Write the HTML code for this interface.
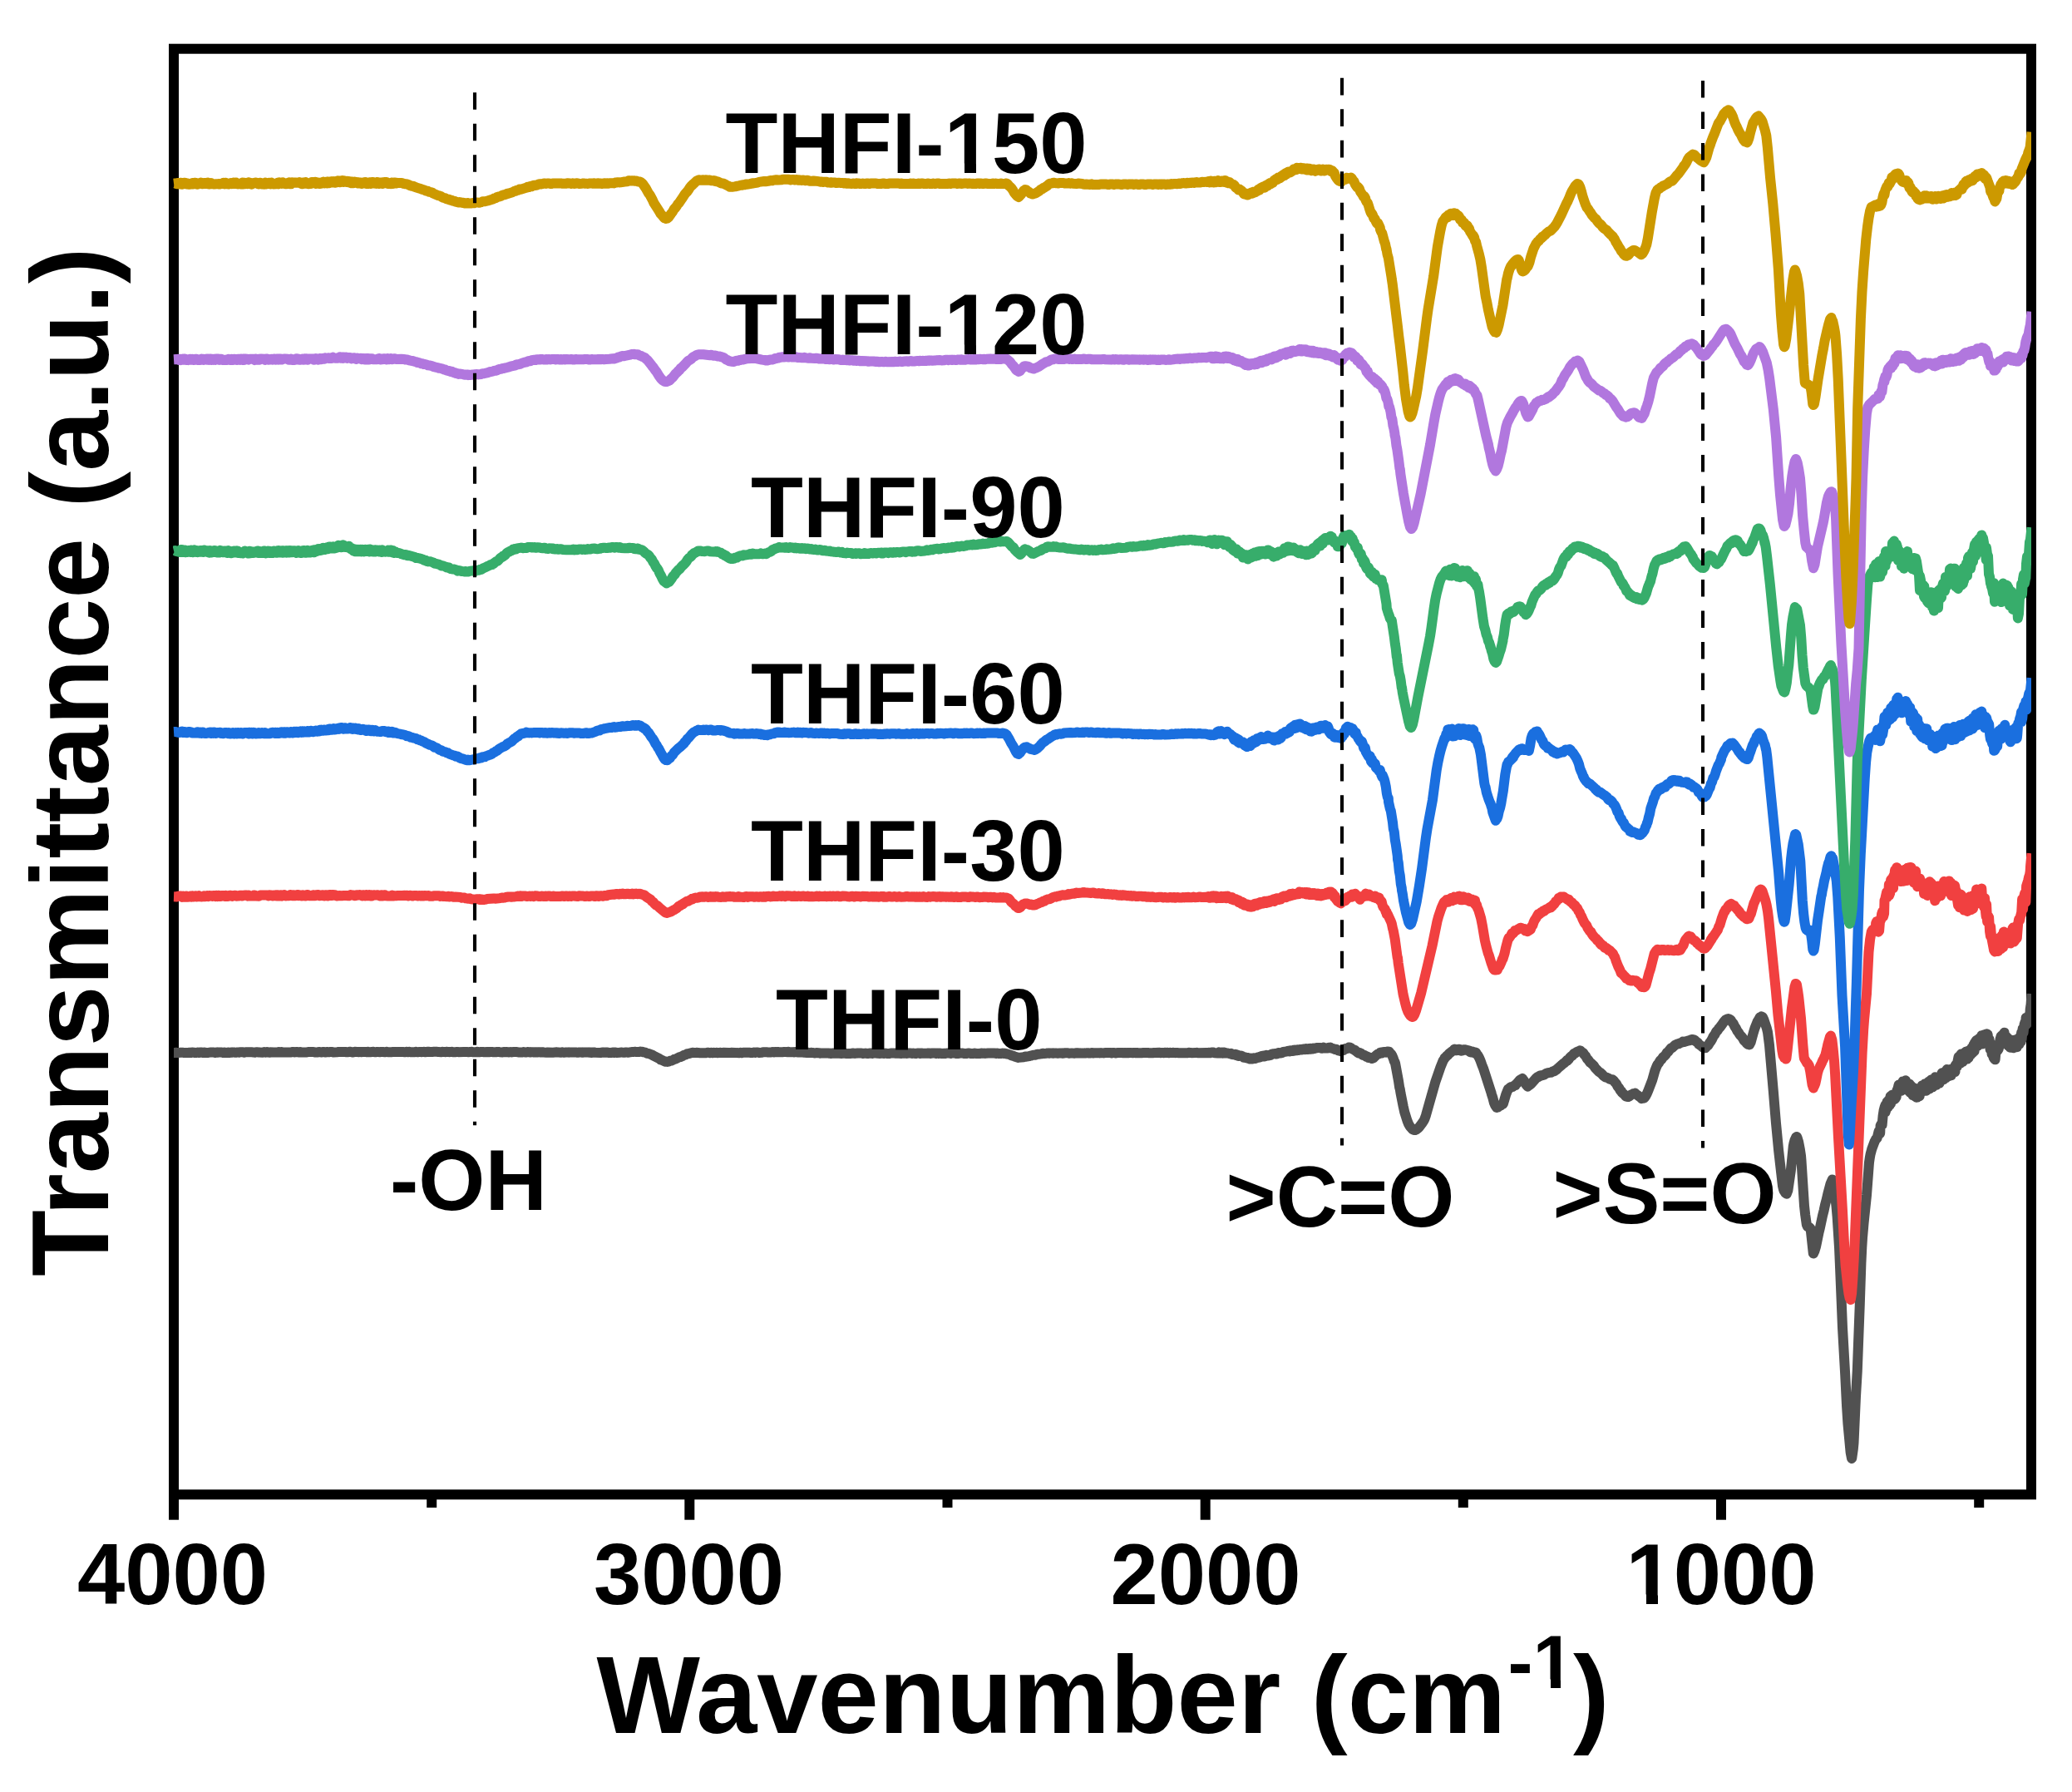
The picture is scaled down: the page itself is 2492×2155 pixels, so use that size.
<!DOCTYPE html>
<html lang="en"><head><meta charset="utf-8"><title>FTIR spectra</title>
<style>
html,body{margin:0;padding:0;background:#fff;}
svg{display:block;}
text{font-family:"Liberation Sans",Arial,Helvetica,sans-serif;font-weight:700;fill:#000;}
.c{fill:none;stroke-width:12.0;stroke-linejoin:round;stroke-linecap:butt;}
.d{stroke:#000;stroke-width:4.1;stroke-dasharray:20.6 16.9;fill:none;}
.t{stroke:#000;stroke-width:12.0;}
</style></head><body>
<svg width="2492" height="2155" viewBox="0 0 2492 2155">
<rect x="0" y="0" width="2492" height="2155" fill="#fff"/>
<defs>
<clipPath id="cp"><rect x="208" y="0" width="2235" height="2155"/></clipPath>
<clipPath id="h150"><path clip-rule="evenodd" d="M0 0H2492V2155H0ZM1140.0 196.5H1160.0V211.0H1140.0ZM1174.0 196.5H1192.0V211.0H1174.0Z"/></clipPath>
<clipPath id="h120"><path clip-rule="evenodd" d="M0 0H2492V2155H0ZM1140.0 414.5H1160.0V429.0H1140.0ZM1174.0 414.5H1192.0V429.0H1174.0Z"/></clipPath>
<clipPath id="h1000"><path clip-rule="evenodd" d="M0 0H2492V2155H0ZM1958.0 1917.5H1980.0V1932.0H1958.0ZM1994.0 1917.5H2013.0V1932.0H1994.0Z"/></clipPath>
<clipPath id="hsup"><path clip-rule="evenodd" d="M0 0H2492V2155H0ZM1845.0 2019.5H1865.0V2033.0H1845.0ZM1877.0 2019.5H1896.0V2033.0H1877.0Z"/></clipPath>
</defs>
<rect x="209.0" y="58.7" width="2234.0" height="1738.6" fill="none" stroke="#000" stroke-width="12.0"/>
<line class="t" x1="209.0" y1="1797.3" x2="209.0" y2="1827.7"/>
<line class="t" x1="829.3" y1="1797.3" x2="829.3" y2="1827.7"/>
<line class="t" x1="1449.7" y1="1797.3" x2="1449.7" y2="1827.7"/>
<line class="t" x1="2070.0" y1="1797.3" x2="2070.0" y2="1827.7"/>
<line class="t" x1="519.2" y1="1797.3" x2="519.2" y2="1813.0"/>
<line class="t" x1="1139.5" y1="1797.3" x2="1139.5" y2="1813.0"/>
<line class="t" x1="1759.8" y1="1797.3" x2="1759.8" y2="1813.0"/>
<line class="t" x1="2380.2" y1="1797.3" x2="2380.2" y2="1813.0"/>
<g clip-path="url(#cp)">
<path class="c" stroke="#515151" d="M209.0 1266.0L210.6 1266.0L212.2 1265.8L213.8 1266.1L217.0 1265.7L218.6 1265.8L220.2 1265.7L221.8 1266.1L226.6 1266.0L228.2 1265.7L229.8 1266.0L231.4 1265.6L233.0 1265.7L234.6 1266.0L236.2 1266.0L237.8 1265.6L239.4 1266.0L241.0 1265.6L242.6 1265.5L244.2 1266.0L245.8 1265.5L247.4 1265.9L250.6 1265.9L253.8 1265.4L257.0 1265.5L258.6 1265.9L260.2 1265.4L261.8 1265.8L263.4 1265.4L266.6 1265.5L268.2 1265.9L269.8 1265.4L271.4 1265.9L273.0 1265.9L274.6 1265.4L276.2 1265.9L277.8 1265.5L279.4 1265.7L281.0 1265.4L282.6 1265.8L284.2 1265.8L285.8 1265.4L287.4 1265.7L289.0 1265.3L292.2 1265.2L293.8 1265.7L295.4 1265.3L303.4 1265.3L305.0 1265.6L306.6 1265.7L308.2 1265.3L309.8 1265.2L311.4 1265.6L316.2 1265.7L317.8 1265.1L319.4 1265.7L321.0 1265.1L322.6 1265.6L324.2 1265.7L325.8 1265.2L327.4 1265.6L333.8 1265.6L335.4 1265.1L337.0 1265.6L338.6 1265.1L340.2 1265.5L349.8 1265.5L351.4 1265.1L353.0 1265.0L354.6 1265.4L356.2 1265.1L357.8 1265.1L359.4 1265.5L361.0 1265.0L362.6 1265.5L369.0 1265.4L370.6 1265.1L373.8 1265.0L375.4 1265.1L377.0 1265.0L378.6 1265.4L381.8 1265.4L383.4 1264.9L385.0 1265.3L386.6 1265.4L388.2 1265.0L389.8 1264.9L391.4 1265.4L393.0 1264.9L394.6 1265.3L396.2 1265.3L397.8 1264.9L399.4 1264.9L401.0 1265.4L405.8 1265.3L407.4 1264.9L413.8 1264.9L415.4 1265.0L417.0 1265.3L418.6 1265.2L420.2 1264.8L421.8 1264.8L423.4 1265.4L425.0 1265.4L426.6 1264.8L429.8 1264.9L431.4 1265.3L433.0 1264.9L434.6 1265.3L436.2 1264.9L439.4 1264.9L441.0 1265.3L442.6 1264.8L444.2 1265.2L445.8 1265.3L447.4 1264.9L449.0 1264.8L450.6 1265.2L452.2 1265.3L453.8 1264.9L457.0 1265.3L458.6 1264.9L460.2 1264.9L461.8 1265.2L463.4 1265.2L465.0 1264.8L466.6 1265.2L468.2 1265.3L471.4 1265.2L473.0 1264.9L476.2 1264.9L477.8 1265.1L482.6 1265.1L484.2 1264.9L485.8 1265.2L487.4 1265.2L489.0 1264.8L490.6 1265.2L492.2 1264.8L493.8 1265.2L498.6 1265.2L500.2 1264.8L501.8 1265.2L503.4 1265.2L505.0 1264.9L506.6 1265.2L508.2 1265.1L509.8 1264.8L511.4 1265.2L514.6 1264.8L516.2 1264.8L517.8 1265.1L519.4 1265.1L521.0 1264.8L525.8 1264.8L527.4 1265.1L530.6 1265.2L532.2 1264.8L533.0 1265.1L533.8 1264.9L535.4 1265.2L537.0 1264.8L538.6 1264.9L540.2 1265.2L541.8 1265.1L543.4 1264.8L545.0 1265.2L548.2 1265.2L549.8 1264.9L551.4 1265.2L557.8 1265.1L559.4 1264.9L561.0 1264.9L562.6 1265.2L564.2 1265.2L565.8 1264.9L567.4 1264.8L569.0 1265.2L572.2 1265.2L573.8 1264.8L575.4 1265.3L577.0 1265.3L578.6 1264.9L580.2 1264.9L581.8 1265.3L586.6 1264.9L588.2 1265.2L589.8 1265.0L591.4 1264.9L593.0 1265.3L596.2 1265.3L597.8 1265.0L599.4 1264.9L601.0 1265.3L604.2 1265.4L605.8 1265.0L607.4 1265.3L609.0 1265.0L610.6 1265.3L612.2 1265.4L613.8 1265.1L615.4 1265.4L617.0 1265.1L621.8 1265.1L623.4 1265.4L628.2 1265.5L629.8 1265.1L631.4 1265.4L633.0 1265.5L634.6 1265.1L636.2 1265.2L637.8 1265.5L639.4 1265.2L641.0 1265.2L642.6 1265.6L644.2 1265.2L645.8 1265.6L647.4 1265.2L649.0 1265.2L650.6 1265.6L652.2 1265.2L653.8 1265.5L657.0 1265.7L658.6 1265.5L665.0 1265.7L669.8 1265.3L671.4 1265.6L674.6 1265.7L676.2 1265.3L677.8 1265.7L679.4 1265.7L681.0 1265.4L682.6 1265.4L684.2 1265.7L685.8 1265.4L692.2 1265.4L693.8 1265.7L695.4 1265.8L697.0 1265.4L698.6 1265.4L700.2 1265.8L701.8 1265.5L706.6 1265.4L708.2 1265.7L709.8 1265.5L711.4 1265.9L713.0 1265.5L714.6 1265.5L716.2 1265.8L722.6 1265.9L724.2 1265.5L725.8 1265.5L727.4 1265.8L729.0 1265.5L730.6 1265.5L732.2 1265.9L735.4 1265.9L737.0 1265.5L738.6 1265.9L740.2 1265.5L741.8 1265.9L745.0 1265.8L746.6 1265.6L748.2 1265.6L750.0 1265.8L751.4 1265.8L753.0 1265.4L754.6 1265.7L756.2 1265.7L761.0 1264.9L762.6 1264.9L764.2 1264.7L765.8 1265.1L769.0 1264.9L770.0 1264.5L770.6 1264.8L772.2 1264.7L773.8 1265.3L775.4 1265.4L777.0 1266.2L778.6 1266.8L780.2 1267.0L785.0 1268.9L785.0 1269.1L793.0 1273.2L794.6 1274.5L796.2 1274.9L799.4 1276.5L801.0 1276.8L801.7 1276.6L802.6 1276.9L804.2 1276.6L805.8 1275.8L807.4 1275.6L809.0 1275.0L810.6 1274.0L812.2 1273.7L817.0 1271.2L818.0 1270.9L818.6 1271.0L820.2 1270.3L821.8 1269.3L823.4 1268.6L825.0 1268.3L826.6 1267.2L828.2 1267.1L833.0 1265.8L834.6 1265.9L836.2 1266.1L837.8 1265.8L839.4 1265.9L841.0 1266.2L849.0 1266.2L850.6 1265.8L852.2 1265.8L853.8 1266.2L855.4 1265.8L857.0 1266.2L858.6 1265.8L860.2 1266.1L861.8 1265.8L863.4 1266.2L865.0 1265.9L866.6 1265.8L868.2 1266.1L869.8 1265.8L876.2 1265.9L877.8 1266.1L879.4 1265.8L884.2 1265.9L885.8 1266.1L889.0 1266.2L890.6 1265.8L892.2 1266.2L893.8 1265.8L901.8 1265.7L903.4 1266.1L905.0 1266.0L906.6 1265.6L908.2 1265.9L909.8 1265.5L911.4 1265.5L913.0 1265.9L916.2 1265.8L917.8 1265.3L921.0 1265.3L922.6 1265.2L924.2 1265.6L927.4 1265.5L929.0 1265.1L930.6 1265.4L932.2 1265.0L933.8 1265.3L935.4 1265.0L937.0 1265.3L941.8 1265.2L943.4 1264.9L945.0 1265.1L947.0 1265.2L948.2 1264.8L949.8 1265.2L953.0 1265.2L954.6 1265.4L956.2 1265.0L957.8 1265.1L959.4 1265.5L961.0 1265.6L962.6 1265.3L964.2 1265.3L967.4 1265.8L970.6 1266.0L972.2 1265.7L973.8 1266.1L975.4 1265.8L977.0 1265.9L978.6 1266.3L980.2 1266.4L981.8 1266.1L985.0 1266.3L986.6 1266.7L988.2 1266.4L997.0 1266.5L997.8 1266.8L999.4 1266.9L1001.0 1266.5L1002.6 1266.5L1004.2 1266.8L1007.4 1266.5L1009.0 1266.8L1012.2 1266.9L1013.8 1266.5L1015.4 1266.6L1017.0 1266.9L1023.4 1266.9L1025.0 1266.6L1026.6 1266.6L1028.2 1266.9L1031.4 1266.5L1036.2 1266.5L1037.8 1266.9L1039.4 1266.8L1041.0 1266.6L1042.6 1266.9L1044.2 1266.9L1045.8 1266.5L1047.4 1266.6L1049.0 1266.9L1050.6 1266.5L1053.8 1266.6L1055.4 1266.8L1058.6 1266.9L1060.2 1266.6L1061.8 1266.8L1063.4 1266.9L1065.0 1266.6L1066.6 1266.9L1069.8 1266.9L1071.4 1266.5L1076.2 1266.5L1077.8 1266.8L1079.4 1266.5L1081.0 1266.8L1084.2 1266.9L1085.8 1266.6L1087.4 1266.8L1089.0 1266.6L1090.6 1266.9L1092.2 1266.6L1095.4 1266.6L1097.0 1266.9L1098.6 1266.6L1100.2 1266.9L1101.8 1266.9L1103.4 1266.5L1105.0 1266.5L1106.6 1266.9L1108.2 1266.5L1109.8 1266.8L1114.6 1266.8L1116.2 1266.5L1117.8 1266.5L1119.4 1266.9L1121.0 1266.6L1122.6 1266.5L1124.2 1266.5L1125.8 1266.9L1127.4 1266.5L1129.0 1266.9L1130.6 1266.5L1132.2 1266.9L1135.4 1266.8L1137.0 1266.9L1138.6 1266.5L1141.8 1266.6L1143.4 1266.9L1145.0 1266.5L1148.2 1266.5L1149.8 1266.9L1153.0 1266.9L1154.6 1266.6L1157.8 1266.5L1159.4 1266.9L1162.6 1266.9L1164.2 1266.5L1165.8 1266.5L1167.4 1266.9L1170.6 1266.9L1172.2 1266.5L1173.8 1266.9L1178.6 1266.9L1180.2 1266.5L1181.8 1266.8L1183.4 1266.6L1185.0 1266.9L1188.2 1266.5L1196.2 1266.6L1197.8 1266.9L1199.4 1266.5L1201.0 1266.9L1204.2 1266.9L1205.8 1266.5L1207.4 1266.9L1209.0 1266.7L1210.6 1267.5L1212.2 1267.6L1215.4 1268.7L1216.0 1269.1L1217.0 1269.5L1218.6 1269.7L1220.2 1270.4L1225.0 1271.9L1231.4 1271.3L1233.0 1270.6L1234.6 1270.7L1237.8 1270.1L1239.4 1269.5L1240.0 1269.6L1241.0 1269.2L1242.6 1268.8L1244.2 1268.8L1245.8 1268.5L1247.4 1267.8L1249.0 1267.8L1252.2 1267.4L1253.8 1266.7L1255.4 1267.0L1258.6 1266.8L1260.2 1266.4L1261.8 1266.8L1263.4 1266.4L1265.0 1266.4L1266.6 1266.8L1268.2 1266.4L1269.8 1266.4L1271.4 1266.7L1273.0 1266.7L1274.6 1266.4L1276.2 1266.4L1277.8 1266.8L1281.0 1266.3L1284.2 1266.3L1285.8 1266.7L1289.0 1266.4L1292.2 1266.7L1293.8 1266.3L1295.4 1266.5L1297.0 1266.2L1298.6 1266.6L1305.0 1266.6L1306.6 1266.2L1308.2 1266.2L1309.8 1266.5L1311.4 1266.5L1313.0 1266.1L1314.6 1266.5L1316.2 1266.2L1321.0 1266.2L1322.6 1266.4L1324.2 1266.1L1327.4 1266.4L1329.0 1266.1L1335.4 1266.0L1337.0 1266.4L1338.6 1266.0L1340.2 1266.0L1341.8 1266.4L1343.4 1266.3L1345.0 1265.9L1349.8 1266.0L1351.4 1266.3L1353.0 1266.0L1354.6 1266.3L1356.2 1266.0L1357.8 1266.2L1359.4 1265.9L1362.6 1266.3L1364.2 1265.9L1365.8 1266.3L1367.4 1266.0L1369.0 1266.3L1370.6 1266.2L1372.2 1266.3L1373.8 1266.2L1375.4 1265.9L1380.2 1265.9L1381.8 1266.3L1386.6 1266.3L1388.2 1265.9L1389.8 1266.0L1394.6 1265.8L1396.2 1266.2L1397.8 1265.9L1399.4 1266.2L1401.0 1265.8L1402.6 1265.9L1404.2 1265.8L1405.8 1266.2L1407.4 1265.8L1409.0 1266.1L1410.6 1265.8L1412.2 1265.9L1413.8 1266.2L1415.4 1265.9L1417.0 1266.2L1428.2 1266.2L1429.8 1265.8L1431.4 1265.9L1433.0 1266.2L1437.8 1266.1L1439.4 1265.8L1441.0 1266.2L1450.6 1266.0L1452.2 1266.2L1453.8 1265.8L1455.4 1266.3L1457.0 1265.6L1459.5 1265.6L1460.7 1266.3L1464.5 1266.5L1465.7 1265.5L1467.0 1266.5L1468.2 1266.5L1469.5 1265.6L1470.7 1266.5L1472.0 1265.5L1473.0 1265.6L1473.2 1266.5L1477.0 1266.6L1479.5 1267.4L1480.7 1266.8L1482.0 1268.0L1484.5 1268.4L1485.7 1267.8L1487.0 1269.1L1488.2 1268.6L1489.5 1270.0L1490.0 1269.9L1490.7 1269.4L1492.0 1269.4L1494.5 1270.4L1495.7 1271.7L1497.0 1271.2L1498.2 1272.2L1499.5 1271.8L1500.7 1272.0L1502.0 1273.1L1503.2 1273.5L1504.5 1272.7L1505.0 1273.3L1505.7 1273.5L1507.0 1273.3L1508.2 1272.4L1509.5 1273.0L1510.7 1272.6L1512.0 1271.7L1513.2 1271.2L1514.5 1271.8L1515.7 1271.3L1517.0 1270.2L1519.5 1269.6L1520.0 1270.5L1522.0 1270.1L1523.2 1268.9L1524.5 1269.4L1525.7 1269.4L1528.2 1268.8L1529.5 1267.7L1532.0 1267.2L1532.5 1267.2L1533.2 1267.0L1534.5 1267.4L1535.7 1267.5L1537.0 1266.1L1538.2 1265.9L1539.5 1266.6L1542.0 1266.1L1543.2 1265.1L1544.5 1264.7L1545.7 1264.7L1547.0 1264.5L1549.5 1263.7L1550.7 1264.4L1552.0 1263.3L1553.2 1264.1L1554.5 1264.1L1555.7 1262.8L1557.0 1262.6L1558.2 1263.4L1559.5 1263.2L1560.7 1262.3L1562.0 1263.0L1562.5 1263.0L1563.2 1261.9L1564.5 1262.1L1565.7 1262.5L1567.0 1261.6L1568.2 1261.4L1569.5 1262.1L1570.7 1261.1L1572.0 1262.0L1573.2 1262.0L1574.5 1261.0L1575.7 1260.8L1577.0 1261.7L1578.2 1261.5L1579.5 1260.6L1580.7 1261.1L1582.0 1260.5L1584.5 1260.0L1588.2 1259.9L1589.5 1260.8L1590.7 1260.6L1592.0 1259.6L1593.2 1260.6L1594.5 1260.5L1595.7 1260.3L1597.0 1260.5L1598.2 1259.7L1599.5 1259.7L1600.0 1259.5L1600.7 1260.5L1602.0 1260.5L1603.2 1261.0L1605.7 1262.1L1607.0 1261.7L1608.2 1262.4L1609.5 1263.5L1610.7 1263.3L1612.0 1263.4L1612.5 1264.2L1613.2 1263.2L1614.5 1262.9L1615.7 1263.1L1617.0 1261.9L1618.2 1261.0L1619.5 1261.3L1622.0 1259.6L1622.5 1260.5L1623.2 1259.5L1624.5 1259.9L1625.7 1261.2L1628.2 1262.4L1629.5 1262.6L1630.7 1264.0L1633.2 1265.9L1634.5 1266.6L1635.0 1266.7L1635.7 1266.2L1637.0 1266.9L1638.2 1268.2L1639.5 1269.1L1640.7 1268.8L1642.0 1269.5L1643.2 1270.9L1644.5 1270.6L1645.7 1271.9L1647.0 1271.6L1648.2 1272.1L1650.0 1272.9L1652.0 1272.3L1653.2 1270.8L1655.7 1268.7L1657.0 1267.4L1658.2 1267.4L1659.5 1266.7L1660.0 1265.7L1660.7 1265.6L1662.0 1266.4L1663.2 1265.4L1664.5 1264.9L1665.7 1265.0L1667.0 1265.6L1668.2 1264.6L1669.5 1265.4L1670.0 1264.6L1670.7 1264.7L1672.0 1266.6L1673.2 1267.4L1674.5 1269.7L1675.7 1272.6L1677.0 1276.6L1677.5 1276.9L1678.2 1279.3L1682.0 1299.8L1683.2 1307.9L1683.8 1309.8L1684.5 1314.3L1687.7 1330.5L1689.3 1337.6L1692.5 1347.7L1694.1 1351.7L1696.0 1355.0L1698.9 1358.1L1700.5 1358.9L1702.1 1358.9L1703.7 1358.2L1705.3 1357.0L1706.9 1355.4L1710.1 1351.2L1712.5 1347.5L1713.3 1345.9L1714.9 1341.4L1726.1 1301.8L1732.5 1283.2L1735.7 1275.4L1737.3 1273.1L1737.5 1272.2L1738.9 1271.1L1740.1 1269.7L1741.4 1268.8L1742.6 1267.3L1746.4 1264.3L1747.6 1263.9L1748.9 1261.8L1750.0 1263.2L1750.1 1261.7L1751.4 1263.3L1752.6 1263.1L1753.9 1261.9L1755.1 1261.7L1756.4 1263.4L1757.6 1263.7L1758.9 1263.4L1760.1 1262.3L1761.4 1262.2L1765.1 1263.1L1766.4 1263.2L1767.6 1264.9L1768.9 1265.4L1770.1 1264.4L1771.4 1264.6L1772.6 1266.2L1773.9 1265.4L1775.0 1267.0L1775.1 1265.8L1776.4 1267.8L1777.6 1269.4L1779.2 1272.4L1780.8 1276.2L1782.4 1280.8L1784.0 1284.7L1793.6 1314.3L1793.8 1315.3L1795.2 1319.6L1796.8 1325.8L1798.4 1329.5L1800.0 1331.9L1800.0 1331.2L1801.6 1331.5L1803.2 1330.2L1804.8 1329.5L1806.4 1328.2L1807.5 1327.7L1808.0 1327.0L1811.2 1316.2L1813.8 1309.6L1814.4 1309.8L1816.0 1308.0L1817.6 1306.9L1819.2 1307.0L1820.8 1305.7L1822.4 1305.3L1822.5 1304.6L1824.0 1303.3L1827.2 1299.5L1828.8 1298.2L1831.0 1297.0L1832.0 1298.3L1833.6 1300.8L1835.2 1304.0L1836.8 1306.0L1837.5 1306.5L1838.4 1305.6L1840.0 1304.6L1841.6 1303.3L1848.0 1296.1L1849.6 1294.9L1850.0 1295.4L1851.2 1293.9L1852.8 1293.2L1854.4 1293.5L1857.6 1292.3L1859.2 1291.1L1862.4 1290.1L1864.0 1289.7L1865.6 1289.7L1867.2 1288.5L1868.8 1288.5L1870.0 1287.9L1870.4 1287.0L1872.0 1286.5L1873.6 1284.7L1878.4 1280.6L1880.0 1279.1L1881.6 1278.2L1883.2 1276.7L1884.8 1274.7L1885.0 1275.5L1886.4 1274.2L1888.0 1271.9L1889.6 1270.4L1891.2 1269.4L1892.8 1267.1L1894.4 1266.6L1896.0 1265.3L1897.6 1264.6L1899.2 1264.1L1900.0 1263.4L1900.8 1263.6L1902.4 1265.2L1904.0 1265.9L1905.6 1268.5L1907.2 1270.2L1908.8 1273.2L1910.4 1274.8L1912.5 1277.9L1913.6 1278.4L1916.8 1281.6L1918.4 1284.1L1923.2 1289.1L1924.8 1290.0L1926.4 1291.3L1928.0 1293.3L1931.2 1295.6L1932.5 1295.7L1932.8 1296.0L1934.4 1296.6L1936.0 1297.6L1937.6 1298.2L1939.2 1298.3L1940.8 1299.4L1942.4 1301.7L1944.0 1303.4L1945.6 1306.7L1947.2 1308.4L1948.8 1311.4L1950.0 1312.0L1950.4 1313.4L1952.0 1315.0L1953.6 1316.1L1955.2 1318.4L1956.8 1319.0L1957.5 1318.4L1958.4 1318.9L1960.0 1318.2L1961.6 1316.5L1963.2 1316.2L1964.8 1314.9L1966.0 1315.2L1966.4 1314.6L1968.0 1316.0L1969.6 1317.0L1971.2 1318.4L1972.8 1319.4L1974.4 1321.1L1976.0 1320.6L1976.0 1320.7L1977.6 1320.5L1979.2 1318.1L1980.8 1315.1L1982.4 1311.4L1987.2 1298.8L1990.4 1287.5L1992.5 1282.2L1993.6 1280.0L1995.2 1278.1L1996.8 1275.3L1998.4 1273.9L2000.0 1271.5L2001.6 1270.2L2003.2 1268.6L2004.8 1265.9L2006.4 1264.7L2008.0 1262.5L2009.6 1260.6L2011.2 1260.1L2014.4 1256.9L2017.6 1255.3L2019.2 1255.3L2020.8 1254.1L2022.4 1253.9L2024.0 1252.6L2025.6 1252.9L2030.4 1251.5L2032.0 1251.3L2033.6 1250.3L2035.2 1250.0L2036.0 1250.8L2036.8 1250.2L2038.4 1250.8L2040.0 1252.7L2041.6 1253.4L2043.2 1255.8L2046.4 1258.0L2048.0 1259.7L2050.0 1259.8L2051.2 1260.2L2052.8 1258.2L2054.4 1257.2L2056.0 1254.3L2057.6 1252.3L2059.2 1249.5L2060.8 1246.0L2062.4 1244.1L2064.0 1240.8L2065.0 1239.6L2065.6 1239.5L2067.2 1236.8L2068.8 1235.1L2072.0 1230.7L2073.6 1228.3L2075.2 1226.6L2076.8 1225.7L2078.4 1225.1L2078.8 1225.8L2080.0 1225.6L2081.6 1226.6L2083.2 1229.3L2084.8 1231.1L2086.4 1234.5L2088.0 1236.8L2089.6 1240.1L2091.2 1242.1L2092.8 1244.8L2094.4 1246.2L2096.0 1248.4L2097.6 1251.4L2099.2 1252.6L2100.8 1254.9L2102.4 1256.0L2103.8 1255.8L2104.0 1256.4L2105.6 1253.6L2108.8 1242.0L2110.4 1236.8L2113.6 1228.6L2115.2 1226.2L2116.8 1223.1L2118.4 1222.9L2118.5 1222.3L2120.0 1223.2L2121.6 1226.8L2124.8 1236.4L2126.0 1241.2L2128.0 1256.7L2132.8 1311.9L2136.0 1350.8L2139.2 1384.1L2144.0 1426.1L2145.0 1430.3L2145.6 1432.0L2147.2 1434.4L2148.8 1435.8L2150.4 1431.4L2153.8 1407.8L2156.8 1378.2L2157.5 1374.7L2158.4 1371.5L2160.0 1367.8L2161.0 1367.0L2161.6 1368.3L2163.2 1373.6L2164.8 1381.8L2166.0 1389.8L2166.4 1394.4L2170.0 1450.1L2171.2 1461.0L2172.8 1472.5L2173.8 1474.8L2174.4 1475.3L2176.0 1475.9L2177.5 1477.2L2177.6 1477.6L2180.8 1507.1L2181.0 1507.4L2182.4 1504.4L2184.0 1499.2L2187.5 1482.2L2188.8 1477.1L2192.0 1462.1L2193.6 1455.8L2193.8 1454.8L2195.2 1448.2L2196.8 1442.3L2198.4 1435.3L2201.6 1423.4L2203.8 1418.4L2204.8 1420.7L2206.4 1431.2L2208.5 1450.3L2209.6 1462.6L2212.0 1499.8L2212.8 1518.2L2216.0 1596.5L2219.2 1652.9L2221.0 1689.9L2222.4 1711.7L2225.6 1746.3L2227.0 1753.6L2227.2 1754.0L2228.8 1742.6L2229.5 1735.2L2232.0 1679.3L2233.8 1648.1L2236.8 1568.1L2238.4 1519.4L2239.3 1499.9L2240.0 1488.7L2241.6 1470.2L2245.0 1437.3L2248.0 1397.9L2248.8 1392.4L2249.6 1388.0L2251.2 1381.9L2254.4 1373.3L2256.0 1370.1L2257.6 1368.7L2259.6 1360.4L2260.6 1363.6L2261.2 1362.8L2261.6 1353.6L2262.6 1351.6L2263.6 1353.1L2264.6 1341.9L2265.6 1335.3L2266.6 1331.5L2267.6 1328.6L2267.6 1337.2L2268.6 1333.8L2269.6 1324.9L2270.6 1331.6L2271.6 1322.7L2272.6 1329.0L2273.6 1318.3L2274.0 1327.3L2274.6 1317.9L2275.6 1316.6L2276.6 1322.0L2277.6 1322.2L2278.6 1322.0L2279.6 1321.0L2280.3 1318.1L2280.6 1319.3L2281.6 1311.1L2282.6 1308.9L2283.6 1304.5L2284.6 1305.8L2285.6 1305.2L2285.7 1311.7L2286.6 1311.8L2287.6 1303.1L2288.6 1300.5L2289.6 1300.5L2290.6 1302.2L2291.6 1299.4L2292.0 1299.3L2292.6 1307.5L2293.6 1310.1L2294.6 1308.6L2295.6 1312.1L2296.6 1303.6L2297.6 1314.0L2298.4 1314.1L2298.6 1306.0L2299.6 1315.6L2300.6 1317.2L2301.6 1310.3L2302.6 1308.5L2303.6 1318.9L2304.6 1311.7L2304.8 1319.7L2305.6 1319.6L2306.6 1312.0L2307.6 1317.7L2308.6 1318.2L2309.6 1309.7L2310.1 1307.9L2310.6 1307.9L2311.6 1305.6L2312.6 1305.8L2313.6 1312.0L2314.6 1303.6L2315.6 1311.1L2316.6 1311.7L2317.5 1311.0L2318.6 1309.2L2319.6 1300.7L2320.6 1309.5L2321.6 1299.9L2322.6 1298.4L2323.6 1307.3L2324.6 1307.3L2325.6 1297.8L2326.6 1297.5L2327.6 1295.2L2328.6 1304.9L2329.6 1301.7L2330.6 1302.1L2331.6 1295.8L2332.6 1302.6L2333.6 1299.5L2334.6 1293.5L2335.6 1290.3L2336.6 1290.6L2337.6 1298.3L2338.6 1297.0L2339.6 1288.8L2340.6 1296.2L2340.9 1295.7L2341.6 1286.1L2342.6 1286.3L2343.6 1294.2L2344.6 1292.8L2345.6 1286.0L2346.6 1293.2L2347.6 1289.8L2348.6 1289.9L2350.6 1288.0L2351.5 1289.0L2351.6 1281.5L2352.6 1279.9L2353.6 1282.9L2354.6 1275.7L2355.6 1270.7L2356.8 1277.9L2357.6 1279.0L2358.6 1267.5L2359.6 1267.9L2360.6 1277.0L2361.6 1275.2L2362.6 1266.8L2364.6 1264.4L2365.6 1273.6L2366.6 1266.1L2367.4 1264.3L2367.6 1271.7L2368.6 1262.9L2369.6 1269.1L2370.6 1267.8L2371.6 1259.8L2372.6 1266.0L2373.6 1256.4L2374.6 1263.9L2374.8 1254.0L2375.6 1254.1L2376.6 1251.5L2377.6 1250.7L2378.6 1257.8L2379.6 1256.3L2380.6 1248.5L2381.6 1255.6L2382.6 1247.4L2383.3 1245.2L2383.6 1255.6L2384.6 1245.3L2385.6 1245.4L2386.6 1244.1L2387.6 1251.5L2388.6 1251.3L2388.7 1243.8L2389.6 1243.3L2390.6 1243.8L2391.6 1254.6L2392.6 1250.2L2393.6 1262.0L2394.0 1254.4L2394.6 1256.6L2395.6 1267.6L2396.6 1267.8L2397.6 1271.8L2398.6 1273.5L2399.3 1264.6L2399.6 1274.3L2400.6 1262.7L2401.6 1260.1L2402.6 1263.4L2403.6 1261.6L2404.6 1258.0L2404.6 1256.2L2405.6 1249.6L2406.6 1246.1L2407.6 1245.3L2408.6 1252.0L2409.6 1243.2L2409.9 1251.6L2410.6 1241.8L2411.6 1252.0L2412.6 1254.9L2413.6 1247.3L2414.6 1256.4L2415.2 1248.7L2415.6 1257.9L2416.6 1256.7L2417.6 1259.7L2418.6 1251.1L2419.6 1250.8L2420.5 1258.9L2420.6 1253.5L2421.6 1260.2L2422.6 1257.7L2423.6 1252.1L2424.6 1250.2L2425.6 1250.3L2425.8 1259.2L2426.6 1255.7L2427.6 1248.8L2428.6 1255.7L2429.6 1246.3L2430.6 1252.6L2431.1 1241.8L2431.6 1249.8L2432.6 1237.1L2433.6 1241.6L2434.6 1231.9L2435.6 1229.0L2436.4 1232.6L2436.6 1223.8L2437.6 1231.5L2438.6 1228.0L2439.6 1226.6L2441.6 1217.1L2441.7 1214.1L2442.6 1207.5L2443.5 1195.1"/>
<path class="c" stroke="#F14040" d="M209.0 1078.3L212.2 1078.4L213.8 1077.7L215.4 1077.6L216.6 1077.7L217.9 1077.5L219.1 1078.7L220.4 1077.7L221.6 1078.8L222.9 1078.6L224.1 1077.7L225.4 1078.7L227.9 1078.5L229.1 1077.6L230.4 1078.5L231.6 1077.2L232.9 1078.5L234.1 1078.2L235.4 1077.3L236.6 1078.3L237.9 1077.5L239.1 1077.1L240.4 1078.3L242.9 1078.4L244.1 1078.2L245.4 1077.4L246.6 1078.2L247.9 1078.1L249.1 1077.0L250.4 1078.3L251.6 1077.0L254.1 1077.2L255.4 1077.9L256.6 1076.9L257.9 1077.2L259.1 1078.0L260.4 1077.0L261.6 1078.0L262.9 1077.0L264.1 1077.9L265.4 1077.9L266.6 1077.0L267.9 1076.9L269.1 1077.0L270.4 1077.9L271.6 1076.7L272.9 1077.9L274.1 1078.0L275.4 1077.7L276.6 1076.7L277.9 1077.0L279.1 1077.8L280.4 1077.0L281.6 1076.9L282.9 1076.7L284.1 1077.7L286.6 1077.6L287.9 1076.9L289.1 1076.7L290.4 1076.8L291.6 1077.5L292.9 1076.8L295.4 1076.5L296.6 1076.5L297.9 1077.5L299.1 1076.7L300.4 1077.5L304.1 1077.6L305.4 1076.5L306.6 1076.7L307.9 1077.6L311.6 1077.7L312.9 1076.6L319.1 1076.4L320.4 1076.5L321.6 1076.5L322.9 1077.3L324.1 1076.2L325.4 1076.6L326.6 1076.6L327.9 1077.4L329.1 1077.3L330.4 1076.5L331.6 1076.3L332.9 1077.5L334.1 1076.4L335.4 1077.3L336.6 1077.4L337.9 1076.4L339.1 1077.5L340.4 1076.5L341.6 1076.1L342.9 1076.5L344.1 1077.4L345.4 1077.2L347.9 1077.3L349.1 1076.1L350.4 1076.2L351.6 1077.1L352.9 1076.3L354.1 1077.2L355.4 1077.2L356.6 1076.2L357.9 1076.1L359.1 1077.1L360.4 1076.4L361.6 1076.4L362.9 1077.4L364.1 1076.4L365.4 1077.2L367.9 1077.4L369.1 1076.1L370.4 1076.1L371.6 1077.2L372.9 1077.2L374.1 1077.1L375.4 1077.3L376.6 1076.2L377.9 1076.4L379.1 1077.1L380.4 1076.3L382.9 1076.0L384.1 1077.3L385.4 1077.1L386.6 1076.4L387.9 1076.3L389.1 1077.3L390.4 1077.4L391.6 1076.3L392.9 1076.2L394.1 1077.4L395.4 1077.0L396.6 1076.1L397.9 1076.1L399.1 1077.1L400.0 1076.0L402.9 1076.2L404.1 1077.0L405.4 1077.4L406.6 1077.3L407.9 1077.0L411.6 1077.2L412.9 1077.1L416.6 1077.0L419.1 1077.3L420.4 1077.2L421.6 1076.1L422.9 1076.4L425.4 1076.4L426.6 1077.2L427.9 1077.1L429.1 1076.2L431.6 1076.4L432.9 1076.1L434.1 1076.3L435.4 1077.3L436.6 1076.3L437.9 1076.3L439.1 1077.4L440.4 1076.2L441.6 1077.1L442.9 1077.3L444.1 1076.1L445.4 1077.4L446.6 1076.4L447.9 1077.3L449.1 1076.5L450.4 1076.3L451.6 1076.5L454.1 1076.3L455.4 1076.4L456.6 1077.4L457.9 1077.4L459.1 1076.5L460.4 1077.4L461.6 1076.5L462.9 1076.3L464.1 1077.3L466.6 1077.6L467.9 1077.4L470.4 1077.5L471.6 1076.4L472.9 1077.6L475.4 1077.2L477.0 1077.3L478.6 1076.9L481.8 1077.1L483.4 1076.9L486.6 1076.8L488.2 1076.9L489.8 1076.7L491.4 1077.4L493.0 1076.8L494.6 1076.9L496.2 1077.6L497.8 1076.9L501.0 1077.0L502.6 1077.5L504.2 1077.1L505.8 1077.5L507.4 1077.1L509.0 1077.6L510.6 1077.0L513.8 1077.2L515.4 1077.1L517.0 1077.8L520.2 1077.8L521.8 1077.3L528.2 1077.3L529.8 1078.0L531.4 1077.4L533.0 1077.9L533.0 1077.4L534.6 1078.1L537.8 1078.2L539.4 1077.7L541.0 1078.4L542.6 1078.1L544.2 1078.2L545.8 1078.8L547.4 1078.6L553.8 1079.1L555.4 1079.8L557.0 1079.4L558.6 1079.5L560.2 1080.3L563.4 1080.7L565.0 1080.3L566.6 1081.3L571.4 1081.7L573.0 1081.3L576.2 1081.3L577.0 1081.9L577.8 1081.3L579.4 1082.0L581.0 1081.8L582.6 1081.9L584.2 1081.6L585.8 1081.0L593.8 1080.4L595.4 1080.7L601.8 1080.1L603.4 1079.4L605.0 1079.7L606.6 1079.6L608.2 1079.0L611.4 1078.5L613.0 1078.4L614.6 1078.8L616.2 1078.5L617.8 1078.5L621.0 1078.1L622.6 1077.5L624.2 1078.0L625.8 1077.3L627.0 1078.1L627.4 1077.5L632.2 1077.4L633.8 1078.1L635.4 1077.9L637.0 1077.5L638.6 1078.0L640.2 1077.4L641.8 1078.1L643.4 1077.3L646.6 1077.5L648.2 1078.1L649.8 1078.1L651.4 1077.4L653.0 1078.0L654.6 1077.9L656.2 1077.5L657.8 1078.0L659.4 1077.4L661.0 1077.4L662.6 1077.9L664.2 1077.9L665.8 1077.4L667.4 1078.1L669.0 1077.9L670.6 1078.1L672.2 1077.9L673.8 1078.1L675.4 1077.4L677.0 1077.4L678.6 1077.9L680.2 1077.4L681.8 1077.4L683.4 1077.9L685.0 1077.4L686.6 1078.0L688.2 1077.5L691.4 1077.4L693.0 1077.9L694.6 1078.1L696.2 1077.3L699.4 1077.5L701.0 1077.4L702.6 1078.0L704.2 1077.9L705.8 1077.4L707.4 1078.0L709.0 1078.0L710.6 1077.5L713.8 1077.5L715.4 1078.1L717.0 1077.3L720.0 1077.5L720.2 1077.9L721.8 1077.5L723.4 1077.3L725.0 1077.7L726.6 1077.0L728.2 1077.3L729.8 1077.2L731.4 1076.3L737.8 1075.5L739.4 1075.7L741.0 1075.1L742.6 1075.0L744.2 1075.4L745.8 1074.7L747.0 1075.2L749.0 1074.6L750.6 1075.3L752.2 1075.2L753.8 1074.7L755.4 1074.8L757.0 1075.3L758.6 1075.2L760.2 1074.6L761.8 1075.4L763.4 1074.8L765.0 1074.6L766.6 1075.2L768.2 1074.8L769.8 1075.2L770.0 1074.8L773.0 1076.0L774.6 1076.2L777.8 1078.9L782.6 1081.9L784.2 1083.9L785.8 1085.0L787.4 1087.1L789.0 1088.5L790.6 1089.1L793.8 1092.1L800.2 1097.3L801.8 1097.9L806.6 1096.5L809.8 1094.6L811.4 1093.9L814.6 1091.7L816.2 1089.8L818.0 1089.3L819.4 1088.0L821.0 1087.5L822.6 1086.0L825.8 1084.0L827.4 1083.8L829.0 1082.8L830.6 1082.2L832.2 1080.9L833.0 1081.3L833.8 1080.6L837.0 1079.6L838.6 1079.8L840.2 1079.4L841.8 1078.5L843.4 1078.7L845.0 1078.2L845.0 1078.8L846.6 1078.7L848.2 1078.2L849.8 1078.3L851.4 1078.9L853.0 1078.8L854.6 1078.1L856.2 1078.8L857.8 1078.2L859.4 1078.8L861.0 1078.1L862.6 1078.3L864.2 1078.8L867.4 1078.9L869.0 1078.3L870.6 1078.8L872.2 1078.8L873.8 1078.2L875.4 1078.3L878.6 1078.1L880.2 1078.3L881.8 1078.2L883.4 1078.8L886.6 1078.8L888.2 1078.1L889.8 1078.8L891.4 1078.7L893.0 1078.9L894.6 1078.9L896.2 1078.2L897.8 1078.1L899.4 1078.9L901.0 1078.3L905.8 1078.2L907.4 1078.8L909.0 1078.3L910.6 1078.3L912.2 1078.8L913.0 1078.7L913.8 1078.2L915.4 1078.2L917.0 1078.8L918.6 1078.0L920.2 1078.7L921.8 1078.0L925.0 1077.8L926.6 1078.4L928.2 1078.2L929.8 1077.6L931.4 1078.1L934.6 1078.1L936.2 1077.9L937.8 1077.3L939.4 1077.9L940.0 1077.9L941.0 1077.3L942.6 1077.4L944.2 1078.1L945.8 1077.3L950.6 1077.4L952.2 1077.9L953.8 1078.0L955.4 1077.3L957.0 1078.0L958.6 1078.1L960.2 1077.4L961.8 1077.9L963.4 1078.1L965.0 1077.6L966.6 1077.4L968.2 1078.1L969.8 1078.1L971.4 1077.5L973.0 1078.2L976.2 1078.0L977.8 1078.2L981.0 1078.1L982.6 1077.6L984.2 1078.2L985.8 1077.5L987.4 1078.1L990.6 1078.0L992.2 1077.6L993.8 1078.2L995.4 1077.7L997.0 1078.1L998.6 1077.6L1000.2 1078.2L1001.8 1077.6L1003.4 1077.7L1005.0 1078.1L1006.6 1077.6L1008.2 1077.6L1009.8 1078.3L1011.4 1078.2L1013.0 1077.6L1017.8 1077.8L1019.4 1078.2L1021.0 1078.4L1022.6 1078.3L1024.2 1077.8L1025.8 1077.8L1027.4 1078.5L1029.0 1077.8L1032.2 1077.9L1033.8 1078.3L1035.4 1078.4L1037.0 1077.8L1043.4 1077.9L1045.0 1078.4L1046.6 1078.5L1048.2 1077.9L1049.8 1078.6L1051.4 1078.1L1053.0 1078.5L1054.6 1078.1L1056.2 1078.7L1057.8 1078.5L1059.4 1078.1L1061.0 1078.0L1062.6 1078.6L1063.0 1077.9L1064.2 1078.6L1065.8 1078.7L1067.4 1078.5L1069.0 1078.1L1070.6 1078.0L1072.2 1078.6L1073.8 1078.5L1075.4 1078.1L1077.0 1078.2L1078.6 1078.7L1080.2 1078.6L1081.8 1078.1L1083.4 1078.7L1088.2 1078.6L1089.8 1078.1L1091.4 1078.1L1093.0 1078.6L1094.6 1078.6L1096.2 1078.3L1097.8 1078.6L1099.4 1078.2L1101.0 1078.7L1102.6 1078.2L1104.2 1078.7L1105.8 1078.3L1107.4 1078.8L1109.0 1078.8L1110.6 1078.1L1112.2 1078.8L1115.4 1078.9L1117.0 1078.1L1118.6 1078.7L1120.2 1078.3L1121.8 1078.1L1125.0 1078.2L1126.6 1078.8L1128.2 1078.3L1129.8 1078.1L1131.4 1078.8L1133.0 1078.2L1136.2 1078.4L1137.8 1078.8L1139.4 1078.4L1141.0 1078.8L1142.6 1078.8L1144.2 1078.2L1145.8 1078.8L1147.4 1078.9L1149.0 1078.4L1150.6 1078.3L1152.2 1079.0L1155.4 1078.9L1157.0 1078.4L1161.8 1078.4L1163.4 1079.0L1165.0 1079.1L1166.6 1078.3L1168.2 1078.5L1169.8 1078.4L1171.4 1078.6L1173.0 1079.0L1174.6 1078.5L1176.2 1078.6L1177.8 1079.2L1179.4 1079.0L1181.0 1079.1L1182.6 1078.5L1187.4 1078.7L1189.0 1079.3L1190.6 1078.8L1192.2 1078.8L1193.8 1079.4L1195.4 1078.8L1197.0 1079.4L1201.8 1079.5L1203.4 1079.0L1205.0 1079.6L1206.6 1079.0L1208.2 1079.6L1210.0 1079.5L1213.0 1080.6L1214.6 1082.2L1216.2 1084.7L1217.8 1086.0L1219.4 1087.1L1221.0 1089.4L1222.6 1090.3L1224.2 1091.8L1225.0 1092.1L1225.8 1091.8L1227.4 1090.8L1229.0 1088.9L1230.6 1087.4L1232.2 1087.1L1233.0 1086.4L1235.4 1086.6L1237.0 1087.0L1238.6 1087.9L1240.2 1087.6L1241.8 1088.5L1243.0 1088.1L1243.4 1088.6L1245.0 1088.4L1246.6 1087.4L1249.8 1086.1L1251.4 1085.2L1253.0 1085.0L1254.6 1083.7L1256.2 1083.7L1257.0 1082.8L1257.8 1082.4L1261.0 1081.2L1262.6 1081.2L1264.2 1080.4L1265.8 1079.2L1270.0 1078.0L1270.6 1078.5L1272.2 1077.5L1273.8 1077.7L1275.4 1076.8L1278.6 1076.2L1280.2 1076.6L1283.4 1076.1L1285.0 1075.1L1285.0 1075.8L1288.2 1075.2L1289.8 1074.4L1291.4 1074.7L1293.0 1074.5L1294.6 1073.6L1296.2 1074.0L1301.0 1073.5L1302.6 1073.1L1303.0 1073.5L1304.2 1073.0L1305.8 1073.6L1307.4 1073.6L1312.2 1073.9L1313.8 1073.5L1315.4 1073.6L1317.0 1074.3L1320.2 1074.5L1321.8 1074.0L1323.4 1074.6L1325.0 1074.3L1325.0 1074.9L1326.6 1074.3L1328.2 1075.0L1329.8 1075.3L1331.4 1075.3L1333.0 1075.0L1334.6 1075.6L1336.2 1075.3L1337.8 1075.9L1339.4 1075.5L1341.0 1075.8L1342.6 1075.8L1344.2 1076.6L1345.8 1076.7L1347.4 1076.2L1349.0 1077.0L1350.0 1076.3L1353.8 1076.8L1355.4 1077.2L1357.0 1076.9L1358.6 1077.5L1360.2 1077.1L1361.8 1077.8L1363.4 1077.3L1365.0 1077.4L1366.6 1077.9L1368.2 1078.0L1369.8 1077.7L1373.0 1077.8L1374.6 1078.3L1376.2 1078.0L1377.8 1078.0L1379.4 1078.7L1381.0 1078.2L1382.6 1078.8L1384.2 1078.9L1385.8 1078.3L1387.4 1079.0L1390.6 1079.2L1392.2 1079.1L1393.8 1078.8L1397.0 1078.7L1398.6 1079.5L1400.2 1079.3L1401.8 1078.9L1403.4 1079.6L1405.0 1079.6L1406.6 1078.9L1408.2 1079.0L1409.8 1079.5L1411.4 1079.0L1413.0 1079.0L1413.0 1079.7L1414.6 1079.5L1416.2 1078.9L1417.8 1079.5L1421.0 1079.6L1422.6 1078.9L1424.2 1079.5L1425.8 1078.9L1427.4 1079.3L1429.0 1078.7L1430.6 1079.3L1433.8 1079.2L1435.4 1078.6L1437.0 1079.2L1440.2 1079.1L1441.8 1078.5L1443.4 1078.5L1445.0 1079.0L1450.0 1078.8L1451.4 1079.1L1453.0 1078.2L1454.2 1079.7L1455.5 1079.8L1456.7 1079.5L1457.7 1077.5L1458.7 1079.6L1459.7 1077.3L1460.7 1077.8L1461.7 1079.6L1462.7 1077.5L1463.7 1080.2L1464.7 1079.7L1465.7 1079.9L1466.7 1079.7L1467.7 1079.9L1468.7 1077.8L1469.7 1080.1L1470.7 1080.1L1471.7 1077.9L1472.7 1078.0L1473.7 1077.7L1474.7 1077.7L1475.0 1080.2L1475.7 1080.2L1476.7 1077.6L1477.7 1079.7L1478.7 1079.9L1479.7 1080.5L1480.7 1081.4L1481.7 1079.1L1482.7 1081.4L1483.7 1082.3L1484.7 1082.5L1485.7 1080.9L1486.7 1081.7L1487.7 1081.9L1488.7 1082.9L1489.7 1085.3L1490.0 1082.8L1490.7 1083.7L1491.7 1084.1L1492.7 1086.7L1493.7 1084.4L1494.7 1087.3L1495.7 1085.6L1496.7 1088.8L1497.7 1087.1L1499.7 1087.5L1500.7 1088.5L1501.7 1090.3L1502.5 1088.0L1502.7 1090.5L1503.7 1090.3L1504.7 1090.7L1505.7 1090.5L1506.7 1090.4L1507.7 1088.0L1508.7 1087.1L1510.7 1086.5L1511.7 1088.7L1512.7 1086.4L1513.7 1086.0L1514.7 1087.6L1515.7 1085.1L1516.7 1085.1L1517.0 1086.9L1517.7 1084.9L1518.7 1086.6L1519.7 1084.6L1520.7 1083.7L1521.7 1083.8L1522.7 1086.1L1523.7 1085.3L1524.7 1085.4L1525.7 1083.2L1526.7 1085.0L1527.7 1084.7L1528.7 1082.5L1529.7 1082.4L1530.7 1082.2L1531.7 1081.3L1532.5 1083.9L1534.7 1082.5L1535.7 1080.2L1536.7 1080.4L1537.7 1082.1L1539.7 1081.1L1540.7 1081.4L1541.7 1078.5L1543.7 1077.7L1544.7 1077.5L1545.7 1077.6L1547.0 1079.2L1547.7 1077.1L1549.7 1076.4L1550.7 1077.8L1551.7 1075.0L1552.7 1077.1L1553.7 1076.9L1554.7 1074.6L1555.7 1075.8L1556.7 1076.1L1557.7 1075.2L1558.7 1075.6L1559.7 1075.1L1560.7 1075.3L1561.7 1074.8L1562.5 1075.1L1562.7 1072.6L1563.7 1073.2L1565.7 1073.2L1566.7 1073.0L1567.7 1074.6L1568.7 1073.1L1569.7 1073.1L1570.7 1075.4L1571.7 1073.1L1572.7 1073.4L1573.7 1073.3L1574.7 1076.0L1575.7 1076.1L1576.7 1074.3L1577.7 1074.5L1578.7 1074.0L1579.7 1076.0L1580.7 1074.0L1581.7 1074.4L1582.7 1076.5L1583.7 1077.0L1584.7 1074.4L1585.7 1076.6L1586.7 1077.2L1587.7 1075.3L1588.7 1077.4L1589.7 1074.9L1590.0 1075.1L1590.7 1076.9L1591.7 1075.0L1592.7 1074.8L1593.7 1076.1L1594.7 1075.9L1595.7 1073.4L1596.7 1075.5L1597.7 1074.7L1598.7 1072.5L1599.7 1073.0L1600.0 1074.8L1600.7 1072.5L1601.7 1073.4L1602.7 1073.9L1603.7 1075.3L1604.7 1078.8L1605.7 1077.6L1606.7 1081.2L1607.7 1082.0L1608.7 1083.9L1609.7 1082.6L1610.7 1083.7L1611.7 1085.8L1612.5 1084.1L1612.7 1086.4L1613.7 1083.5L1615.7 1083.0L1616.7 1082.0L1617.7 1083.4L1618.7 1082.2L1619.7 1081.4L1620.7 1078.8L1621.0 1079.3L1621.7 1078.5L1622.7 1078.4L1623.7 1077.1L1624.7 1078.8L1625.7 1078.7L1626.7 1075.5L1627.7 1075.6L1628.7 1075.4L1629.7 1076.8L1630.0 1074.8L1631.7 1076.8L1632.7 1077.4L1634.7 1080.3L1635.0 1080.4L1635.7 1081.8L1636.7 1078.9L1637.7 1078.1L1638.7 1077.7L1639.7 1078.4L1640.7 1077.9L1641.7 1076.9L1642.5 1074.6L1642.7 1077.5L1643.7 1077.0L1644.7 1077.4L1645.7 1077.3L1646.7 1075.6L1647.7 1077.7L1649.7 1077.7L1650.7 1077.9L1651.7 1079.0L1652.7 1079.2L1653.7 1077.5L1654.7 1079.9L1655.7 1079.8L1657.5 1081.1L1657.7 1079.2L1658.7 1079.6L1659.7 1083.1L1660.7 1082.9L1661.7 1084.3L1662.7 1088.7L1663.7 1090.9L1664.7 1092.2L1665.7 1093.1L1666.7 1096.8L1667.5 1096.4L1667.7 1099.4L1668.7 1098.9L1672.7 1107.7L1673.7 1110.3L1675.0 1116.5L1675.7 1118.9L1677.7 1129.3L1680.7 1151.7L1681.0 1151.4L1681.7 1158.1L1687.5 1195.3L1690.1 1206.5L1691.7 1212.4L1693.3 1216.7L1694.9 1219.4L1696.5 1221.6L1698.1 1222.9L1698.8 1223.0L1699.7 1222.5L1701.3 1220.0L1702.9 1215.7L1709.3 1193.7L1722.5 1137.5L1728.5 1108.0L1730.1 1102.2L1733.3 1092.6L1734.9 1088.7L1736.5 1085.3L1737.5 1085.5L1737.7 1083.9L1739.0 1085.2L1740.0 1081.9L1741.0 1084.3L1742.0 1084.6L1743.0 1083.5L1744.0 1082.9L1745.0 1080.2L1746.0 1079.7L1747.0 1083.2L1748.0 1079.4L1749.0 1078.6L1750.0 1081.9L1751.0 1081.4L1753.0 1081.3L1753.8 1081.1L1754.0 1077.9L1755.0 1077.5L1756.0 1078.9L1757.0 1082.3L1759.0 1082.3L1760.0 1078.3L1761.0 1078.7L1762.0 1079.4L1763.0 1079.4L1764.0 1082.5L1765.0 1082.6L1766.0 1079.6L1767.0 1083.8L1768.0 1084.1L1769.0 1083.9L1770.0 1081.4L1771.0 1084.5L1772.0 1082.4L1772.5 1082.2L1773.0 1086.5L1774.0 1082.7L1775.0 1088.6L1776.0 1088.0L1777.0 1091.9L1778.2 1094.2L1781.1 1104.0L1782.7 1112.1L1785.9 1131.0L1787.5 1138.0L1789.6 1145.8L1790.9 1149.2L1793.4 1157.6L1794.6 1160.8L1795.9 1164.7L1797.1 1166.4L1798.4 1166.6L1799.6 1166.1L1800.9 1166.3L1802.1 1163.4L1803.4 1162.0L1805.9 1156.5L1807.1 1152.8L1807.5 1153.1L1809.6 1146.4L1810.9 1140.3L1813.4 1130.8L1814.6 1127.8L1815.0 1128.1L1817.1 1125.1L1818.4 1122.6L1819.6 1122.6L1820.9 1121.2L1822.1 1118.9L1823.4 1119.0L1825.9 1117.4L1827.1 1116.9L1828.4 1115.7L1829.6 1115.7L1830.0 1116.3L1830.9 1116.5L1832.1 1117.3L1833.4 1117.1L1834.6 1119.3L1835.9 1119.1L1837.1 1120.3L1837.5 1119.3L1838.4 1119.4L1840.9 1117.6L1842.1 1114.1L1843.4 1112.7L1844.6 1108.9L1845.9 1106.3L1847.1 1104.6L1850.0 1099.3L1850.9 1099.9L1852.1 1098.8L1853.4 1097.0L1854.6 1097.2L1855.9 1095.5L1857.1 1095.7L1858.4 1094.2L1862.1 1092.4L1863.4 1091.4L1864.6 1090.9L1865.0 1091.6L1865.9 1089.9L1867.1 1089.6L1868.4 1087.4L1869.6 1087.0L1870.9 1084.3L1872.1 1083.6L1873.4 1082.4L1874.6 1080.1L1875.9 1080.3L1877.1 1078.5L1878.4 1079.4L1878.8 1078.4L1879.6 1079.3L1880.9 1078.4L1882.1 1079.8L1883.4 1080.4L1885.9 1082.3L1887.1 1081.9L1888.4 1083.9L1889.6 1085.1L1890.9 1085.5L1892.1 1087.7L1893.4 1088.1L1894.6 1089.1L1895.0 1090.3L1895.9 1091.6L1897.1 1092.3L1898.4 1095.4L1899.6 1096.7L1900.9 1100.2L1902.1 1101.9L1903.4 1105.3L1905.9 1110.3L1907.5 1111.9L1908.4 1113.2L1909.6 1116.2L1912.1 1119.8L1913.4 1120.6L1914.6 1123.1L1915.9 1125.0L1918.4 1127.9L1919.6 1128.5L1920.9 1130.9L1922.1 1131.3L1923.4 1132.9L1924.6 1135.0L1925.0 1134.4L1925.9 1136.2L1928.4 1137.3L1929.6 1139.5L1930.9 1140.1L1932.1 1140.0L1933.4 1141.1L1934.6 1142.8L1935.9 1142.7L1938.4 1145.3L1940.0 1146.8L1940.9 1149.2L1942.1 1150.7L1943.4 1154.8L1945.9 1161.5L1948.4 1166.6L1949.6 1170.0L1950.0 1170.5L1950.9 1170.7L1953.4 1173.6L1954.6 1174.6L1955.9 1176.8L1957.1 1176.8L1959.6 1179.1L1960.0 1178.4L1960.9 1179.4L1962.1 1179.6L1963.4 1178.8L1964.6 1179.2L1965.9 1179.4L1967.5 1179.3L1968.4 1179.8L1969.6 1181.8L1970.9 1181.7L1972.1 1184.1L1973.4 1184.6L1974.6 1186.9L1975.9 1186.4L1977.1 1187.2L1977.5 1187.2L1978.4 1186.6L1979.6 1184.6L1983.4 1170.0L1985.0 1165.4L1989.6 1147.1L1990.9 1144.9L1992.1 1143.0L1992.5 1143.2L1993.4 1141.8L1994.6 1142.2L1995.9 1142.8L1997.1 1143.1L1998.4 1142.0L2000.9 1142.0L2002.1 1142.9L2004.6 1142.8L2005.9 1142.1L2007.1 1142.9L2008.4 1142.9L2009.6 1142.2L2010.9 1143.0L2013.4 1143.2L2014.6 1143.1L2015.9 1141.9L2017.1 1141.8L2018.4 1143.0L2019.6 1142.0L2020.0 1142.9L2020.9 1142.6L2023.4 1138.2L2024.6 1136.8L2025.9 1132.9L2027.1 1130.3L2031.0 1125.6L2032.1 1126.5L2033.4 1126.3L2034.6 1128.2L2037.1 1130.8L2038.4 1131.1L2040.0 1132.5L2040.9 1134.3L2042.1 1134.4L2043.4 1136.4L2044.6 1136.7L2045.9 1138.5L2047.1 1138.8L2048.4 1140.4L2049.6 1139.6L2050.0 1140.7L2050.9 1140.3L2052.1 1138.4L2053.4 1137.7L2057.1 1131.7L2058.0 1129.4L2058.4 1129.9L2059.6 1127.2L2060.9 1125.8L2064.6 1120.2L2065.0 1119.4L2065.9 1118.5L2067.1 1114.7L2068.4 1112.4L2070.9 1104.1L2073.4 1097.3L2074.6 1096.1L2075.0 1094.4L2075.9 1093.3L2077.1 1092.4L2078.4 1090.0L2079.6 1088.5L2080.9 1087.5L2082.1 1086.9L2083.4 1088.0L2084.6 1088.7L2085.9 1089.1L2087.1 1091.3L2088.4 1092.3L2089.6 1093.9L2092.1 1096.6L2092.5 1097.8L2094.6 1100.1L2095.9 1101.1L2097.1 1102.7L2098.4 1102.6L2099.6 1104.3L2100.9 1105.2L2102.1 1104.5L2103.4 1104.8L2104.6 1101.5L2105.9 1098.8L2109.6 1085.5L2110.0 1085.3L2115.9 1070.9L2117.1 1070.4L2117.5 1069.5L2118.4 1070.1L2119.6 1071.6L2123.4 1083.2L2124.6 1088.2L2125.9 1095.3L2127.1 1104.6L2135.9 1191.9L2138.4 1220.0L2143.4 1263.7L2144.6 1269.9L2145.0 1269.5L2145.9 1272.0L2147.1 1272.2L2148.0 1273.5L2148.4 1272.9L2149.6 1263.5L2155.0 1212.0L2158.4 1186.8L2159.6 1183.1L2160.0 1183.1L2160.9 1183.7L2162.1 1190.9L2163.4 1200.2L2166.0 1224.7L2168.4 1257.2L2169.6 1270.5L2170.0 1272.9L2172.1 1276.3L2173.4 1278.9L2174.6 1279.3L2175.9 1281.7L2176.0 1282.8L2177.1 1287.9L2179.6 1304.5L2180.9 1308.5L2181.0 1307.7L2182.1 1306.1L2183.4 1302.8L2184.6 1297.2L2185.9 1290.5L2187.5 1285.3L2190.9 1278.4L2192.1 1275.5L2193.4 1273.2L2194.6 1270.2L2195.0 1270.4L2197.1 1261.7L2198.4 1255.6L2200.9 1246.8L2202.0 1245.6L2202.1 1246.5L2203.4 1250.4L2204.6 1260.8L2206.0 1275.4L2207.1 1291.8L2210.9 1366.3L2215.9 1454.4L2218.4 1502.9L2219.6 1521.5L2222.1 1545.0L2223.4 1555.3L2224.6 1560.9L2225.8 1563.1L2227.1 1555.2L2228.4 1537.0L2229.8 1512.7L2230.9 1488.6L2239.6 1266.6L2241.2 1237.8L2242.1 1225.8L2245.0 1194.9L2247.5 1144.9L2249.1 1129.7L2250.7 1120.7L2251.0 1120.0L2252.3 1117.9L2253.9 1117.0L2255.1 1118.2L2255.9 1118.3L2256.1 1110.3L2257.1 1108.2L2258.1 1108.0L2259.1 1120.7L2260.1 1119.5L2261.2 1105.5L2262.1 1106.5L2263.1 1099.1L2264.1 1096.0L2265.1 1102.1L2266.1 1098.6L2266.5 1082.9L2267.1 1081.8L2269.1 1072.7L2270.1 1078.9L2271.1 1076.6L2271.9 1063.4L2272.1 1076.9L2273.1 1074.3L2274.1 1058.1L2275.1 1056.8L2276.1 1056.7L2277.1 1068.2L2277.2 1053.9L2278.1 1053.7L2279.1 1046.3L2280.1 1048.7L2281.1 1043.2L2282.1 1055.9L2282.5 1046.5L2283.1 1045.2L2284.1 1059.6L2285.1 1057.4L2286.1 1060.1L2287.1 1058.5L2287.8 1058.4L2288.1 1047.8L2289.1 1059.8L2290.1 1046.7L2291.1 1045.5L2292.1 1059.1L2293.1 1059.1L2294.1 1043.8L2295.1 1054.3L2296.1 1043.3L2297.1 1045.7L2298.1 1044.4L2298.4 1043.1L2299.1 1056.8L2300.1 1059.4L2301.1 1047.9L2302.1 1061.7L2303.1 1049.5L2303.7 1048.1L2304.1 1047.5L2305.1 1063.7L2306.1 1066.2L2307.1 1057.1L2308.1 1057.5L2309.0 1059.6L2309.1 1056.7L2310.1 1061.4L2311.1 1061.3L2312.1 1061.9L2313.1 1062.2L2314.1 1075.0L2315.1 1063.7L2316.1 1072.6L2317.1 1062.3L2318.1 1076.9L2319.1 1076.6L2320.1 1062.2L2320.7 1060.2L2321.1 1062.8L2322.1 1061.6L2323.1 1062.3L2324.1 1077.2L2325.1 1066.6L2326.1 1067.4L2327.1 1083.2L2328.1 1068.6L2329.1 1080.0L2330.1 1069.2L2331.1 1065.6L2332.1 1076.1L2333.1 1074.4L2333.4 1076.7L2334.1 1077.3L2335.1 1065.2L2336.1 1072.4L2337.1 1071.9L2338.1 1060.1L2339.1 1069.8L2340.1 1071.5L2340.9 1061.3L2341.1 1071.8L2342.1 1071.8L2343.1 1072.4L2344.1 1059.5L2345.1 1073.5L2346.1 1075.2L2346.2 1061.3L2347.1 1077.0L2348.1 1075.8L2349.1 1064.0L2351.1 1065.1L2352.1 1070.8L2353.1 1071.7L2354.1 1082.5L2355.1 1089.0L2356.1 1087.7L2356.8 1091.2L2357.1 1078.5L2358.1 1075.6L2359.1 1076.3L2360.1 1081.4L2361.1 1080.7L2362.1 1094.6L2362.1 1082.2L2363.1 1091.2L2364.1 1092.3L2365.1 1082.5L2366.1 1095.9L2367.1 1079.6L2367.4 1094.8L2368.1 1080.2L2369.1 1078.2L2370.1 1093.3L2371.1 1093.9L2372.1 1077.5L2372.7 1077.1L2373.1 1092.6L2374.1 1077.6L2375.1 1076.2L2376.1 1086.2L2377.1 1069.4L2378.0 1086.5L2378.1 1071.1L2379.1 1082.3L2380.1 1073.0L2381.1 1081.4L2382.1 1085.6L2383.1 1083.8L2383.3 1068.4L2384.1 1083.1L2385.1 1087.6L2386.1 1090.8L2387.1 1080.3L2388.1 1097.1L2388.7 1102.4L2389.1 1087.6L2390.1 1108.5L2391.1 1101.5L2392.1 1103.1L2393.1 1120.4L2394.0 1126.0L2394.1 1114.1L2395.1 1126.9L2398.1 1142.6L2399.1 1144.4L2399.3 1130.8L2400.1 1128.5L2401.1 1130.4L2402.1 1142.0L2403.1 1143.9L2404.1 1141.7L2404.6 1131.5L2405.1 1129.3L2406.1 1141.3L2407.1 1125.8L2408.1 1124.3L2409.1 1139.3L2409.9 1120.6L2410.1 1120.5L2411.1 1135.9L2412.1 1134.5L2413.1 1134.2L2414.1 1131.7L2415.1 1131.3L2415.2 1134.2L2416.1 1134.3L2417.1 1133.1L2418.1 1134.4L2419.1 1132.2L2420.1 1128.4L2420.5 1116.3L2421.1 1115.6L2422.1 1132.6L2423.1 1131.5L2424.1 1115.8L2425.1 1129.1L2425.8 1128.1L2427.1 1111.3L2428.1 1105.4L2429.1 1107.0L2430.1 1101.5L2431.1 1097.9L2431.1 1099.7L2432.1 1081.3L2433.1 1093.2L2434.1 1078.6L2435.1 1074.5L2436.1 1085.2L2436.4 1085.0L2437.1 1065.5L2439.1 1059.2L2440.1 1054.8L2441.1 1052.0L2441.7 1048.0L2442.1 1041.1L2443.5 1026.2"/>
<path class="c" stroke="#1A6FDF" d="M209.0 880.0L210.6 879.9L213.8 880.7L216.3 880.9L217.5 879.8L218.8 879.5L220.0 881.1L221.3 880.0L222.5 880.0L223.8 881.3L225.0 881.2L226.3 879.9L227.5 879.9L230.0 880.3L231.3 881.5L232.5 881.5L233.8 881.3L236.3 881.6L237.5 880.2L238.8 881.6L240.0 881.7L241.3 880.5L242.5 881.9L243.8 880.4L245.0 881.8L247.5 882.1L250.0 881.7L251.3 880.8L252.5 880.5L253.8 882.0L255.0 880.7L256.3 882.0L257.5 880.6L258.8 881.8L260.0 882.0L261.3 880.9L263.8 880.9L265.0 880.7L266.3 882.1L268.8 882.2L270.0 881.0L272.5 881.0L273.8 882.0L275.0 880.9L276.3 882.4L278.8 882.2L280.0 881.1L281.3 882.5L282.5 882.3L283.8 881.0L285.0 882.4L286.3 880.9L287.5 882.2L288.8 881.2L290.0 881.1L291.3 882.5L292.5 882.4L293.8 881.0L296.3 881.1L297.5 880.9L298.8 882.4L300.0 880.8L300.0 882.6L301.3 881.3L302.5 880.8L303.8 882.6L305.0 880.8L306.3 881.1L307.5 882.4L310.0 882.3L311.3 880.9L312.5 882.3L313.8 882.3L315.0 881.1L316.3 882.0L317.5 882.3L318.8 880.9L320.0 882.2L321.3 882.0L325.0 882.3L326.3 881.0L327.5 880.7L328.8 880.9L330.0 881.8L331.3 880.7L332.5 882.0L333.8 880.7L335.0 882.0L336.3 881.8L337.5 880.7L338.8 880.2L340.0 880.6L341.3 881.8L342.5 880.2L343.8 881.7L345.0 880.2L346.3 880.4L347.5 881.6L348.8 881.5L350.0 880.0L351.3 881.4L352.5 881.4L353.8 879.8L355.0 881.0L356.3 879.8L357.5 879.7L358.8 881.2L360.0 879.9L361.3 879.4L362.5 880.9L363.8 879.3L365.0 880.7L366.3 879.3L367.5 879.5L368.8 880.5L370.0 879.0L371.3 880.5L372.5 880.3L373.8 878.8L375.0 878.9L376.3 880.2L377.5 879.8L378.8 879.7L380.0 878.4L381.3 879.6L382.5 879.3L383.8 879.5L385.0 877.8L386.3 877.6L387.5 877.8L388.8 878.8L390.0 877.5L391.3 878.5L393.8 878.2L395.0 878.3L395.0 876.9L396.3 876.6L397.5 876.5L398.8 877.8L400.0 877.4L401.3 876.1L402.5 877.4L403.8 877.3L405.0 876.9L406.3 875.7L407.5 876.9L408.8 875.4L410.0 875.1L411.3 875.1L412.5 876.7L413.8 876.7L415.0 875.3L416.3 876.5L417.0 876.3L417.5 876.5L420.0 876.2L421.3 875.1L422.5 876.4L423.8 876.9L425.0 875.4L426.3 876.8L427.5 875.6L428.8 877.0L430.0 877.4L431.3 876.1L432.5 877.6L433.8 878.0L435.0 878.0L436.3 876.7L437.5 877.1L440.0 877.5L440.0 878.9L441.3 879.0L442.5 877.5L443.8 877.5L445.0 877.9L446.3 879.3L447.5 877.8L448.8 879.1L450.0 879.4L451.3 878.1L452.5 879.3L453.8 879.7L455.0 879.5L457.5 880.1L458.8 879.9L460.0 878.9L462.5 879.0L463.8 880.2L465.0 880.2L466.3 879.6L467.0 880.9L467.5 879.6L468.8 880.8L470.0 881.0L471.3 879.7L472.5 881.5L473.8 881.6L475.0 880.7L477.9 882.1L481.1 882.6L482.7 883.2L484.3 883.3L487.5 884.1L489.1 885.3L490.7 885.1L492.3 885.5L493.9 886.7L495.5 886.7L497.1 887.6L498.7 887.7L500.0 888.1L500.3 888.0L501.9 889.2L503.5 889.2L505.1 890.6L506.7 890.6L508.3 891.8L509.9 891.9L511.5 893.2L513.1 894.1L514.7 894.7L516.3 895.7L517.9 895.9L519.5 896.6L521.1 897.5L522.7 898.8L524.3 898.9L525.9 899.8L527.5 901.0L529.1 901.9L530.7 902.1L532.3 903.4L533.9 903.9L535.5 904.1L537.1 905.3L538.7 905.3L540.3 906.6L545.1 908.3L546.7 908.6L548.3 909.7L549.9 909.6L550.0 909.8L551.5 910.2L553.1 911.5L554.7 912.2L556.3 912.3L561.1 914.2L562.0 913.7L562.7 913.6L564.3 914.3L565.9 914.1L567.5 913.4L569.1 913.6L570.7 912.8L573.9 912.2L575.5 912.2L577.1 911.3L578.7 911.5L580.3 910.4L581.9 910.0L583.0 910.3L583.5 909.7L586.7 908.6L588.3 907.8L589.9 907.5L591.5 906.8L593.1 905.2L594.7 904.8L596.3 903.4L597.9 903.0L599.5 901.3L601.1 900.2L604.3 898.3L605.9 897.8L609.1 895.8L610.0 894.6L610.7 894.4L612.3 893.3L613.9 892.6L615.5 891.5L618.7 888.2L620.3 887.5L621.9 885.7L623.5 885.2L625.1 883.6L626.7 882.5L633.0 881.2L633.1 880.6L634.7 881.2L636.3 881.4L637.9 881.2L639.5 881.4L642.7 880.9L647.5 881.0L649.1 881.4L650.7 881.0L652.3 880.9L653.9 881.6L655.5 880.9L657.1 881.5L658.7 881.7L660.3 881.1L661.9 881.6L663.5 881.0L665.1 881.2L666.7 881.6L668.3 881.2L669.9 881.2L670.0 881.7L673.1 881.9L674.7 881.3L676.3 881.4L677.9 881.8L679.5 881.8L681.1 881.4L682.7 881.9L684.3 881.3L689.1 881.3L690.7 881.8L692.3 881.4L695.5 881.5L697.1 881.4L698.7 882.1L701.9 881.9L703.5 881.5L705.1 881.3L706.7 882.1L707.0 881.4L708.3 882.0L709.9 881.6L711.5 881.5L716.3 879.9L717.9 878.9L719.5 878.3L721.1 878.5L722.7 877.2L725.9 876.6L727.5 876.1L733.9 874.9L735.5 875.1L737.1 874.4L738.7 874.1L740.0 874.7L740.3 874.5L741.9 874.4L743.5 874.1L746.7 874.0L748.3 873.2L749.9 873.5L753.1 873.2L754.7 872.7L756.3 873.1L759.5 872.8L761.1 872.1L762.7 872.7L764.3 872.0L765.9 872.7L767.0 872.6L767.5 872.0L769.1 872.3L770.7 873.0L772.3 874.4L773.9 874.9L775.0 876.4L775.5 876.0L777.1 877.5L778.7 879.9L780.3 881.4L783.5 886.5L785.1 888.4L786.7 891.0L788.3 894.2L789.9 896.4L791.5 899.6L792.0 899.7L794.7 905.0L796.3 907.7L797.9 910.8L799.5 913.1L801.1 914.1L802.7 914.2L804.3 912.5L805.9 911.6L807.5 909.1L809.1 907.7L810.7 905.0L815.5 900.3L818.7 897.8L823.0 893.6L823.5 892.4L825.1 891.1L826.7 888.6L828.3 887.2L832.0 882.7L834.7 880.3L836.3 879.7L837.9 878.7L839.5 878.1L840.0 877.6L841.1 878.0L844.3 878.1L845.9 877.5L847.5 878.0L849.1 877.5L850.7 877.7L852.3 878.2L853.9 877.6L855.5 877.6L857.1 878.4L860.3 878.4L861.9 878.3L863.5 877.9L866.7 878.1L867.0 878.6L868.3 878.2L869.9 878.4L874.7 879.9L876.3 881.1L877.9 881.6L881.1 881.9L882.7 882.5L883.0 882.0L884.3 882.5L885.9 882.0L887.5 882.0L889.1 882.5L892.3 882.6L893.9 882.5L895.5 881.9L897.1 882.6L901.9 882.6L903.5 882.1L905.1 881.9L906.7 882.6L909.9 882.6L910.0 882.1L913.1 882.9L914.7 882.6L916.3 883.6L917.9 883.3L919.5 884.0L921.1 883.7L922.0 883.8L922.7 884.2L924.3 883.5L925.9 883.3L929.1 882.2L930.7 882.2L932.3 881.1L935.5 880.5L937.0 880.4L937.1 881.0L940.3 880.9L941.9 881.0L943.5 880.5L945.1 881.0L946.7 880.9L948.3 881.2L951.5 881.0L954.7 880.6L956.3 881.2L957.9 881.3L959.5 880.6L961.1 881.3L962.7 880.7L964.3 881.5L965.9 880.8L967.5 880.9L969.1 880.9L970.7 881.1L972.3 881.7L973.9 881.6L975.5 881.1L977.1 881.8L980.3 882.0L981.9 881.5L983.5 881.9L985.1 882.1L986.7 881.4L988.3 881.5L989.9 882.1L991.5 881.6L993.1 882.2L994.7 881.8L996.3 881.9L997.9 882.4L999.5 882.0L1007.5 882.0L1009.1 882.7L1013.9 882.9L1015.5 882.2L1017.1 882.8L1018.7 882.3L1021.9 882.3L1023.5 883.0L1026.7 883.0L1028.3 882.3L1029.9 882.9L1030.0 882.3L1031.5 883.0L1033.1 882.5L1034.7 883.1L1036.3 882.9L1037.9 882.4L1039.5 882.3L1041.1 882.9L1042.7 882.3L1044.3 883.0L1045.9 882.4L1049.1 882.5L1050.7 882.3L1053.9 882.4L1055.5 883.0L1058.7 882.8L1060.3 883.0L1061.9 882.9L1063.5 882.4L1065.1 882.8L1066.7 882.3L1068.3 882.4L1069.9 882.8L1071.5 882.3L1076.3 882.3L1077.9 882.7L1081.1 882.1L1082.7 882.7L1089.1 882.7L1090.7 882.1L1092.3 882.7L1095.5 882.7L1097.1 882.0L1098.7 882.1L1100.3 882.7L1101.9 882.1L1103.5 882.0L1105.1 882.7L1106.7 882.0L1108.3 882.5L1109.9 882.0L1111.5 882.6L1113.1 881.9L1116.3 882.0L1117.9 882.5L1119.5 881.9L1121.1 881.9L1122.7 882.5L1125.9 882.5L1127.5 881.8L1129.1 882.3L1130.7 881.8L1133.9 881.9L1135.5 882.4L1137.1 881.7L1138.7 881.9L1143.5 881.6L1145.1 881.7L1146.7 882.3L1148.3 881.6L1151.5 881.7L1153.1 882.3L1156.3 882.1L1157.9 882.2L1159.5 881.6L1161.1 882.0L1162.7 881.6L1164.3 882.1L1165.9 882.1L1167.5 881.6L1169.1 881.6L1170.7 882.2L1173.9 882.1L1175.5 881.6L1177.1 882.0L1178.7 881.4L1180.3 882.1L1181.9 882.1L1183.5 881.6L1185.1 882.0L1186.7 881.4L1189.9 881.4L1191.5 881.5L1193.1 881.4L1194.7 881.5L1196.3 881.4L1197.9 881.5L1199.5 881.5L1201.1 882.0L1202.7 881.9L1204.3 882.0L1205.9 881.5L1209.1 882.3L1210.7 883.6L1212.3 886.6L1213.9 889.1L1216.0 893.3L1218.7 897.7L1221.9 904.2L1223.5 906.3L1225.0 906.9L1225.1 906.3L1226.7 905.5L1229.9 900.9L1231.5 899.4L1233.0 898.5L1233.1 898.7L1234.7 898.2L1236.3 899.5L1237.9 899.7L1239.5 900.9L1243.0 901.5L1244.3 901.9L1245.9 901.1L1247.5 900.0L1250.7 897.1L1252.3 895.0L1253.9 893.3L1257.0 891.2L1257.1 890.7L1258.7 889.5L1260.3 888.9L1265.1 885.5L1266.7 884.8L1268.3 883.6L1269.9 883.7L1270.0 883.1L1271.5 883.3L1273.1 882.6L1274.7 882.2L1276.3 882.7L1277.9 882.4L1279.5 881.6L1287.5 880.9L1289.1 881.3L1293.9 881.0L1295.5 880.4L1297.1 881.0L1300.3 881.1L1301.9 880.4L1303.5 881.1L1305.1 880.4L1308.3 880.5L1309.9 881.1L1311.5 880.5L1313.1 880.5L1314.7 881.1L1317.9 881.2L1319.5 880.7L1321.1 880.7L1322.7 881.3L1325.9 881.3L1327.5 881.0L1329.1 881.5L1330.7 881.7L1332.3 881.5L1333.9 881.1L1335.5 881.8L1337.1 881.7L1338.7 881.4L1346.7 881.6L1348.3 881.8L1349.9 882.4L1351.5 881.9L1353.1 881.9L1354.7 882.5L1356.3 881.9L1359.5 882.2L1361.1 882.2L1362.7 882.9L1364.3 882.4L1365.9 883.0L1367.5 882.4L1369.1 883.2L1370.7 882.5L1372.3 882.5L1373.9 883.1L1375.5 882.8L1377.1 883.3L1378.7 882.9L1380.3 883.3L1381.9 882.8L1386.7 882.9L1388.3 883.6L1389.9 883.0L1391.5 883.6L1397.0 883.6L1397.9 883.0L1399.5 883.0L1401.1 883.5L1407.5 883.3L1409.1 882.6L1410.7 883.0L1412.3 882.9L1413.9 882.3L1415.5 882.8L1417.1 882.2L1418.7 882.6L1420.3 882.5L1421.9 882.0L1423.5 882.4L1425.1 881.8L1426.7 882.3L1428.3 882.2L1429.9 881.7L1430.0 882.3L1431.5 882.3L1433.1 881.8L1434.7 882.4L1436.3 881.9L1437.9 882.4L1439.5 882.5L1441.1 882.1L1442.7 882.0L1445.9 882.6L1450.0 882.5L1453.5 883.5L1454.8 883.7L1455.8 883.3L1456.8 884.2L1458.8 883.4L1459.8 884.1L1460.8 883.1L1461.8 883.6L1462.8 882.6L1463.8 880.3L1465.8 879.2L1466.8 882.5L1467.8 879.6L1468.8 879.1L1469.8 882.3L1471.8 882.6L1472.5 883.0L1472.8 882.7L1473.8 882.3L1474.8 882.3L1475.8 879.7L1477.8 882.0L1479.8 882.9L1481.8 884.9L1482.8 885.3L1483.8 888.5L1484.8 889.8L1485.8 890.2L1486.0 887.3L1486.8 888.0L1487.8 888.3L1488.8 892.3L1489.8 889.5L1490.8 893.6L1491.8 891.2L1492.8 892.3L1494.8 892.3L1495.8 893.4L1496.8 896.5L1497.8 893.9L1498.8 897.5L1499.8 898.1L1500.8 894.3L1501.8 894.1L1502.8 894.3L1503.8 897.0L1504.8 892.1L1505.8 894.6L1506.8 894.4L1507.8 890.4L1508.8 889.9L1509.8 892.5L1510.8 892.3L1511.8 891.3L1512.0 888.0L1512.8 890.8L1513.8 887.7L1515.8 886.8L1516.8 886.1L1517.8 886.7L1518.8 889.0L1519.8 888.8L1520.8 887.9L1521.8 888.5L1522.8 887.6L1523.8 887.7L1525.0 884.6L1525.8 887.9L1526.8 888.0L1527.8 887.7L1528.8 886.4L1529.8 886.6L1530.8 886.6L1531.8 890.2L1532.5 890.6L1532.8 887.2L1533.8 886.6L1534.8 887.0L1535.8 886.2L1536.8 889.6L1537.8 889.1L1538.8 884.7L1539.8 888.1L1540.8 887.1L1541.8 882.3L1542.8 882.5L1543.8 882.0L1544.8 881.2L1545.8 880.1L1546.8 882.4L1547.8 881.1L1548.8 881.5L1549.8 880.5L1550.0 879.7L1550.8 880.4L1551.8 876.1L1552.8 875.0L1553.8 875.4L1554.8 874.0L1555.8 873.0L1556.8 876.0L1557.8 871.7L1558.8 875.5L1559.8 871.5L1561.8 870.8L1562.5 873.8L1562.8 874.2L1563.8 870.5L1564.8 873.9L1565.8 874.9L1566.8 874.6L1567.8 874.9L1568.8 876.1L1569.8 873.1L1570.8 877.2L1571.8 874.5L1572.8 875.2L1573.8 875.2L1574.8 878.3L1575.8 879.4L1576.8 879.1L1577.5 879.7L1577.8 879.3L1578.8 875.5L1579.8 876.2L1580.8 875.3L1581.8 877.9L1582.8 875.3L1583.8 874.5L1584.8 877.3L1585.8 877.2L1586.8 876.4L1587.8 876.1L1588.8 872.7L1589.8 872.7L1590.8 875.8L1591.8 875.7L1592.8 875.3L1593.8 872.1L1594.8 875.5L1595.0 874.7L1595.8 875.3L1596.8 873.4L1597.8 875.5L1598.8 880.5L1600.8 883.2L1601.8 881.3L1602.5 882.6L1602.8 882.0L1603.8 882.6L1604.8 886.4L1605.8 886.7L1606.8 883.9L1607.8 884.1L1608.8 886.9L1609.8 884.4L1610.8 884.2L1611.8 887.6L1612.5 887.7L1612.8 888.0L1613.8 886.3L1614.8 885.6L1615.8 880.8L1616.8 882.6L1617.8 880.7L1618.8 875.5L1619.8 877.4L1620.8 873.7L1621.0 876.8L1621.8 876.0L1622.8 876.4L1623.8 877.9L1624.8 875.1L1625.8 878.5L1626.8 876.3L1627.8 878.1L1628.8 881.7L1629.8 883.1L1630.8 881.0L1631.0 884.1L1631.8 884.6L1632.8 886.0L1633.8 888.3L1634.8 889.0L1635.8 891.4L1636.8 892.7L1637.8 891.5L1638.8 894.1L1640.0 899.2L1640.8 900.4L1641.8 898.9L1642.8 904.3L1645.8 909.4L1646.8 910.6L1647.8 909.3L1648.8 915.1L1649.8 916.8L1650.0 913.6L1650.8 917.9L1651.8 916.5L1652.8 917.6L1653.8 918.3L1654.8 923.1L1655.8 924.0L1656.8 924.6L1657.8 925.9L1658.8 927.7L1659.8 926.0L1660.8 930.6L1662.5 934.5L1662.8 932.1L1664.8 937.2L1665.8 941.1L1666.8 946.0L1667.8 953.8L1668.8 958.6L1669.8 959.7L1670.0 964.2L1671.8 972.4L1672.8 975.3L1675.0 988.9L1675.8 996.7L1676.8 1000.3L1677.8 1009.9L1678.8 1015.4L1680.8 1029.5L1681.0 1033.5L1681.8 1037.4L1682.8 1047.7L1683.8 1052.8L1684.8 1063.1L1685.8 1068.0L1686.0 1070.7L1686.8 1074.6L1688.0 1083.0L1691.0 1097.5L1694.1 1109.0L1695.7 1111.9L1696.0 1112.0L1697.3 1110.6L1698.9 1105.9L1703.7 1084.4L1706.9 1065.6L1710.1 1044.3L1714.9 1007.5L1716.5 997.0L1722.9 962.4L1727.7 926.2L1729.3 917.2L1730.9 909.7L1732.5 903.0L1734.1 897.5L1737.3 888.0L1738.3 888.1L1739.3 882.8L1740.3 885.9L1741.3 877.3L1742.3 877.3L1742.5 877.1L1743.3 878.2L1744.3 883.8L1745.3 878.1L1746.3 876.5L1747.3 885.5L1748.3 883.9L1749.3 885.3L1750.3 882.7L1751.3 883.5L1752.3 878.4L1753.3 878.4L1754.3 876.0L1755.3 878.4L1756.3 884.0L1757.3 876.5L1757.5 876.5L1758.3 877.1L1759.3 876.2L1760.3 876.3L1761.3 883.0L1762.3 883.6L1763.3 878.2L1764.3 884.2L1765.3 884.0L1766.3 877.0L1767.3 885.1L1768.3 878.5L1769.3 879.2L1770.3 885.5L1771.3 877.3L1772.3 878.0L1772.5 885.9L1773.3 887.9L1774.3 889.2L1775.3 884.5L1776.3 887.8L1777.3 893.9L1778.3 896.9L1779.3 899.2L1780.9 907.2L1785.3 942.0L1786.0 945.3L1786.6 946.7L1787.8 952.9L1790.3 960.8L1791.6 964.1L1792.8 966.8L1793.8 970.4L1794.1 970.3L1795.3 977.0L1798.8 986.8L1799.1 985.3L1800.3 984.9L1801.6 981.4L1802.8 975.5L1804.1 971.6L1805.3 966.2L1806.0 961.8L1807.8 951.4L1810.3 931.3L1812.5 919.2L1812.8 920.0L1814.1 916.3L1815.3 915.6L1817.8 913.1L1819.1 910.3L1820.0 910.9L1820.3 909.1L1821.6 907.8L1822.8 905.8L1826.6 901.8L1827.8 901.1L1829.1 900.6L1830.0 901.9L1830.3 900.2L1831.6 900.5L1832.8 902.0L1834.1 902.1L1835.3 901.4L1836.6 901.5L1837.8 902.0L1838.8 903.0L1840.3 895.9L1841.6 887.8L1842.8 884.1L1844.1 882.0L1845.3 882.4L1846.6 880.1L1847.8 880.8L1848.8 879.4L1849.1 880.6L1850.3 881.9L1851.6 883.8L1854.1 889.5L1855.3 890.8L1856.6 894.4L1857.5 895.9L1857.8 896.0L1859.1 897.3L1860.3 897.2L1861.6 899.7L1862.8 899.4L1864.1 900.6L1866.6 902.1L1867.8 904.4L1869.1 903.6L1870.3 905.6L1871.6 904.7L1872.8 906.5L1874.1 905.3L1875.0 905.6L1876.6 905.2L1879.1 903.7L1880.3 904.3L1881.6 903.2L1882.8 901.5L1884.1 901.9L1885.3 901.6L1886.6 901.7L1887.8 901.0L1889.1 902.0L1890.3 904.6L1891.6 905.0L1896.0 911.8L1897.8 915.7L1899.1 919.3L1900.3 924.3L1901.6 927.5L1902.8 929.9L1904.1 934.1L1905.0 934.6L1905.3 936.2L1907.8 939.6L1909.1 940.7L1910.3 942.4L1911.6 942.3L1912.8 943.1L1917.8 947.7L1919.1 949.6L1920.0 949.6L1920.3 950.8L1922.8 952.7L1924.1 952.4L1929.1 956.1L1930.3 956.7L1932.8 958.7L1934.1 961.0L1935.3 962.2L1936.6 962.1L1937.8 962.9L1939.1 964.4L1940.0 966.5L1941.6 967.7L1942.8 969.8L1944.1 972.7L1945.3 976.2L1946.6 977.6L1947.8 981.5L1949.1 984.3L1950.0 984.6L1950.3 986.1L1951.6 988.4L1952.8 989.2L1954.1 992.3L1955.3 994.5L1956.6 994.9L1957.8 996.3L1960.0 998.0L1960.3 999.7L1961.6 1000.2L1962.8 1000.9L1964.1 1000.3L1965.3 1001.0L1966.6 1001.3L1967.8 1002.0L1969.1 1002.2L1970.3 1003.8L1971.6 1002.9L1972.8 1004.3L1973.8 1003.0L1974.1 1002.9L1975.3 1001.9L1977.8 998.5L1979.1 994.4L1980.3 992.3L1981.0 989.5L1981.6 988.8L1982.8 983.2L1984.1 978.8L1985.3 972.2L1987.8 964.8L1989.1 960.1L1990.3 958.1L1991.6 953.9L1992.8 952.9L1993.8 950.6L1994.1 951.5L1995.3 948.9L1996.6 948.4L1997.8 949.1L1999.1 947.0L2000.3 946.6L2002.5 945.3L2002.8 946.7L2004.1 944.3L2005.3 942.9L2006.6 943.0L2009.1 941.0L2010.3 938.6L2011.6 939.7L2012.5 939.1L2012.8 938.0L2014.1 938.4L2015.3 938.3L2016.6 939.7L2017.8 938.6L2019.1 940.1L2020.3 939.1L2021.6 940.3L2022.8 940.7L2024.1 940.7L2025.3 941.1L2027.5 941.4L2027.8 940.2L2029.1 940.6L2030.3 942.7L2031.6 943.6L2032.8 942.7L2034.1 943.6L2035.3 944.8L2036.6 946.7L2037.8 946.3L2039.1 947.6L2040.3 948.2L2041.6 949.5L2042.8 952.7L2044.1 952.9L2045.3 954.5L2046.6 957.0L2047.8 958.7L2049.1 957.8L2050.0 958.3L2050.3 957.9L2051.6 957.2L2052.8 955.5L2055.3 949.2L2056.6 947.2L2057.8 942.5L2059.1 940.3L2060.3 935.8L2061.6 934.3L2062.8 931.2L2064.1 926.7L2066.6 920.3L2067.8 918.4L2069.1 915.2L2070.0 913.4L2070.3 910.8L2074.1 902.5L2075.3 900.9L2076.6 898.9L2077.5 896.8L2077.8 898.0L2079.1 896.8L2080.3 894.7L2081.6 893.8L2082.8 894.3L2083.8 893.4L2084.1 894.3L2085.3 895.1L2089.1 900.3L2091.6 904.6L2092.5 904.5L2092.8 905.9L2094.1 907.3L2095.3 909.1L2096.6 908.9L2097.8 911.4L2099.1 911.2L2100.3 912.9L2101.0 911.9L2101.6 913.1L2102.8 911.2L2104.1 907.0L2105.3 903.8L2107.8 896.4L2108.8 894.4L2109.1 894.7L2110.3 890.7L2111.6 889.4L2112.8 885.6L2114.1 884.5L2115.3 881.9L2116.0 881.6L2116.6 883.1L2117.8 883.0L2119.1 885.1L2120.3 889.5L2121.6 893.0L2122.8 895.8L2123.8 900.9L2124.1 901.0L2125.3 910.0L2139.1 1048.7L2141.6 1081.2L2142.8 1093.0L2144.1 1101.8L2145.3 1107.5L2146.0 1108.8L2146.6 1107.6L2147.8 1099.6L2151.6 1064.2L2154.1 1032.7L2155.3 1022.1L2156.6 1013.8L2159.1 1003.2L2159.5 1003.1L2160.3 1003.9L2162.8 1015.6L2165.3 1035.8L2167.8 1082.9L2169.1 1098.3L2170.3 1108.4L2171.6 1115.8L2172.5 1118.0L2172.8 1117.0L2174.1 1119.3L2175.3 1118.2L2176.6 1118.8L2177.5 1119.5L2179.1 1130.4L2180.3 1141.6L2181.0 1143.5L2181.6 1142.5L2182.8 1135.1L2186.0 1107.0L2187.8 1095.2L2190.3 1078.0L2191.0 1075.7L2191.6 1071.4L2192.8 1066.0L2194.1 1058.9L2196.6 1049.1L2197.5 1044.2L2199.1 1037.9L2200.3 1034.9L2201.6 1030.2L2202.5 1029.3L2202.8 1031.0L2204.1 1031.7L2206.6 1045.1L2208.8 1059.5L2210.3 1079.4L2212.8 1127.4L2215.5 1197.2L2219.1 1259.0L2222.8 1365.3L2223.8 1376.4L2224.1 1374.1L2225.3 1353.9L2226.6 1328.6L2229.1 1286.2L2230.3 1259.4L2232.9 1180.1L2236.0 1069.8L2237.8 1027.1L2242.8 935.6L2244.1 916.7L2245.3 905.0L2246.6 898.4L2248.2 891.2L2249.8 887.6L2251.4 887.0L2253.0 887.6L2254.2 885.1L2255.2 884.3L2255.9 889.9L2257.2 881.6L2258.2 877.4L2259.2 880.4L2260.2 880.3L2261.2 891.3L2262.2 885.5L2263.2 874.1L2264.2 883.3L2265.2 877.3L2266.5 861.8L2267.2 862.9L2268.2 871.9L2269.2 861.1L2270.2 856.8L2271.2 866.8L2271.9 865.1L2272.2 857.0L2273.2 865.0L2274.2 851.2L2275.2 862.3L2276.2 862.7L2277.2 847.7L2277.2 850.2L2278.2 849.0L2279.2 858.8L2280.2 855.2L2281.2 840.4L2282.2 840.9L2282.5 838.8L2283.2 843.2L2284.2 853.3L2285.2 844.1L2286.2 855.2L2287.2 857.3L2287.8 843.7L2288.2 845.7L2289.2 855.9L2290.2 854.0L2291.2 843.8L2292.2 843.1L2293.1 854.9L2293.2 855.1L2294.2 846.8L2295.2 849.2L2296.2 859.5L2297.2 850.9L2298.2 867.8L2298.4 857.6L2299.2 866.1L2300.2 856.7L2301.2 858.2L2302.2 873.8L2303.2 873.3L2303.7 872.1L2304.2 862.8L2305.2 878.9L2306.2 865.2L2307.2 880.4L2308.2 871.8L2309.0 882.6L2309.2 873.9L2310.2 883.7L2311.2 885.5L2312.2 886.6L2313.2 875.7L2314.2 884.7L2314.3 887.0L2315.2 888.4L2316.2 879.1L2317.2 876.3L2318.2 887.4L2319.2 890.3L2320.2 890.1L2320.7 891.0L2321.2 882.9L2322.2 891.8L2323.2 885.0L2324.2 897.7L2325.2 896.1L2326.2 886.6L2327.2 896.6L2328.1 900.1L2328.2 899.3L2329.2 899.2L2330.2 895.6L2331.2 884.5L2332.2 894.4L2333.2 893.8L2334.2 897.0L2335.2 883.0L2335.6 896.4L2336.2 881.4L2337.2 891.8L2338.2 889.6L2339.2 876.8L2340.2 878.2L2340.9 875.9L2341.2 875.7L2342.2 888.3L2343.2 875.8L2344.2 888.2L2345.2 878.9L2346.2 875.7L2347.2 890.1L2348.2 885.6L2349.2 888.2L2350.2 874.1L2351.2 889.2L2352.2 876.6L2353.2 875.0L2354.2 883.8L2355.2 886.2L2356.2 883.6L2356.8 872.1L2357.2 885.0L2358.2 885.1L2359.2 881.6L2360.2 872.7L2361.2 870.7L2362.2 881.1L2363.2 880.7L2364.2 879.4L2365.2 879.7L2366.2 869.5L2367.2 868.5L2367.4 867.5L2368.2 878.6L2369.2 866.4L2370.2 875.5L2371.2 876.7L2372.2 876.5L2372.7 863.4L2373.2 875.3L2374.2 872.2L2375.2 873.2L2376.2 859.2L2377.2 871.4L2378.0 872.1L2378.2 870.8L2379.2 859.6L2380.2 859.1L2381.2 856.7L2382.2 856.4L2383.2 859.0L2383.3 855.6L2384.2 870.1L2385.2 860.2L2386.2 871.7L2387.2 875.3L2388.2 862.1L2388.7 863.0L2389.2 863.4L2390.2 868.1L2391.2 869.1L2392.2 871.2L2393.2 883.9L2394.0 889.1L2394.2 887.2L2396.2 894.4L2397.2 886.8L2398.2 902.8L2399.2 888.4L2399.3 902.0L2400.2 900.1L2401.2 889.8L2402.2 897.4L2403.2 880.6L2404.2 878.7L2404.6 880.2L2405.2 878.2L2406.2 888.8L2407.2 876.4L2408.2 884.5L2409.2 885.9L2409.9 885.2L2410.2 874.8L2411.2 871.8L2412.2 883.4L2413.2 877.4L2414.2 887.0L2415.2 878.3L2416.2 878.7L2417.2 890.8L2418.2 892.3L2419.2 879.9L2420.2 882.0L2420.5 877.9L2421.2 878.9L2422.2 888.2L2423.2 888.3L2424.2 875.1L2425.2 888.3L2425.8 887.7L2426.2 884.1L2427.2 870.0L2428.2 869.4L2429.2 864.1L2430.2 861.5L2431.1 856.1L2431.2 868.1L2432.2 864.1L2433.2 852.8L2434.2 849.1L2435.2 849.2L2436.2 846.1L2436.4 843.7L2437.2 853.4L2438.2 841.9L2439.2 839.0L2440.2 834.3L2441.2 832.1L2441.7 833.4L2443.5 815.4"/>
<path class="c" stroke="#37AD6B" d="M209.0 662.5L210.6 662.1L212.2 663.0L213.4 663.1L214.7 663.6L215.7 663.6L216.7 664.1L217.7 661.1L218.7 661.1L219.7 664.1L220.7 664.1L221.7 663.5L222.7 661.5L223.7 664.2L224.7 663.6L225.7 664.0L226.7 661.9L227.7 661.9L228.7 663.9L229.7 661.4L230.7 663.9L231.7 664.1L232.7 661.8L233.7 661.3L234.7 661.8L235.7 664.0L236.7 661.9L237.7 664.3L238.7 663.9L239.7 663.7L240.7 662.0L241.7 663.8L242.7 662.0L243.7 662.1L244.7 663.9L245.7 661.5L246.7 661.6L247.7 663.6L248.7 662.2L250.0 662.2L250.7 664.4L251.7 664.6L252.7 662.0L253.7 663.9L254.7 664.5L255.7 664.0L256.7 662.3L257.7 664.1L258.7 662.1L259.7 662.3L260.7 664.4L261.7 664.0L262.7 664.0L263.7 664.6L264.7 661.8L265.7 662.2L266.7 662.4L267.7 664.2L268.7 664.3L269.7 662.6L270.7 664.3L271.7 662.5L272.7 664.2L273.7 665.1L274.7 662.1L275.7 663.0L276.7 662.7L277.7 665.2L278.7 665.2L280.7 664.5L281.7 662.4L282.7 663.0L283.7 662.4L284.7 664.6L285.7 662.5L286.7 665.0L287.7 664.8L288.7 664.9L289.7 665.2L290.7 665.1L291.7 665.5L292.7 664.9L293.7 663.1L294.7 662.5L295.7 663.0L297.7 663.2L298.7 665.6L299.7 662.9L300.0 662.7L300.7 665.3L301.7 665.1L302.7 663.3L303.7 665.0L305.7 664.7L306.7 663.3L307.7 664.6L308.7 663.0L309.7 662.4L310.7 664.9L311.7 664.9L312.7 663.0L313.7 664.6L314.7 664.9L315.7 662.9L316.7 665.0L317.7 662.5L318.7 662.7L319.7 665.4L320.7 662.9L321.7 664.4L322.7 662.6L323.7 662.7L324.7 665.0L325.7 665.0L326.7 664.6L327.7 665.0L328.7 664.4L329.7 662.5L330.7 662.8L331.7 662.7L332.7 664.8L333.7 662.9L334.7 662.0L335.7 664.6L336.7 662.7L337.7 662.4L338.7 662.9L339.7 662.3L340.0 664.7L340.7 662.3L341.7 662.7L342.7 662.4L343.7 662.3L344.7 664.7L345.7 662.2L346.7 662.4L347.7 664.5L348.7 662.0L349.7 662.3L350.7 664.3L351.7 662.6L352.7 664.1L353.7 662.3L354.7 664.3L355.7 662.4L356.7 665.0L357.7 664.2L358.7 662.0L359.7 662.6L360.7 664.2L361.7 665.0L363.7 664.8L364.7 661.9L365.7 664.2L366.7 662.2L367.7 664.8L368.7 664.1L369.7 661.8L370.7 664.2L371.7 662.2L372.7 664.6L373.0 664.2L373.7 662.3L374.7 662.1L375.7 661.6L376.7 661.5L377.7 664.3L378.7 661.2L379.7 661.1L380.7 663.2L381.7 660.4L382.7 660.1L383.7 662.2L384.7 660.0L385.7 662.0L386.7 659.5L387.7 661.5L388.7 658.8L389.7 661.1L390.0 658.9L390.7 661.1L391.7 658.9L393.7 658.2L394.7 660.2L395.7 657.5L396.7 659.5L397.7 657.4L398.7 659.6L399.7 659.5L400.7 657.3L401.7 659.0L402.7 659.4L403.7 659.0L404.7 658.9L405.7 658.2L406.7 656.0L407.0 655.8L407.7 656.2L408.7 658.1L410.7 658.2L411.7 658.0L412.7 655.3L413.7 655.9L414.7 657.9L415.7 657.4L417.0 658.1L417.7 658.2L418.7 658.1L419.7 656.8L420.7 658.9L421.7 660.2L422.7 660.7L423.7 659.5L424.7 662.4L425.7 660.2L426.7 663.2L427.0 663.0L427.7 661.0L428.7 660.7L429.7 663.2L430.7 660.7L431.7 663.2L432.7 662.9L433.7 660.7L434.7 663.4L435.7 660.8L436.7 662.9L437.7 663.4L438.7 662.9L439.7 660.7L440.7 663.1L441.7 662.7L442.7 660.8L443.7 660.8L444.7 663.4L445.0 660.4L445.7 663.2L446.7 661.0L447.7 662.8L448.7 663.5L450.7 663.5L451.7 661.2L452.7 662.8L453.7 661.4L454.7 663.0L455.7 663.5L456.7 661.5L457.7 663.7L458.7 663.9L459.7 661.3L460.7 663.7L461.7 663.2L462.7 663.6L463.7 663.7L464.7 663.3L466.7 663.7L467.0 661.6L467.7 663.7L468.7 661.8L469.7 661.4L470.7 661.6L471.7 664.2L472.7 661.9L473.7 665.0L474.7 664.5L475.7 663.6L476.9 664.9L478.2 665.1L479.8 665.1L481.4 665.5L483.0 666.3L486.2 667.2L487.8 667.0L489.4 668.1L490.0 668.2L491.0 667.8L499.0 670.1L500.6 671.1L502.2 671.0L503.8 671.3L508.6 672.7L510.2 673.8L511.8 673.7L513.4 675.0L515.0 675.2L515.0 675.4L516.6 675.2L518.2 675.5L521.4 676.7L523.0 677.8L524.6 677.8L526.2 678.4L527.8 678.7L529.4 679.4L531.0 680.5L532.6 680.3L535.8 681.5L537.4 682.6L539.0 682.3L540.0 682.5L540.6 683.5L542.2 684.1L543.8 684.4L545.4 684.4L548.6 685.2L550.2 686.6L551.8 686.0L555.0 686.9L556.6 686.9L558.2 687.5L559.8 687.0L561.4 687.5L563.0 687.4L564.6 686.9L567.8 686.4L569.4 686.5L570.0 686.2L571.0 687.1L572.6 685.9L575.8 685.8L577.4 684.7L579.0 684.9L580.6 683.6L583.8 682.3L587.0 680.6L588.6 680.0L590.2 679.1L591.8 679.1L593.0 677.8L593.4 678.0L595.0 676.5L596.6 675.3L598.2 674.8L599.8 673.3L601.4 671.5L603.0 670.2L604.6 669.7L605.0 668.7L606.2 668.6L607.8 667.2L609.4 665.1L611.0 664.1L612.6 663.4L614.2 662.4L615.8 661.9L617.0 660.6L617.4 661.2L619.0 660.0L620.6 660.5L622.2 659.4L627.0 658.6L628.0 658.7L628.6 659.2L630.2 659.0L631.8 659.1L633.4 659.0L635.0 658.1L638.2 657.9L639.8 658.6L640.0 658.0L641.4 658.6L643.0 658.1L644.6 658.8L646.2 658.2L649.4 658.5L651.0 659.1L652.6 659.3L654.2 658.7L655.8 659.0L657.4 659.8L659.0 659.9L660.6 659.2L662.2 659.6L663.8 659.6L665.0 660.3L665.4 659.5L667.0 660.5L668.6 660.5L670.2 660.0L671.8 660.7L673.4 660.2L675.0 660.2L676.6 660.9L681.4 661.3L684.6 661.2L686.2 661.3L687.8 661.2L689.4 660.5L690.0 660.7L691.0 661.5L692.6 660.7L694.2 661.2L695.8 660.7L697.4 660.4L699.0 660.5L700.6 661.0L702.2 660.4L703.8 660.9L705.4 660.8L707.0 660.0L708.6 660.6L710.2 660.6L711.8 659.7L715.0 659.6L716.6 660.1L718.2 660.2L721.4 659.9L723.0 659.0L724.6 659.0L726.2 658.7L727.8 658.7L729.4 659.1L731.0 659.0L732.6 658.4L734.2 658.8L735.8 657.9L737.4 657.9L739.0 658.7L740.0 658.6L740.6 657.9L742.2 657.9L743.8 658.7L745.4 658.0L747.0 658.9L751.8 659.3L753.4 659.2L755.0 659.3L756.6 658.7L758.2 659.0L761.4 658.9L763.0 660.0L764.6 660.2L766.2 659.5L767.0 660.5L767.8 659.9L769.4 660.9L771.0 660.9L772.6 661.8L774.2 663.0L775.8 664.8L777.4 666.0L779.0 666.8L780.6 668.2L782.2 670.8L783.8 672.4L785.4 675.7L787.0 677.7L788.6 681.1L790.0 683.5L790.2 683.1L791.8 685.7L793.4 689.5L795.0 692.3L796.6 695.8L798.2 698.7L799.8 699.8L801.7 701.4L803.0 700.4L804.6 700.0L807.8 695.9L809.4 693.0L812.0 690.4L812.6 689.0L815.8 685.4L817.4 684.4L819.0 682.2L820.6 680.4L822.2 679.2L823.8 677.5L825.4 675.5L827.0 672.9L828.6 671.0L830.2 670.0L831.8 668.4L832.0 667.5L833.4 666.5L835.0 665.0L836.6 664.5L838.2 663.4L839.8 663.1L840.0 662.4L843.0 662.5L844.6 663.1L847.8 663.2L849.4 662.6L851.0 662.4L852.6 662.7L854.2 663.2L859.0 663.6L860.6 663.0L862.2 663.7L863.0 663.1L863.8 664.0L867.0 664.7L868.6 666.4L870.2 666.7L871.8 668.3L872.0 667.7L873.4 668.4L875.0 670.0L876.6 671.0L878.2 671.7L879.8 672.1L880.0 671.4L881.4 672.0L883.0 671.6L884.6 670.4L886.2 670.6L887.8 669.4L891.0 668.2L893.0 668.4L894.2 667.3L895.8 667.7L900.6 666.9L902.2 666.0L903.8 666.7L905.4 665.6L907.0 666.3L910.2 666.2L913.4 666.3L915.0 665.4L916.6 666.2L918.2 666.2L919.8 665.6L921.7 666.1L923.0 665.0L924.6 664.2L926.2 663.9L927.8 662.8L929.4 660.8L930.0 660.7L931.0 660.8L932.6 659.4L934.2 659.3L935.8 658.8L937.0 658.0L937.4 658.6L942.2 658.6L943.8 658.7L945.4 658.0L947.0 658.8L948.6 658.9L950.2 658.1L951.8 658.4L953.4 658.4L955.0 659.2L956.6 658.6L958.2 659.5L959.8 658.9L961.4 659.5L963.0 659.8L964.6 659.0L966.2 659.7L967.8 659.2L969.4 660.2L971.0 659.6L972.6 659.7L974.2 660.4L975.8 660.1L977.4 660.9L979.0 661.1L980.6 660.5L982.2 661.3L983.8 661.6L985.4 661.0L987.0 661.2L988.6 662.0L990.2 662.2L991.8 661.7L993.4 662.5L996.6 662.9L998.2 662.5L999.8 663.3L1001.4 663.4L1003.0 663.8L1004.6 663.8L1006.2 664.1L1007.8 663.4L1009.4 663.8L1011.0 664.5L1012.6 663.9L1014.2 665.0L1017.4 665.4L1019.0 664.6L1022.2 665.1L1023.8 665.0L1025.4 666.1L1027.0 665.9L1028.6 665.3L1030.0 665.9L1030.2 665.4L1033.4 665.2L1035.0 666.2L1036.6 666.0L1038.2 666.1L1039.8 665.1L1041.4 665.9L1043.0 665.8L1044.6 665.9L1046.2 665.2L1047.8 665.1L1049.4 665.5L1051.0 665.0L1052.6 665.0L1054.2 665.5L1055.8 664.7L1059.0 664.8L1060.0 665.4L1060.6 664.6L1062.2 665.4L1063.8 664.4L1067.0 664.5L1068.6 665.1L1070.2 664.2L1071.8 664.3L1073.4 664.8L1075.0 664.0L1076.6 664.6L1078.2 664.0L1079.8 663.9L1081.4 664.5L1083.0 664.3L1084.6 663.6L1086.2 663.4L1087.8 663.4L1089.4 664.2L1091.0 663.4L1092.6 663.3L1094.2 663.0L1095.8 663.0L1097.0 663.7L1097.4 663.0L1099.0 663.4L1100.6 663.5L1102.2 662.5L1103.8 662.3L1105.4 662.3L1107.0 662.9L1111.8 662.5L1113.4 662.2L1115.0 661.3L1116.6 661.9L1118.2 661.6L1119.8 660.8L1121.4 661.3L1123.0 660.5L1127.8 659.7L1129.4 660.4L1131.0 660.2L1132.6 659.4L1135.8 658.9L1137.4 659.6L1139.0 659.4L1140.6 658.5L1142.2 658.8L1143.8 658.8L1145.4 657.8L1147.0 658.4L1148.6 658.0L1150.2 657.2L1151.8 656.9L1153.4 657.5L1155.0 657.2L1156.6 656.4L1158.2 657.0L1161.4 656.4L1163.0 655.7L1163.0 655.6L1166.2 655.4L1167.8 655.1L1169.4 655.5L1171.0 654.6L1172.6 655.2L1175.8 655.0L1177.4 654.2L1179.0 654.5L1180.6 654.3L1182.2 653.5L1183.8 654.1L1185.4 653.7L1187.0 653.8L1188.6 653.6L1190.0 652.6L1190.2 652.7L1191.8 652.5L1193.4 652.8L1195.0 651.9L1196.6 652.3L1198.2 651.4L1199.8 651.3L1201.4 650.9L1203.0 651.4L1204.6 650.7L1206.2 651.2L1209.4 651.1L1210.0 651.0L1211.0 651.2L1212.6 652.3L1217.4 657.8L1218.0 657.7L1219.0 658.5L1220.6 661.3L1223.8 664.4L1227.0 667.0L1228.6 665.4L1230.2 663.0L1231.8 661.1L1233.0 660.3L1233.4 661.1L1235.0 661.0L1238.2 662.9L1241.4 665.8L1243.0 665.3L1243.0 665.9L1249.4 662.7L1251.0 662.3L1252.6 661.0L1253.0 661.3L1254.2 660.1L1255.8 659.5L1257.4 659.3L1259.0 657.7L1260.6 657.2L1262.2 657.7L1263.0 657.6L1263.8 657.8L1265.4 657.8L1267.0 657.0L1268.6 657.8L1270.2 657.3L1271.8 658.1L1275.0 658.5L1276.6 658.6L1278.2 658.2L1279.8 658.4L1281.4 659.2L1284.6 659.8L1286.2 659.4L1287.8 660.0L1292.6 660.6L1294.2 660.6L1299.0 661.3L1300.6 660.6L1302.2 660.9L1303.8 661.6L1305.4 661.1L1307.0 661.2L1308.6 661.1L1310.2 662.0L1313.0 661.3L1315.0 661.9L1316.6 661.3L1318.2 662.0L1319.8 661.8L1321.4 661.0L1323.0 661.0L1324.6 660.6L1326.2 661.3L1329.4 661.1L1331.0 660.3L1332.6 660.7L1337.4 660.2L1339.0 659.2L1340.6 659.9L1342.2 659.6L1343.8 658.7L1345.0 658.5L1345.4 658.7L1347.0 658.4L1348.6 658.9L1353.4 658.7L1355.0 658.5L1356.6 657.6L1359.8 657.3L1361.4 657.8L1363.0 657.1L1364.6 657.6L1366.2 657.5L1367.8 657.2L1369.4 657.1L1371.0 656.4L1372.6 656.1L1374.2 656.7L1375.8 655.8L1377.4 656.4L1380.0 656.0L1380.6 655.1L1382.2 655.7L1385.4 655.3L1387.0 654.4L1388.6 654.3L1390.2 654.5L1391.8 653.7L1393.4 653.5L1396.6 652.8L1398.2 653.2L1399.8 653.2L1401.4 652.0L1403.0 652.5L1405.0 651.7L1406.2 651.5L1407.8 651.8L1411.0 651.5L1412.6 650.6L1414.2 650.4L1415.8 650.8L1417.4 650.6L1419.0 649.6L1420.6 650.1L1422.2 650.1L1423.8 649.1L1425.4 649.9L1427.0 649.6L1428.6 649.7L1430.2 649.0L1433.4 649.0L1435.0 649.8L1436.6 649.3L1438.2 650.3L1439.8 649.7L1441.4 650.5L1443.0 650.0L1444.6 650.2L1446.2 650.9L1447.8 650.7L1450.0 651.0L1451.0 651.3L1452.6 652.3L1453.8 650.4L1454.8 649.5L1455.8 652.5L1456.8 649.7L1457.8 654.0L1458.8 653.2L1459.8 652.7L1460.8 649.0L1461.8 649.5L1462.8 653.8L1463.8 654.3L1464.8 650.6L1465.8 649.6L1466.8 649.7L1467.8 650.8L1468.8 649.8L1469.8 649.8L1471.8 651.1L1472.5 654.4L1472.8 655.1L1473.8 655.1L1474.8 651.3L1475.8 651.3L1476.8 656.2L1477.8 656.8L1478.8 658.1L1479.8 654.7L1480.8 656.2L1481.8 656.9L1482.8 661.3L1484.8 662.8L1485.0 662.4L1485.8 663.3L1486.8 660.2L1487.8 661.4L1488.8 665.7L1489.8 665.7L1490.8 663.5L1491.8 665.2L1492.8 665.1L1493.8 665.5L1494.8 670.4L1495.8 667.1L1496.8 670.6L1497.8 667.5L1498.8 667.3L1499.8 671.4L1500.0 671.2L1500.8 672.4L1502.8 670.7L1503.8 666.8L1504.8 670.4L1505.8 670.1L1506.8 665.5L1507.8 665.4L1508.8 664.6L1509.8 668.8L1510.8 667.5L1511.8 667.2L1512.0 663.6L1512.8 668.0L1513.8 667.1L1514.8 663.1L1515.8 663.1L1516.8 666.6L1517.8 662.7L1518.8 663.3L1519.8 662.7L1520.8 665.7L1521.8 666.5L1522.8 664.9L1523.8 662.3L1524.8 662.3L1525.0 661.6L1525.8 661.6L1526.8 662.5L1527.8 666.7L1528.8 663.3L1529.8 664.9L1530.8 668.3L1531.8 669.7L1532.5 668.9L1532.8 664.9L1533.8 668.6L1534.8 666.0L1535.8 668.4L1536.8 664.9L1537.8 663.4L1538.8 666.6L1539.8 666.2L1540.8 663.0L1541.8 664.8L1542.8 665.0L1543.8 664.6L1544.8 659.3L1545.8 663.2L1546.8 661.9L1547.8 662.8L1548.8 657.5L1549.8 657.4L1550.8 662.2L1551.8 658.5L1552.8 659.1L1553.8 658.6L1554.8 662.3L1555.8 658.6L1556.8 659.5L1557.8 662.7L1558.8 660.6L1559.8 663.9L1560.8 663.5L1561.8 665.2L1562.8 661.8L1563.8 661.3L1564.8 665.3L1565.8 665.9L1566.8 662.6L1567.8 665.6L1568.8 666.3L1569.8 666.4L1570.8 667.2L1571.8 662.5L1572.5 666.5L1572.8 667.1L1574.8 666.1L1575.8 665.4L1576.8 665.8L1577.8 665.4L1578.8 659.8L1579.8 659.0L1580.8 662.3L1581.8 661.9L1582.8 656.9L1583.8 656.0L1584.8 654.4L1586.8 652.7L1587.8 656.4L1588.8 651.8L1589.8 651.4L1590.0 650.1L1590.8 653.7L1591.8 648.7L1592.8 648.2L1593.8 647.1L1594.8 647.2L1595.8 646.7L1596.8 649.5L1597.8 648.6L1599.8 648.2L1600.0 644.7L1600.8 647.7L1601.8 645.6L1602.8 649.8L1603.8 650.8L1604.8 652.6L1605.8 650.4L1606.8 651.7L1607.8 652.2L1608.8 657.2L1609.8 656.4L1610.0 657.3L1610.8 652.6L1611.8 655.6L1612.8 651.2L1613.8 653.6L1614.8 648.3L1615.8 645.8L1616.8 644.0L1617.8 646.2L1618.8 646.2L1619.8 646.0L1620.0 646.3L1620.8 645.4L1621.8 646.7L1622.8 642.7L1623.8 644.6L1624.8 645.1L1625.8 650.4L1626.8 647.7L1627.8 652.8L1628.8 652.1L1629.8 657.3L1630.8 657.5L1631.8 660.4L1632.8 658.3L1633.8 664.5L1634.8 666.7L1635.8 664.9L1636.8 666.2L1637.8 672.5L1638.8 671.2L1639.8 673.3L1640.0 677.6L1640.8 674.0L1641.8 675.8L1642.8 681.6L1643.8 683.8L1644.8 684.5L1645.8 682.2L1646.8 684.4L1647.8 689.6L1648.8 690.5L1649.8 688.4L1650.0 687.7L1650.8 692.2L1651.8 693.5L1652.8 690.9L1653.8 690.8L1654.8 696.0L1655.8 695.7L1656.8 697.0L1657.8 696.5L1658.8 697.5L1659.8 699.0L1660.8 699.1L1661.8 697.3L1662.5 702.5L1663.8 704.0L1667.5 726.3L1667.8 731.3L1669.8 737.8L1670.8 740.3L1671.8 743.7L1672.8 745.2L1673.8 745.8L1675.0 754.0L1676.8 765.6L1677.8 773.9L1678.8 780.3L1679.8 790.2L1680.0 788.1L1680.8 797.1L1682.8 810.0L1683.8 813.3L1684.8 819.1L1685.8 827.4L1686.0 826.5L1686.8 832.6L1688.1 839.3L1694.1 867.7L1695.7 873.4L1697.0 875.0L1697.3 874.9L1698.9 871.5L1700.5 864.5L1705.3 838.4L1718.1 775.0L1720.0 765.0L1721.3 756.4L1724.5 732.6L1726.1 721.9L1727.7 714.0L1730.9 701.7L1732.5 696.9L1734.1 693.5L1735.0 692.5L1735.7 692.1L1737.0 689.8L1738.0 688.5L1739.0 686.5L1740.0 686.9L1741.0 691.6L1742.0 691.5L1743.0 692.2L1744.0 684.8L1745.0 690.1L1745.0 691.3L1746.0 692.4L1747.0 684.3L1748.0 691.6L1749.0 683.0L1750.0 683.1L1751.0 685.8L1752.0 692.6L1753.0 693.5L1754.0 691.0L1755.0 691.8L1755.0 691.1L1756.0 694.2L1757.0 692.1L1758.0 686.6L1759.0 686.0L1760.0 693.3L1761.0 686.9L1762.0 686.8L1763.0 693.0L1764.0 687.0L1765.0 686.2L1766.0 694.4L1767.0 695.0L1767.5 689.6L1768.0 694.7L1769.0 696.9L1770.0 696.1L1772.0 699.5L1773.0 693.2L1774.0 701.9L1775.0 696.7L1776.0 704.7L1777.0 706.1L1777.5 703.2L1778.0 707.1L1779.0 711.6L1780.2 719.1L1783.4 743.3L1785.0 753.4L1786.3 757.3L1787.5 762.8L1788.8 765.8L1790.0 770.7L1791.3 773.3L1792.5 778.4L1792.5 777.0L1793.8 782.6L1795.0 786.1L1796.3 792.4L1797.5 795.2L1798.8 796.9L1798.8 795.5L1800.0 796.0L1802.5 788.8L1803.8 784.3L1805.0 781.1L1807.5 770.7L1807.5 769.3L1808.8 763.0L1810.0 753.2L1811.3 745.0L1812.5 739.1L1812.5 739.5L1813.8 738.0L1815.0 738.6L1816.3 737.9L1817.5 735.3L1818.8 736.2L1820.0 736.0L1820.0 734.4L1821.3 735.0L1822.5 733.5L1823.8 732.8L1825.0 730.0L1826.3 729.8L1827.5 729.2L1827.5 730.5L1828.8 729.6L1830.0 731.4L1831.3 732.8L1832.5 736.4L1833.8 736.4L1835.0 739.2L1836.3 738.1L1837.5 736.5L1838.8 734.0L1840.0 730.8L1841.3 728.3L1842.5 724.0L1846.3 715.1L1847.5 714.6L1848.8 711.7L1850.0 710.2L1851.3 710.2L1852.5 709.2L1853.8 707.8L1855.0 705.5L1856.3 704.1L1857.5 703.4L1858.8 703.9L1860.0 701.6L1861.3 702.3L1862.5 700.1L1863.8 700.9L1865.0 698.6L1866.3 697.8L1867.5 698.3L1868.8 697.0L1870.0 694.4L1870.0 695.4L1871.3 692.8L1872.5 691.5L1873.8 689.0L1875.0 684.7L1876.3 681.8L1877.5 680.4L1880.0 673.4L1881.3 670.8L1882.5 669.2L1882.5 669.4L1883.8 669.4L1885.0 666.1L1886.3 666.4L1887.5 663.2L1888.8 663.4L1890.0 662.1L1891.3 659.5L1892.5 660.1L1893.8 657.6L1895.0 657.5L1896.3 658.3L1897.5 656.7L1897.5 656.8L1898.8 656.7L1900.0 657.3L1901.3 658.5L1902.5 657.5L1903.8 658.2L1905.0 660.0L1906.3 660.2L1907.5 659.4L1908.8 659.9L1910.0 661.9L1911.3 661.1L1912.5 662.0L1913.8 663.9L1915.0 663.1L1916.3 665.1L1917.5 665.9L1917.5 664.2L1918.8 666.2L1920.0 666.6L1921.3 665.9L1922.5 666.7L1923.8 668.6L1926.3 669.9L1927.5 669.1L1928.8 670.3L1930.0 670.6L1931.3 673.1L1932.5 673.8L1933.8 675.2L1935.0 675.9L1936.3 677.3L1937.5 678.1L1937.5 678.4L1938.8 680.0L1940.0 680.0L1941.3 682.6L1943.8 688.7L1945.0 690.7L1945.0 689.5L1946.3 692.9L1950.0 700.3L1951.3 701.0L1952.5 703.2L1952.5 704.5L1953.8 705.4L1955.0 707.6L1956.3 711.0L1957.5 711.4L1958.8 713.2L1960.0 715.9L1960.0 714.2L1961.3 716.7L1962.5 715.9L1963.8 718.1L1966.3 719.3L1967.5 719.6L1968.0 718.0L1968.8 720.2L1970.0 718.9L1971.3 720.9L1972.5 719.7L1973.8 720.3L1975.0 721.7L1975.0 721.5L1976.3 720.8L1977.5 719.1L1980.0 713.3L1981.3 708.6L1982.5 704.8L1983.8 702.1L1983.8 701.6L1985.0 699.1L1986.3 693.5L1987.5 689.8L1988.8 683.6L1990.0 679.3L1991.3 677.2L1992.5 674.4L1993.8 673.4L1996.3 672.3L1997.5 673.4L1998.8 672.8L2000.0 671.3L2001.3 670.6L2002.5 670.4L2002.5 671.9L2003.8 669.8L2005.0 670.6L2006.3 670.6L2007.5 668.2L2008.8 669.3L2010.0 667.7L2011.3 667.3L2012.5 666.5L2013.8 666.3L2015.0 665.6L2016.3 666.1L2017.5 665.5L2017.5 664.2L2020.0 662.4L2021.3 662.5L2022.5 660.0L2023.8 659.8L2025.0 657.4L2026.3 658.2L2027.5 657.0L2027.5 658.1L2028.8 658.7L2032.5 665.1L2033.8 666.4L2035.0 668.7L2036.0 670.1L2036.3 672.1L2037.5 673.5L2040.0 676.9L2041.3 677.9L2043.8 680.9L2045.0 680.2L2046.3 682.8L2047.5 681.9L2048.8 683.1L2050.0 682.0L2051.3 678.7L2052.5 673.9L2055.0 669.0L2056.0 667.9L2056.3 667.9L2057.5 668.8L2058.8 669.1L2060.0 671.3L2061.3 674.4L2062.5 674.9L2063.8 677.9L2065.0 678.3L2066.3 676.6L2067.5 676.4L2068.8 673.4L2070.0 672.5L2072.5 667.0L2075.0 661.9L2076.3 659.8L2077.5 656.6L2078.8 655.6L2081.3 652.8L2082.5 653.4L2083.8 650.9L2085.0 650.0L2087.5 649.2L2087.5 649.5L2088.8 649.8L2090.0 650.6L2091.3 653.9L2092.5 654.4L2096.3 660.1L2097.5 663.0L2098.8 662.6L2100.0 663.3L2100.0 663.0L2101.3 662.6L2102.5 662.5L2103.8 660.6L2106.3 655.4L2107.5 651.8L2107.5 653.3L2108.8 649.0L2110.0 647.0L2113.8 635.9L2115.0 635.5L2116.3 635.7L2117.5 637.8L2118.8 642.0L2120.0 643.5L2121.3 647.4L2122.5 653.5L2122.5 651.8L2123.8 658.7L2125.0 668.2L2128.8 702.3L2136.3 778.9L2138.8 801.5L2141.3 818.6L2142.5 825.4L2142.5 824.5L2143.8 828.6L2145.0 831.6L2146.3 832.4L2147.5 828.0L2148.8 821.4L2150.0 810.1L2151.3 800.1L2153.8 765.9L2155.0 751.4L2156.3 742.5L2158.8 730.1L2159.5 731.0L2160.0 731.2L2161.3 732.7L2165.0 752.0L2166.3 767.3L2167.5 787.7L2168.8 803.3L2171.3 821.6L2172.5 824.5L2173.8 825.8L2175.0 826.6L2176.3 827.9L2177.5 830.8L2177.5 829.4L2180.0 848.6L2181.0 853.6L2181.3 853.6L2182.5 850.5L2186.3 828.8L2187.5 824.2L2187.5 825.5L2188.8 821.4L2191.3 817.0L2192.5 816.9L2193.8 813.8L2195.0 813.1L2198.8 805.4L2200.0 803.3L2201.3 800.7L2202.0 800.1L2202.5 802.2L2203.8 804.5L2205.0 809.1L2206.3 815.1L2207.0 819.4L2207.5 825.8L2218.0 1040.3L2220.0 1076.6L2221.3 1093.7L2223.8 1109.3L2224.5 1110.8L2225.0 1110.1L2226.3 1103.2L2227.5 1094.5L2228.8 1076.3L2231.3 1010.4L2233.8 914.9L2238.8 818.2L2245.0 721.0L2246.3 703.5L2247.5 695.2L2250.7 688.5L2252.0 690.9L2253.0 691.6L2253.8 682.0L2254.0 690.1L2255.0 694.2L2256.0 678.6L2257.0 690.6L2258.0 693.9L2259.0 691.3L2260.0 674.9L2261.0 677.3L2261.2 693.4L2262.0 689.7L2263.0 687.1L2264.0 688.1L2265.0 681.6L2266.0 669.2L2267.6 680.3L2268.0 663.1L2269.0 675.2L2270.0 672.7L2271.0 668.5L2271.9 668.0L2272.0 670.1L2273.0 667.2L2274.0 669.6L2275.0 666.3L2276.0 653.0L2277.0 669.3L2278.0 650.6L2279.0 667.9L2280.0 666.0L2280.3 654.8L2281.0 654.8L2282.0 658.0L2283.0 674.0L2284.0 662.4L2285.0 674.0L2285.7 675.1L2286.0 666.2L2287.0 681.1L2288.0 665.8L2289.0 668.7L2289.9 683.7L2290.0 681.0L2291.0 670.7L2292.0 668.9L2293.0 669.1L2294.0 663.1L2295.0 679.3L2296.0 681.1L2296.3 679.2L2297.0 681.0L2298.0 678.4L2299.0 680.6L2300.0 684.2L2301.0 683.0L2302.0 671.1L2303.0 685.5L2304.0 671.6L2305.0 675.1L2307.0 688.2L2308.0 691.6L2309.0 710.1L2309.0 692.8L2310.0 697.8L2311.0 709.3L2312.0 712.3L2313.0 703.6L2314.0 717.5L2314.3 705.0L2315.0 719.1L2316.0 720.1L2317.0 720.4L2318.0 723.4L2319.0 724.7L2320.0 725.6L2320.7 713.6L2321.0 713.5L2322.0 712.2L2323.0 712.2L2324.0 730.1L2325.0 729.2L2326.0 734.6L2327.0 718.7L2328.0 731.7L2329.0 719.7L2330.0 731.1L2331.0 731.1L2332.0 709.6L2333.0 709.0L2334.0 719.6L2335.0 718.5L2336.0 705.1L2337.0 701.6L2338.0 701.4L2338.7 710.8L2339.0 710.8L2340.0 693.7L2341.0 705.5L2342.0 702.9L2343.0 701.3L2344.0 697.0L2345.0 684.5L2346.0 683.6L2346.2 698.4L2347.0 685.0L2348.0 684.4L2349.0 686.5L2350.0 683.8L2351.0 683.7L2351.5 698.8L2352.0 705.4L2353.0 688.8L2354.0 689.2L2355.0 707.9L2356.0 705.8L2357.0 690.1L2358.0 693.6L2359.0 703.5L2360.0 690.3L2361.0 701.7L2362.0 682.4L2362.1 698.5L2363.0 683.4L2364.0 692.9L2365.0 677.4L2366.0 692.6L2367.0 670.9L2367.4 670.6L2368.0 669.1L2369.0 684.5L2370.0 684.0L2371.0 678.3L2372.0 664.2L2372.7 674.5L2373.0 675.4L2374.0 660.8L2375.0 654.6L2376.0 668.4L2377.0 651.4L2378.0 664.7L2379.0 649.7L2381.0 647.1L2382.0 648.8L2383.0 663.5L2383.3 643.4L2384.0 646.1L2385.0 647.0L2386.0 652.5L2387.0 665.5L2388.0 658.3L2388.7 673.2L2389.0 658.8L2390.0 666.3L2391.0 668.6L2392.0 690.4L2393.0 693.6L2394.0 701.7L2394.0 699.7L2395.0 705.1L2396.0 707.8L2397.0 713.4L2398.0 701.2L2399.0 723.8L2399.3 706.0L2400.0 720.6L2401.0 709.4L2402.0 721.1L2403.0 721.8L2404.0 722.2L2404.6 721.4L2405.0 722.1L2406.0 721.0L2407.0 724.1L2408.0 723.4L2409.0 701.6L2410.0 721.0L2411.0 719.8L2412.0 705.1L2413.0 703.6L2414.0 704.1L2415.0 723.7L2415.2 706.3L2416.0 708.1L2417.0 728.3L2418.0 712.8L2419.0 711.3L2420.0 714.1L2420.5 716.7L2421.0 733.0L2422.0 720.3L2423.0 720.0L2424.0 721.4L2425.0 725.1L2426.0 726.9L2426.9 743.4L2428.0 738.0L2429.0 719.1L2430.0 713.6L2431.0 705.7L2431.1 702.2L2432.0 714.7L2433.0 696.6L2434.0 690.8L2435.0 701.4L2436.0 695.9L2436.4 695.0L2437.0 678.0L2438.0 669.1L2439.0 675.4L2440.0 666.4L2441.0 651.6L2441.7 651.0L2443.5 634.4"/>
<path class="c" stroke="#B177DE" d="M209.0 432.3L212.2 432.1L213.8 431.7L215.0 432.8L216.3 431.7L217.5 432.9L218.8 431.9L220.0 432.7L221.3 431.6L222.5 431.6L223.8 432.9L225.0 432.7L226.3 433.1L227.5 431.9L228.8 431.8L230.0 432.7L231.3 431.9L232.5 433.1L233.8 432.9L235.0 431.7L236.3 431.8L237.5 433.0L240.0 433.0L241.3 432.8L242.5 431.6L243.8 431.8L245.0 433.0L246.3 431.9L247.5 431.8L248.8 432.6L250.0 431.6L251.3 432.9L252.5 431.6L253.8 432.7L255.0 431.7L256.3 433.0L257.5 431.8L258.8 432.9L260.0 431.5L262.5 431.6L263.8 432.7L265.0 431.8L266.3 431.8L267.5 433.0L268.8 432.9L270.0 433.0L271.3 432.7L272.5 433.0L273.8 432.6L275.0 431.8L276.3 432.9L277.5 432.9L278.8 431.9L280.0 433.0L281.3 431.8L283.8 431.9L285.0 432.9L286.3 431.8L287.5 431.8L288.8 432.8L290.0 431.7L291.3 432.7L292.5 431.5L293.8 432.9L295.0 431.6L297.5 431.7L298.8 432.6L300.0 431.9L301.3 431.7L302.5 431.8L305.0 431.8L306.3 432.9L307.5 431.8L308.8 432.8L310.0 432.8L311.3 431.8L312.5 432.6L313.8 431.6L317.5 431.8L318.8 432.9L320.0 431.5L321.3 431.6L322.5 432.7L325.0 432.6L326.3 431.8L327.5 432.6L328.8 431.7L330.0 431.6L331.3 432.6L332.5 431.6L333.8 431.4L335.0 432.5L336.3 431.5L337.5 431.4L338.8 432.5L340.0 431.8L341.3 431.7L342.5 431.4L346.3 431.8L347.5 432.8L348.8 432.8L350.0 431.6L351.3 432.9L352.5 432.6L353.8 432.9L355.0 432.8L356.3 431.4L357.5 431.7L358.8 431.5L360.0 432.7L361.3 432.8L362.5 432.5L363.8 431.7L365.0 432.8L366.3 431.6L367.5 432.6L368.8 431.3L370.0 432.8L371.3 431.6L376.3 431.5L377.5 432.8L378.8 431.2L380.0 431.4L380.0 431.2L381.3 431.5L382.5 432.7L383.8 432.4L385.0 431.0L386.3 432.1L387.5 431.2L388.8 430.8L390.0 431.8L391.3 430.4L392.5 430.8L395.0 430.3L396.3 431.1L397.5 430.9L398.8 431.1L400.0 429.6L401.3 430.6L402.5 430.6L403.8 430.8L405.0 430.4L406.3 430.7L407.0 430.3L407.5 430.3L408.8 429.3L410.0 430.7L411.3 429.7L412.5 430.9L413.8 429.5L415.0 429.9L416.3 429.5L417.5 430.8L418.8 430.0L421.3 430.0L422.5 431.3L423.8 430.4L426.3 430.3L427.5 431.5L428.8 431.9L430.0 430.5L431.3 431.0L432.5 431.1L433.8 430.8L435.0 432.2L436.3 431.0L437.5 431.2L438.8 432.3L440.0 431.3L440.0 430.9L441.3 432.5L442.5 431.3L443.8 432.3L445.0 431.3L447.5 431.3L448.8 432.3L453.8 432.2L455.0 431.2L456.3 431.1L457.5 432.5L458.8 432.1L460.0 432.2L461.3 431.2L462.5 431.3L463.8 432.1L465.0 432.4L466.3 431.0L467.5 432.2L468.8 432.0L470.0 430.9L471.3 432.2L472.5 432.1L473.8 431.3L475.0 431.3L476.3 432.0L482.7 431.7L485.9 431.9L487.5 432.6L489.1 432.4L490.7 432.8L492.3 433.4L493.9 433.8L495.5 433.9L498.7 434.8L500.3 435.1L501.9 436.0L503.5 436.1L505.1 436.5L506.7 437.3L508.3 437.3L509.9 438.1L510.0 437.8L513.1 438.5L514.7 439.3L516.3 439.4L519.5 440.1L521.1 440.9L524.3 441.8L525.9 441.9L527.5 442.7L529.1 442.8L532.3 443.6L533.9 444.4L535.5 444.5L537.1 445.5L540.0 446.3L540.3 445.9L541.9 446.9L543.5 446.8L545.1 447.9L546.7 448.0L548.3 448.9L549.9 449.0L551.5 449.8L552.0 449.4L554.7 449.8L556.3 449.9L557.9 450.6L559.5 450.8L561.1 450.4L562.7 451.0L563.0 450.5L564.3 450.9L565.9 450.9L567.5 450.5L569.1 450.7L570.7 450.3L573.9 450.1L575.5 450.4L578.7 450.0L580.3 449.2L581.9 449.3L586.7 448.1L589.9 446.9L590.0 447.2L593.1 446.5L594.7 445.7L596.3 445.7L597.9 445.2L599.5 444.3L601.1 443.9L602.7 443.8L604.3 442.9L605.9 442.9L610.7 441.7L613.9 440.7L620.0 439.3L620.3 438.8L621.9 438.3L623.5 438.3L625.1 437.9L628.3 436.5L631.5 435.6L633.1 435.5L634.7 434.6L636.3 434.1L637.9 434.2L639.5 433.3L642.7 432.8L644.3 433.0L645.9 432.3L647.5 432.2L649.1 432.5L650.0 432.5L650.7 432.0L652.3 432.1L653.9 432.5L655.5 432.5L657.1 432.0L658.7 432.4L660.3 432.1L661.9 432.4L663.5 432.1L666.7 432.0L668.3 432.4L669.9 432.0L671.5 431.9L673.1 432.4L674.7 431.9L676.3 432.4L677.9 432.0L679.5 432.4L681.1 432.0L684.3 432.3L685.9 432.3L687.5 431.9L689.1 432.4L690.7 432.4L692.3 431.9L693.9 432.3L701.9 432.3L703.5 431.9L706.7 431.9L708.3 432.4L709.9 432.4L711.5 432.0L713.1 432.3L717.9 432.2L719.5 432.0L721.1 432.0L722.7 432.3L724.3 431.9L725.9 432.3L727.5 432.2L729.1 431.9L733.0 431.8L737.1 431.3L738.7 431.4L741.9 430.5L743.5 429.6L745.1 429.5L746.7 428.5L748.3 428.1L750.0 428.2L751.5 428.0L757.9 426.6L759.5 426.0L761.1 425.9L762.7 426.2L763.0 425.8L764.3 426.3L765.9 426.2L767.5 426.5L769.1 427.5L770.7 427.8L772.3 428.9L773.9 429.3L775.0 430.2L775.5 430.0L777.1 431.8L778.7 433.0L783.5 439.0L785.0 441.3L785.1 440.9L788.3 445.6L789.9 447.6L793.1 452.8L794.7 455.0L796.3 456.8L799.5 458.8L801.1 459.1L802.7 458.8L805.9 457.1L807.5 455.1L809.1 453.8L812.3 449.6L815.0 447.3L815.5 446.3L817.1 445.1L818.7 442.9L820.3 441.7L825.1 436.8L826.7 434.8L828.0 433.7L829.9 432.8L831.5 431.6L833.1 429.8L834.7 428.7L836.3 428.0L837.9 426.8L841.1 426.2L845.9 426.3L853.9 427.2L855.0 426.7L857.1 427.5L858.7 427.7L860.3 427.4L861.9 428.2L863.5 428.5L865.1 428.4L866.7 429.1L867.0 428.9L869.9 429.9L871.5 430.9L873.1 432.3L874.7 432.9L876.3 433.9L877.9 434.4L879.5 434.8L882.7 435.0L884.3 434.2L885.9 433.7L887.5 433.8L889.1 433.0L890.0 433.1L890.7 433.0L892.3 432.4L893.9 432.4L898.7 431.2L903.5 430.9L905.1 431.0L906.7 430.8L908.3 430.9L916.3 432.6L919.5 433.0L921.1 433.5L921.7 433.1L922.7 433.6L924.3 433.0L927.5 432.4L929.1 432.4L930.7 432.0L932.3 431.1L933.9 431.0L935.5 430.7L937.1 429.8L938.7 429.9L940.3 429.3L943.0 429.6L943.5 429.0L946.7 429.2L948.3 429.5L949.9 429.2L951.5 429.2L953.1 429.6L954.7 429.3L956.3 429.3L957.9 429.5L959.5 430.0L961.1 429.9L964.3 430.2L965.9 430.2L967.5 429.8L969.1 430.4L972.3 430.7L973.9 430.2L975.5 430.7L980.3 431.0L981.9 430.7L983.5 430.9L985.1 431.4L988.3 431.2L991.5 431.4L993.1 431.9L996.3 432.0L997.9 432.2L999.5 432.1L1000.0 431.7L1001.1 431.9L1002.7 432.4L1004.3 432.0L1009.1 432.3L1010.7 432.9L1012.3 432.9L1013.9 432.5L1015.5 433.1L1017.1 432.7L1018.7 433.2L1020.3 433.0L1021.9 433.5L1023.5 433.2L1025.1 433.3L1026.7 433.8L1028.3 433.4L1029.9 434.0L1031.5 433.7L1033.1 433.7L1034.7 434.3L1036.3 434.0L1042.7 434.3L1044.3 434.8L1045.9 434.5L1050.7 434.5L1053.9 435.0L1055.5 434.7L1057.1 435.2L1058.7 435.2L1060.3 434.9L1061.9 435.2L1063.5 435.2L1065.1 434.8L1066.7 435.2L1073.1 435.1L1074.7 435.2L1076.3 434.7L1079.5 435.1L1081.1 434.7L1082.7 434.6L1084.3 435.0L1085.9 435.0L1087.5 434.4L1090.7 434.3L1092.3 434.8L1093.9 434.2L1095.5 434.1L1097.1 434.6L1100.3 434.5L1101.9 434.1L1103.5 433.9L1105.1 434.3L1106.7 433.7L1108.3 434.1L1109.9 433.7L1111.5 434.1L1113.1 433.7L1114.7 434.0L1116.3 433.4L1117.9 433.8L1119.5 433.4L1121.1 433.8L1124.3 433.6L1125.9 433.2L1130.7 433.1L1132.3 433.4L1135.5 433.3L1137.1 432.8L1140.0 432.8L1140.3 433.1L1141.9 432.7L1143.5 432.7L1145.1 433.0L1146.7 432.7L1148.3 432.7L1149.9 433.1L1151.5 432.5L1153.1 432.4L1154.7 432.8L1156.3 432.3L1157.9 432.7L1161.1 432.7L1162.7 432.3L1164.3 432.1L1165.9 432.2L1167.5 432.5L1169.1 432.2L1170.7 432.5L1172.3 432.0L1173.9 432.4L1175.5 432.0L1177.1 432.3L1178.7 431.8L1180.3 431.9L1181.9 432.2L1183.5 431.7L1185.1 432.2L1186.7 431.8L1191.5 431.6L1193.1 431.7L1196.3 431.6L1197.9 432.0L1201.1 431.9L1202.7 431.5L1204.3 432.0L1205.9 431.4L1209.1 431.4L1210.0 431.9L1210.7 431.7L1213.9 434.3L1215.5 436.1L1217.1 438.4L1218.7 439.9L1220.3 442.1L1221.9 444.7L1223.5 445.9L1225.0 446.6L1225.1 446.9L1226.7 446.1L1228.3 443.9L1229.9 442.4L1231.5 440.4L1233.1 440.2L1236.3 440.7L1237.9 441.3L1239.5 442.6L1243.0 443.6L1244.3 442.9L1245.9 442.5L1249.1 441.1L1253.9 437.8L1257.0 436.1L1257.1 435.8L1258.7 435.1L1260.3 434.8L1261.9 434.0L1263.5 433.0L1265.1 432.3L1266.7 432.3L1268.3 431.6L1271.5 431.6L1273.1 432.0L1274.7 431.8L1276.3 432.0L1277.9 431.5L1279.5 431.9L1281.1 431.4L1284.3 431.4L1285.9 432.0L1287.5 431.6L1289.1 432.0L1290.7 431.9L1292.3 431.6L1293.9 432.0L1297.1 432.0L1300.3 432.1L1301.9 431.7L1303.5 431.6L1305.1 431.7L1306.7 432.1L1308.3 431.8L1311.5 431.7L1313.1 432.2L1324.3 432.2L1327.5 431.9L1329.1 432.3L1337.1 432.5L1338.7 432.1L1340.3 432.5L1341.9 432.0L1343.5 432.4L1345.1 432.6L1346.7 432.2L1348.3 432.2L1351.5 432.7L1353.1 432.2L1356.3 432.2L1357.9 432.7L1359.5 432.6L1361.1 432.2L1369.1 432.4L1370.7 432.8L1372.3 432.4L1373.9 432.4L1375.5 432.8L1377.1 432.4L1378.7 432.5L1380.3 432.9L1381.9 432.4L1383.5 432.8L1385.1 432.4L1386.7 432.6L1389.9 432.4L1391.5 432.9L1393.1 432.5L1394.7 433.0L1396.3 432.5L1399.5 432.4L1401.1 432.8L1402.7 432.9L1404.3 432.7L1405.9 432.2L1407.5 432.7L1410.7 432.4L1412.3 432.0L1417.1 431.6L1418.7 431.9L1420.3 431.4L1421.9 431.6L1423.5 431.2L1425.1 431.5L1426.7 430.9L1428.3 431.3L1430.0 430.7L1431.5 430.6L1433.1 431.0L1434.7 431.0L1436.3 430.4L1437.9 430.4L1439.5 430.7L1441.1 430.1L1442.7 430.1L1444.3 430.3L1445.9 430.0L1450.0 430.0L1450.7 430.2L1455.1 428.9L1456.4 428.7L1457.4 428.8L1458.4 431.2L1459.4 431.1L1460.4 431.2L1461.4 428.7L1462.4 428.5L1463.4 429.3L1464.4 431.1L1465.4 428.9L1466.4 431.0L1467.4 431.3L1468.4 430.8L1469.4 430.7L1471.4 431.4L1472.4 428.8L1473.4 428.8L1474.4 429.2L1475.0 428.6L1475.4 430.8L1476.4 431.1L1477.4 428.7L1479.4 429.6L1480.4 431.6L1481.4 430.0L1482.4 430.2L1483.4 431.0L1484.4 433.4L1485.4 431.4L1486.4 434.0L1487.4 432.1L1488.4 432.1L1489.4 434.8L1490.0 434.8L1490.4 433.3L1491.4 435.5L1492.4 433.7L1493.4 434.6L1494.4 434.8L1495.4 437.1L1496.4 435.9L1497.4 438.5L1498.4 439.1L1499.4 436.8L1500.4 439.2L1501.4 439.6L1502.4 439.4L1502.5 437.4L1504.4 437.2L1505.4 437.8L1506.4 437.0L1507.4 437.4L1508.4 438.5L1509.4 436.8L1510.4 435.9L1511.4 438.0L1512.4 437.4L1513.4 435.2L1515.4 434.8L1516.4 433.8L1517.0 435.7L1517.4 436.3L1518.4 435.5L1519.4 433.4L1521.4 432.9L1522.4 434.8L1523.4 434.2L1524.4 431.4L1527.4 431.0L1528.4 430.2L1529.4 432.4L1530.4 431.7L1531.4 429.1L1532.4 428.6L1532.5 429.1L1533.4 428.5L1534.4 430.5L1535.4 429.9L1536.4 429.7L1537.4 427.2L1538.4 428.5L1539.4 426.3L1540.4 425.8L1542.4 425.5L1544.4 424.6L1545.4 424.8L1546.4 426.7L1547.0 425.8L1547.4 423.5L1548.4 423.7L1550.4 422.9L1551.4 425.0L1552.4 424.2L1553.4 421.7L1554.4 423.7L1555.4 421.5L1556.4 423.0L1558.4 422.9L1559.4 422.2L1560.4 422.5L1561.4 422.1L1562.4 420.1L1562.5 420.6L1563.4 420.1L1564.4 422.5L1565.4 420.1L1566.4 422.5L1567.4 420.8L1568.4 420.2L1569.4 422.5L1570.4 420.3L1571.4 422.6L1572.4 423.3L1573.4 421.3L1574.4 423.1L1575.4 423.7L1576.4 421.8L1577.4 421.7L1578.4 424.3L1579.4 421.8L1580.4 424.6L1581.4 422.7L1582.4 424.6L1583.4 423.0L1584.4 424.7L1585.4 423.4L1586.4 425.1L1587.4 423.6L1588.4 424.0L1589.4 424.0L1590.4 424.4L1591.4 425.9L1592.4 424.4L1593.4 424.3L1594.4 427.2L1595.4 424.7L1596.4 427.3L1597.4 427.1L1598.4 425.6L1599.4 427.9L1600.4 426.4L1601.4 428.6L1602.4 427.0L1603.0 429.4L1604.4 427.1L1605.4 428.3L1606.4 430.5L1607.4 429.5L1608.4 432.0L1609.4 432.8L1610.4 432.8L1611.4 431.7L1612.4 431.3L1612.5 433.8L1613.4 433.2L1614.4 433.0L1615.4 429.4L1616.4 428.4L1617.4 429.3L1618.4 426.2L1619.4 427.0L1620.4 424.5L1621.4 425.9L1622.4 423.8L1622.5 425.3L1623.4 423.7L1624.4 426.4L1625.4 424.3L1627.4 426.5L1628.4 429.6L1629.4 428.3L1630.4 428.9L1631.4 430.6L1632.4 431.6L1632.5 433.9L1633.4 432.1L1634.4 433.1L1635.4 434.8L1636.4 438.0L1637.4 438.6L1638.4 437.8L1640.4 440.8L1642.4 442.9L1643.4 446.8L1644.4 448.0L1645.0 446.6L1645.4 449.4L1647.4 451.7L1648.4 452.6L1650.0 454.7L1650.4 453.1L1651.4 454.3L1652.4 456.9L1653.4 455.5L1654.4 458.8L1655.4 457.2L1656.4 460.9L1657.4 459.1L1658.4 461.9L1659.4 462.7L1660.4 462.4L1662.4 464.8L1663.4 468.4L1664.4 468.2L1665.4 470.5L1666.4 473.7L1667.4 479.0L1668.4 480.1L1669.4 483.3L1670.4 489.2L1671.0 489.1L1672.4 494.7L1673.4 501.6L1674.4 504.1L1675.4 511.7L1676.4 515.4L1677.4 521.3L1677.5 523.2L1678.4 526.9L1679.4 535.5L1680.4 540.7L1682.4 554.9L1683.4 563.4L1683.8 564.2L1684.4 570.1L1687.9 593.2L1692.7 619.8L1694.3 627.8L1695.9 633.7L1697.5 636.0L1699.1 634.0L1700.7 629.0L1708.7 593.7L1720.0 535.0L1724.7 506.9L1726.3 498.1L1729.5 484.1L1731.1 477.8L1732.7 472.5L1734.3 468.6L1737.5 464.1L1738.7 462.1L1740.0 463.0L1741.2 459.1L1742.2 461.1L1743.2 459.8L1744.2 457.6L1745.2 456.8L1746.2 458.1L1747.2 458.4L1748.2 457.9L1749.2 455.3L1750.0 455.6L1750.2 455.1L1751.2 458.0L1752.2 455.8L1753.2 458.0L1754.2 456.6L1755.2 459.1L1756.2 459.3L1757.2 460.3L1759.2 461.4L1760.2 462.2L1761.2 462.6L1762.2 461.6L1762.5 461.8L1763.2 464.1L1764.2 464.2L1765.2 463.3L1766.2 466.1L1767.2 463.8L1768.2 464.8L1769.2 465.4L1770.2 468.0L1771.2 467.0L1772.2 468.5L1773.2 469.4L1774.2 472.2L1775.0 473.3L1775.2 474.0L1776.5 475.6L1777.7 480.2L1787.3 524.3L1790.0 534.6L1790.5 537.7L1792.1 544.1L1793.7 552.4L1795.3 559.2L1796.9 563.5L1798.5 565.7L1798.8 566.4L1800.1 564.3L1801.7 560.3L1803.3 553.8L1804.9 546.0L1806.0 542.2L1811.3 513.8L1812.9 508.4L1816.1 501.8L1819.3 496.3L1820.0 494.7L1822.5 490.4L1824.1 488.5L1825.7 485.5L1827.3 483.5L1828.9 482.2L1830.0 482.0L1830.5 482.4L1832.1 485.7L1835.3 497.1L1837.5 501.4L1838.5 501.0L1843.3 492.4L1844.9 488.2L1846.5 486.3L1847.5 484.5L1848.1 484.7L1849.7 483.0L1851.3 482.1L1852.9 482.1L1854.5 480.8L1856.1 481.1L1859.3 479.7L1860.9 478.1L1862.5 477.0L1862.5 477.9L1867.3 474.0L1868.9 472.0L1870.5 470.8L1873.7 466.2L1875.0 464.8L1876.9 461.6L1878.5 457.4L1880.1 455.1L1881.7 451.8L1883.3 449.3L1884.9 447.2L1886.5 444.6L1888.1 441.5L1891.3 437.4L1892.9 436.6L1894.5 434.5L1896.1 434.5L1897.5 433.5L1899.3 434.7L1904.1 444.6L1907.3 453.2L1908.9 455.6L1910.0 457.8L1912.1 460.2L1913.7 461.2L1915.3 462.8L1916.9 464.9L1918.5 466.0L1923.3 469.6L1924.9 469.9L1926.5 471.0L1928.1 472.7L1929.7 473.1L1931.3 474.9L1932.9 475.6L1934.5 476.9L1936.1 479.2L1937.5 479.8L1939.3 481.9L1944.1 489.8L1945.7 491.9L1948.9 497.3L1950.5 498.6L1952.1 500.8L1953.7 500.8L1955.0 501.3L1955.3 501.7L1956.9 501.3L1958.5 500.3L1960.1 498.4L1961.7 497.1L1965.0 496.3L1966.5 496.8L1968.1 498.2L1971.3 502.0L1974.0 502.6L1974.5 503.1L1977.7 497.6L1979.3 492.1L1980.9 487.8L1982.5 482.7L1984.1 476.1L1987.3 460.4L1988.9 454.3L1992.1 448.2L1993.7 446.7L1995.3 445.0L1996.9 442.7L1998.5 441.7L2000.1 440.3L2001.7 437.9L2003.3 436.4L2004.9 435.8L2006.5 433.8L2008.1 433.0L2009.7 431.1L2011.3 430.5L2012.9 429.3L2015.0 427.0L2016.1 426.2L2017.7 425.7L2019.3 424.1L2020.9 422.0L2022.5 421.1L2024.1 419.2L2025.7 418.6L2027.3 416.4L2028.9 416.2L2030.5 414.6L2032.1 413.9L2033.7 414.2L2035.0 413.3L2035.3 414.1L2036.9 414.2L2038.5 416.3L2040.1 417.9L2043.3 422.5L2044.9 425.2L2046.5 426.8L2048.1 427.2L2048.8 427.9L2049.7 427.7L2051.3 427.0L2056.1 421.0L2057.7 418.7L2059.3 417.0L2060.9 414.2L2062.5 412.8L2064.1 410.7L2072.1 398.1L2073.7 396.4L2075.3 395.8L2076.0 395.8L2078.5 397.8L2080.1 399.5L2081.7 402.3L2086.5 413.4L2090.0 419.7L2092.9 425.9L2094.5 428.1L2097.7 434.9L2099.3 436.4L2100.9 438.7L2102.5 439.1L2104.1 436.6L2105.7 433.0L2108.9 424.6L2110.0 422.8L2110.5 422.3L2112.1 419.5L2115.3 417.9L2116.0 417.1L2116.9 417.5L2118.5 419.9L2120.1 423.0L2124.9 436.4L2125.0 437.3L2126.5 444.4L2128.1 454.5L2132.9 493.1L2136.1 525.9L2139.3 573.6L2141.0 595.2L2144.1 625.3L2145.7 632.6L2146.0 632.9L2147.3 631.2L2148.9 624.9L2150.5 617.7L2152.1 605.2L2153.7 586.7L2155.3 572.6L2156.9 562.6L2158.5 554.9L2160.0 552.0L2161.7 556.4L2163.3 564.4L2165.0 575.2L2166.5 594.2L2168.1 620.3L2169.7 637.7L2171.3 652.6L2172.5 657.8L2172.9 657.7L2176.1 661.2L2177.5 662.2L2179.3 675.1L2181.0 683.3L2182.5 679.1L2186.0 657.3L2192.5 629.7L2193.7 623.8L2196.9 604.8L2198.8 597.2L2200.1 594.3L2201.7 591.6L2202.5 591.2L2203.3 591.5L2204.9 597.6L2206.5 607.7L2207.5 614.8L2208.1 625.0L2210.5 689.9L2214.5 775.1L2219.3 857.2L2221.0 879.8L2222.5 895.4L2224.1 904.2L2224.5 904.6L2225.7 900.7L2228.0 879.7L2228.9 869.1L2232.1 822.8L2233.7 806.4L2235.5 779.9L2238.8 615.1L2240.1 574.1L2241.8 540.1L2243.3 516.7L2244.9 497.7L2246.3 489.8L2246.5 489.6L2248.1 486.6L2252.9 482.0L2254.5 480.1L2255.9 480.2L2256.1 479.7L2258.4 479.5L2259.4 474.9L2260.4 474.8L2261.2 477.0L2262.4 470.6L2263.4 471.3L2264.4 463.3L2265.4 460.1L2266.4 455.5L2266.5 458.9L2267.4 452.6L2268.4 454.0L2269.4 451.2L2270.4 445.1L2271.4 442.8L2272.4 442.1L2273.4 440.4L2274.4 442.7L2275.4 438.3L2276.4 440.5L2277.2 436.0L2277.4 438.2L2278.4 437.4L2279.4 430.8L2280.4 433.0L2281.4 431.4L2282.4 430.2L2282.5 427.3L2283.4 430.1L2284.4 430.0L2285.4 427.2L2286.4 431.2L2287.4 431.0L2287.8 430.6L2288.4 430.8L2289.4 430.6L2290.4 427.7L2291.4 428.1L2292.4 427.7L2293.1 432.2L2293.4 427.9L2294.4 429.0L2295.4 433.1L2296.4 431.0L2297.4 431.5L2298.4 435.9L2299.4 433.9L2300.4 437.4L2301.4 439.8L2302.4 440.7L2303.4 437.8L2303.7 441.5L2304.4 441.4L2305.4 442.3L2306.4 438.3L2307.4 442.4L2308.4 442.7L2309.0 439.9L2309.4 439.0L2310.4 442.1L2311.4 438.9L2312.4 437.3L2313.4 439.9L2314.3 436.2L2314.4 439.4L2315.4 436.8L2316.4 436.5L2317.4 436.6L2318.4 437.3L2319.4 436.7L2320.4 437.6L2321.4 436.8L2322.4 437.7L2323.4 437.0L2324.4 437.3L2324.9 437.7L2325.4 440.1L2326.4 437.4L2327.4 440.4L2328.4 436.3L2329.4 439.6L2330.4 438.8L2331.4 438.4L2332.4 437.5L2333.4 434.8L2334.4 433.6L2335.4 434.0L2335.6 437.4L2336.4 432.7L2337.4 433.4L2338.4 435.7L2339.4 433.2L2340.4 436.0L2341.4 432.8L2343.4 432.7L2344.4 435.5L2345.4 432.4L2346.2 431.2L2346.4 435.1L2347.4 431.5L2348.4 435.1L2349.4 434.2L2350.4 431.6L2351.4 434.6L2352.4 434.1L2353.4 430.5L2354.4 433.7L2355.4 430.3L2356.4 433.7L2356.8 432.8L2357.4 429.2L2358.4 432.6L2359.4 431.1L2360.4 427.1L2361.4 429.6L2362.1 429.0L2362.4 425.1L2364.4 423.9L2365.4 426.8L2366.4 424.1L2367.4 423.9L2367.4 426.5L2368.4 426.8L2369.4 422.6L2370.4 425.5L2371.4 421.9L2372.4 425.3L2372.7 422.7L2373.4 425.9L2374.4 421.6L2375.4 424.7L2376.4 423.7L2377.4 420.5L2378.0 419.2L2378.4 419.4L2379.4 421.7L2380.4 419.1L2381.4 422.1L2382.4 421.5L2383.4 418.0L2384.4 421.0L2385.4 421.2L2386.4 418.7L2387.4 423.5L2388.4 420.6L2388.7 421.3L2389.4 425.7L2390.4 425.2L2391.4 431.4L2392.4 435.5L2393.4 434.6L2394.0 440.0L2394.4 440.1L2395.4 439.4L2396.4 440.8L2397.4 441.8L2398.4 445.6L2399.3 445.6L2399.4 442.9L2400.4 444.8L2401.4 440.9L2402.4 440.8L2403.4 436.4L2404.4 434.5L2404.6 437.8L2405.4 436.5L2406.4 433.7L2407.4 433.2L2408.4 432.2L2409.4 435.5L2409.9 432.0L2410.4 431.3L2411.4 430.9L2412.4 430.8L2413.4 428.8L2414.4 428.8L2415.2 428.4L2415.4 428.7L2416.4 432.1L2417.4 428.9L2418.4 432.7L2419.4 433.6L2420.4 433.5L2420.5 430.0L2421.4 433.6L2422.4 433.9L2423.4 430.6L2424.4 434.4L2425.4 433.6L2425.8 430.8L2426.4 431.0L2427.4 434.4L2428.4 433.1L2429.4 429.8L2430.4 428.4L2431.1 430.9L2431.4 426.5L2432.4 427.7L2433.4 422.5L2434.4 421.6L2435.4 417.1L2436.4 410.4L2436.4 411.3L2437.4 407.2L2438.4 404.5L2439.4 403.9L2440.4 397.5L2441.6 391.6L2441.7 392.5L2443.5 374.9"/>
<path class="c" stroke="#CC9900" d="M209.0 220.7L210.6 220.5L212.2 221.1L213.8 219.9L215.0 221.6L216.3 221.4L217.5 219.7L218.8 221.8L220.0 221.5L221.3 219.7L222.5 219.7L223.8 221.4L225.0 220.2L226.3 221.8L227.5 221.8L230.0 221.3L231.3 220.1L232.5 221.5L233.8 219.8L235.0 219.8L236.3 221.6L237.5 221.7L238.8 220.2L240.0 220.2L241.3 219.6L242.5 221.1L243.8 221.3L245.0 220.0L246.3 220.0L247.5 221.1L248.8 219.9L250.0 219.6L251.3 221.5L252.5 221.3L253.8 220.1L255.0 221.3L256.3 221.1L257.5 221.5L260.0 221.2L261.3 221.3L262.5 221.1L263.8 221.6L265.0 221.1L267.5 221.1L268.8 219.7L270.0 221.4L271.3 219.7L272.5 221.3L273.8 221.1L275.0 221.5L276.3 221.1L277.5 219.9L278.8 221.2L280.0 219.7L281.3 219.6L282.5 221.1L283.8 219.6L285.0 221.1L286.3 221.4L287.5 221.0L288.8 221.1L290.0 221.5L291.3 219.5L292.5 221.4L293.8 219.8L295.0 221.2L296.3 220.0L297.5 221.2L298.8 219.4L300.0 220.0L300.0 219.6L301.3 221.0L302.5 221.6L303.8 220.9L305.0 219.9L306.3 219.9L307.5 219.5L308.8 219.9L310.0 221.1L311.3 221.4L312.5 219.8L313.8 220.0L315.0 221.5L316.3 221.0L317.5 221.5L318.8 219.5L320.0 221.5L322.5 220.9L323.8 219.8L325.0 221.4L326.3 219.6L327.5 220.9L328.8 221.4L332.5 221.3L333.8 219.7L335.0 221.4L336.3 219.4L337.5 219.8L338.8 221.1L340.0 219.3L341.3 220.9L343.8 221.2L346.3 221.0L347.5 219.3L348.8 221.2L350.0 221.3L351.3 219.2L352.5 219.8L353.8 219.7L355.0 219.4L356.3 219.7L357.5 219.8L358.8 219.3L360.0 219.1L361.3 219.6L362.5 221.0L363.8 221.2L365.0 219.5L366.3 220.8L367.5 219.1L368.8 220.9L371.3 221.2L372.5 220.9L373.8 221.1L375.0 219.0L377.5 219.2L378.8 218.9L380.0 221.1L380.0 219.3L381.3 220.8L382.5 219.4L383.8 221.0L385.0 220.9L386.3 220.7L387.5 219.2L388.8 218.6L390.0 220.4L391.3 220.3L392.5 218.7L393.8 220.5L395.0 218.4L396.3 220.2L397.5 218.4L398.8 218.2L400.0 219.6L400.0 218.3L401.3 218.1L402.5 219.8L403.8 219.8L405.0 217.8L406.3 217.3L407.5 217.5L408.8 219.2L410.0 217.6L411.3 217.1L412.5 219.0L413.0 219.0L413.8 217.2L415.0 218.7L416.3 218.9L417.5 217.8L418.8 219.3L420.0 218.0L421.3 218.6L422.5 220.3L423.8 218.5L425.0 220.3L425.0 218.8L426.3 218.6L427.5 218.9L428.8 219.0L430.0 220.4L431.3 219.2L432.5 220.6L433.8 219.4L435.0 221.0L436.3 220.5L437.5 219.2L438.8 219.4L440.0 220.9L440.0 218.9L441.3 221.0L442.5 220.8L443.8 221.0L445.0 219.2L446.3 221.0L447.5 219.1L448.8 219.0L450.0 220.6L452.5 220.9L453.8 218.9L455.0 220.8L456.3 221.0L457.5 219.4L458.8 219.5L460.0 221.0L461.3 219.3L462.5 218.9L463.8 219.2L465.0 219.0L466.3 220.9L467.5 220.6L470.0 221.1L471.3 219.4L472.5 221.0L473.8 219.4L475.0 219.5L476.3 220.5L477.5 219.8L479.1 220.1L482.4 220.0L484.0 220.2L485.6 220.9L487.2 221.3L488.8 221.2L490.4 221.7L493.6 223.2L495.2 223.7L496.8 223.7L498.4 224.7L500.0 225.1L500.0 225.3L504.8 226.7L508.0 227.9L509.6 228.3L512.8 229.6L514.4 229.7L516.0 230.8L517.6 230.9L520.0 231.7L520.8 232.5L527.2 235.2L528.8 235.5L530.4 236.1L532.0 237.2L533.6 237.9L535.2 238.1L536.8 239.1L538.4 239.7L540.0 239.8L540.0 240.3L541.6 240.7L543.2 240.8L544.8 241.7L546.4 241.7L548.0 242.7L552.0 243.5L552.8 243.1L554.4 243.4L556.0 244.0L557.6 243.7L559.2 244.4L560.8 244.4L562.4 244.0L563.0 244.1L564.0 244.6L567.2 244.5L568.8 243.9L570.4 244.2L572.0 243.5L575.0 243.5L575.2 243.8L576.8 243.7L578.4 243.3L580.0 242.5L581.6 242.2L583.2 242.3L586.4 241.5L592.8 239.5L594.4 238.4L596.0 238.3L597.6 237.2L599.2 236.6L600.8 236.5L602.4 235.9L604.0 234.9L605.6 234.3L607.2 234.2L608.8 233.6L610.0 232.8L610.4 233.1L616.8 231.0L618.4 230.0L620.0 229.8L621.6 228.7L623.2 228.8L624.8 227.6L626.4 227.7L632.8 225.8L634.4 224.8L635.0 224.8L636.0 225.1L637.6 224.1L639.2 224.3L640.8 223.3L642.4 222.8L644.0 223.0L645.6 222.6L647.2 221.8L648.8 221.3L650.4 221.5L652.0 221.2L653.6 220.7L655.2 220.4L656.8 221.0L658.4 220.4L660.0 220.4L661.6 221.0L663.2 220.9L664.8 220.4L674.4 220.4L676.0 220.8L680.8 220.8L682.4 220.3L685.6 220.5L687.2 220.9L688.8 220.3L690.4 220.9L692.0 220.8L693.6 220.3L695.2 220.4L696.8 220.9L700.0 220.8L701.6 220.4L703.2 220.8L704.8 220.7L706.4 220.9L708.0 220.8L709.6 220.4L711.2 220.4L712.8 220.8L714.4 220.3L716.0 220.8L717.6 220.7L719.2 220.2L720.8 220.8L722.4 220.4L724.0 220.9L725.6 220.8L727.2 220.2L728.8 220.8L730.4 220.2L732.0 220.7L733.0 220.2L736.8 220.2L738.4 220.4L740.0 219.6L741.6 219.5L743.2 219.2L744.8 219.4L746.4 219.3L751.2 218.5L754.4 218.2L756.0 217.3L757.6 217.2L759.2 217.6L760.0 217.5L760.8 217.6L762.4 217.2L764.0 217.8L765.6 217.6L767.2 218.4L768.8 218.4L770.4 218.8L772.0 220.0L773.6 221.8L776.8 226.5L780.0 232.3L781.6 234.4L784.8 240.4L786.4 244.0L792.8 253.9L794.4 256.9L796.0 258.6L797.6 260.6L799.2 262.3L800.8 262.5L801.0 262.9L802.4 262.6L804.0 261.4L807.2 256.9L808.8 255.0L810.4 252.0L812.0 249.9L812.0 250.3L813.6 248.2L815.2 245.5L816.8 243.9L820.0 239.2L823.2 234.2L825.0 231.8L826.4 230.5L828.0 228.4L829.6 225.7L831.2 223.7L832.8 222.6L833.0 221.7L834.4 220.9L837.6 217.8L840.8 216.3L842.4 216.8L844.0 216.8L845.6 216.2L847.2 216.7L848.8 216.2L850.4 216.8L853.6 216.5L855.2 217.2L856.8 217.3L858.4 217.1L860.0 217.4L860.0 217.9L861.6 218.3L863.2 218.3L866.4 219.9L868.0 220.4L869.6 220.5L872.8 222.0L874.4 223.0L876.0 223.6L877.6 224.8L879.2 224.7L880.8 224.7L884.0 224.4L887.2 223.6L888.8 223.3L892.0 222.5L893.0 222.7L893.6 222.2L895.2 222.3L896.8 221.5L898.4 221.8L900.0 221.4L901.6 221.3L903.2 220.9L904.8 220.2L906.4 220.4L911.2 219.6L912.8 218.9L919.2 218.0L920.8 218.2L924.0 217.8L925.0 217.8L925.6 217.2L927.2 217.1L928.8 217.3L930.4 216.6L933.6 216.2L935.2 216.5L940.0 216.2L941.6 215.7L944.8 215.8L948.0 215.8L949.6 216.0L951.2 216.5L952.8 215.9L954.4 216.0L956.0 216.5L957.6 216.1L959.2 216.2L960.0 216.8L962.4 216.4L964.0 217.0L965.6 216.6L967.2 216.7L968.8 217.2L970.4 216.8L972.0 217.0L973.6 217.7L976.8 217.8L978.4 217.5L984.8 218.1L986.4 218.7L988.0 218.4L989.6 219.0L991.2 218.7L994.4 218.8L996.0 219.6L997.6 219.5L999.2 219.7L1000.0 219.3L1000.8 219.7L1002.4 219.4L1004.0 219.5L1005.6 220.0L1008.8 219.7L1010.4 219.9L1013.6 219.9L1015.2 220.4L1016.8 220.1L1018.4 220.8L1020.0 220.3L1021.6 220.8L1024.8 221.0L1026.4 220.4L1028.0 220.9L1029.6 220.4L1030.0 221.0L1031.2 220.4L1032.8 220.5L1034.4 221.0L1036.0 220.9L1037.6 220.5L1039.2 220.9L1040.8 221.0L1042.4 220.5L1044.0 220.4L1045.6 220.9L1047.2 220.4L1050.4 220.4L1053.6 220.5L1055.2 220.9L1060.0 220.9L1061.6 220.5L1063.2 220.5L1064.8 221.0L1066.4 220.9L1068.0 221.0L1069.6 220.5L1072.8 220.4L1074.4 220.5L1080.8 220.5L1082.4 220.9L1084.0 220.4L1085.6 220.9L1092.0 220.9L1093.6 221.0L1095.2 220.5L1096.8 221.0L1098.4 220.5L1100.0 221.0L1103.2 220.9L1104.8 220.4L1106.4 220.9L1108.0 220.4L1109.6 220.4L1111.2 220.9L1114.4 220.9L1116.0 220.4L1117.6 221.0L1120.8 221.0L1122.4 220.6L1124.0 221.0L1125.6 221.0L1127.2 220.4L1128.8 220.5L1130.4 221.0L1132.0 220.9L1140.0 220.9L1141.6 220.5L1143.2 220.9L1144.8 220.4L1146.4 220.5L1149.6 220.5L1151.2 220.9L1152.8 220.8L1154.4 220.4L1156.0 221.0L1160.8 220.4L1162.3 220.4L1163.9 221.0L1165.5 220.4L1167.1 220.6L1168.7 220.9L1170.3 220.8L1171.9 221.0L1173.5 220.9L1175.1 220.4L1176.7 220.5L1178.3 220.9L1179.9 220.5L1181.5 220.9L1183.1 220.9L1184.7 220.5L1186.3 220.4L1187.9 220.9L1192.7 220.9L1194.3 220.4L1195.9 220.9L1197.5 220.5L1199.1 220.9L1202.3 220.9L1203.9 220.5L1205.5 221.0L1210.0 220.9L1210.3 220.4L1211.9 221.4L1213.5 223.5L1215.1 224.7L1216.7 226.5L1218.3 228.9L1219.9 231.8L1223.1 235.6L1225.0 237.0L1226.3 235.8L1227.9 234.0L1229.5 231.9L1231.1 229.2L1232.7 228.5L1233.0 228.1L1234.3 228.4L1235.9 229.9L1237.5 230.8L1239.1 232.4L1240.7 232.9L1241.7 233.6L1242.3 233.6L1243.9 232.7L1245.5 232.5L1250.3 229.4L1251.9 227.7L1253.5 227.2L1255.0 225.7L1255.1 226.2L1259.9 223.1L1261.5 221.5L1263.1 220.6L1266.3 220.2L1266.7 219.7L1267.9 219.8L1269.5 220.2L1272.7 220.4L1274.3 219.9L1279.1 219.9L1280.7 220.6L1283.9 220.5L1285.5 220.1L1287.1 220.7L1288.7 220.3L1290.0 220.4L1290.3 220.8L1295.1 221.0L1296.7 220.6L1301.5 221.0L1303.1 221.5L1304.7 221.7L1306.3 221.6L1311.1 222.0L1312.7 221.4L1313.0 221.9L1315.9 221.9L1317.5 222.0L1322.3 222.0L1323.9 221.4L1330.3 221.4L1331.9 222.0L1333.5 221.9L1335.1 221.4L1338.3 221.4L1339.9 221.9L1341.5 221.5L1344.7 221.4L1347.9 221.9L1349.5 221.9L1351.1 221.5L1354.3 221.4L1355.9 222.0L1357.5 221.5L1359.1 221.5L1360.7 221.4L1362.3 221.5L1363.9 222.0L1365.5 221.4L1367.1 221.5L1368.7 221.9L1370.3 222.0L1371.9 221.5L1375.1 221.4L1376.7 221.9L1378.3 221.9L1379.9 221.5L1384.7 221.5L1386.3 221.9L1387.9 221.4L1391.1 221.6L1392.7 221.9L1394.3 221.4L1395.9 221.4L1396.7 221.9L1397.5 221.4L1399.1 221.5L1400.7 221.4L1402.3 221.9L1403.9 221.4L1405.5 221.7L1407.1 221.7L1408.7 221.0L1410.3 221.5L1411.9 220.9L1413.5 220.9L1415.1 221.2L1416.7 221.0L1418.3 220.5L1419.9 220.9L1421.5 220.3L1423.1 220.1L1424.7 220.2L1426.3 220.6L1427.9 219.8L1429.5 220.3L1430.0 220.3L1431.1 219.7L1432.7 220.0L1434.3 219.6L1435.9 219.9L1437.5 219.4L1439.1 219.1L1440.7 219.5L1443.9 219.4L1445.5 218.7L1448.7 218.9L1450.3 218.7L1451.9 219.0L1453.5 217.9L1454.8 219.4L1456.0 217.5L1457.3 219.1L1458.5 219.2L1459.8 219.5L1461.0 217.7L1462.3 219.2L1463.5 219.1L1464.8 217.0L1466.0 218.9L1467.3 218.8L1468.5 218.9L1469.8 217.4L1471.0 218.5L1472.3 217.5L1472.5 219.1L1473.5 217.0L1474.8 219.4L1476.0 218.3L1477.3 220.3L1478.5 218.9L1481.0 221.0L1482.3 221.6L1483.5 222.0L1484.8 223.3L1485.0 223.3L1486.0 225.4L1487.3 226.1L1488.5 227.2L1489.8 228.6L1491.0 227.7L1493.5 229.6L1494.8 231.0L1496.0 233.4L1497.3 232.6L1498.5 232.5L1499.8 234.5L1500.0 233.3L1501.0 234.5L1502.3 232.7L1503.5 232.5L1504.8 231.7L1506.0 232.7L1507.3 230.7L1508.5 231.8L1509.8 231.1L1511.0 230.2L1512.0 229.9L1513.5 227.6L1514.8 228.5L1516.0 226.3L1517.3 225.4L1519.8 224.3L1521.0 225.7L1522.3 223.0L1523.5 222.6L1524.8 223.4L1525.0 221.7L1527.3 220.1L1528.5 221.0L1529.8 220.1L1531.0 219.7L1532.3 217.0L1533.5 216.3L1534.8 215.2L1536.0 216.1L1537.3 213.4L1538.5 214.6L1539.8 214.1L1541.0 211.7L1542.3 212.3L1543.5 209.9L1544.8 211.1L1545.0 209.2L1546.0 208.5L1547.3 209.5L1548.5 207.0L1549.8 206.6L1551.0 207.6L1552.3 207.1L1554.8 205.4L1556.0 203.4L1557.3 204.3L1558.5 204.3L1559.8 201.7L1561.0 203.4L1562.3 202.0L1562.5 203.0L1563.5 202.0L1564.8 201.8L1566.0 203.6L1567.3 202.2L1568.5 202.2L1569.8 203.8L1571.0 204.3L1572.3 202.4L1573.5 204.5L1574.8 202.8L1576.0 204.7L1577.3 205.2L1578.5 203.6L1579.8 203.8L1580.0 203.6L1581.0 203.9L1582.3 205.7L1583.5 205.1L1584.8 203.8L1586.0 203.5L1587.3 203.5L1588.5 205.5L1589.8 204.2L1591.0 203.6L1592.3 205.6L1593.5 205.4L1594.8 203.7L1597.3 203.9L1598.5 203.7L1600.0 204.2L1601.0 206.2L1602.3 205.3L1603.5 206.8L1604.8 208.0L1606.0 211.8L1607.3 213.8L1609.8 217.1L1611.0 217.6L1612.3 216.7L1612.5 218.3L1613.5 218.4L1614.8 216.2L1616.0 215.6L1617.3 215.1L1618.5 215.7L1619.8 213.7L1621.0 214.8L1622.5 214.3L1623.5 214.8L1624.8 213.6L1626.0 214.8L1627.3 217.0L1628.5 218.1L1629.8 221.5L1631.0 223.6L1631.0 223.4L1632.3 225.3L1633.5 225.1L1634.8 226.8L1636.0 230.3L1638.5 234.0L1639.8 236.4L1641.0 236.2L1642.3 238.8L1642.5 240.6L1643.5 242.6L1644.8 243.8L1646.0 247.4L1647.3 251.8L1648.5 255.3L1649.8 257.6L1650.0 256.6L1651.0 258.6L1652.3 262.7L1653.5 263.0L1654.8 266.4L1656.0 268.6L1657.3 268.5L1658.5 270.9L1659.8 273.9L1660.0 275.8L1661.0 278.5L1662.3 280.5L1664.8 289.9L1666.0 293.2L1667.3 300.0L1667.5 299.4L1668.5 305.6L1669.8 310.1L1673.5 333.0L1673.8 335.4L1674.8 342.0L1681.0 392.9L1682.3 404.5L1683.5 413.5L1687.3 447.1L1688.9 463.3L1691.0 480.0L1693.7 495.4L1695.3 500.8L1696.0 501.5L1696.9 500.8L1698.5 497.0L1700.1 490.8L1703.3 476.2L1704.9 466.8L1711.3 420.3L1716.1 382.5L1717.7 371.2L1724.1 332.6L1728.9 296.6L1732.1 278.8L1733.7 271.3L1735.3 266.1L1736.9 264.2L1738.5 261.6L1739.7 260.4L1741.0 261.3L1742.0 258.4L1743.0 258.2L1744.0 259.5L1745.0 256.8L1746.0 257.2L1747.0 258.9L1748.0 258.6L1748.8 256.2L1749.0 259.0L1750.0 257.1L1751.0 256.9L1752.0 258.1L1754.0 259.3L1755.0 260.5L1756.0 264.2L1757.0 264.6L1758.0 264.4L1759.0 267.8L1760.0 266.9L1760.0 268.5L1761.0 267.7L1762.0 270.7L1763.0 271.9L1764.0 270.8L1765.0 271.7L1766.0 275.1L1767.0 274.8L1768.0 278.4L1770.0 281.4L1771.0 283.4L1772.0 283.2L1772.5 285.9L1773.0 285.0L1774.0 289.7L1775.0 290.6L1776.2 295.9L1778.7 304.8L1780.3 311.6L1781.9 321.3L1786.7 356.3L1788.3 363.7L1789.9 372.3L1794.7 393.3L1796.3 396.9L1797.9 399.4L1798.8 399.5L1799.5 399.9L1801.1 396.1L1802.7 390.4L1807.5 367.1L1812.3 335.3L1812.5 335.5L1813.9 328.9L1815.5 323.9L1817.1 320.1L1817.5 320.4L1818.7 317.9L1821.9 314.2L1823.5 312.8L1825.1 312.1L1826.0 312.1L1826.7 313.0L1829.9 324.1L1831.0 326.2L1831.5 326.4L1833.1 325.6L1834.7 324.1L1836.3 321.3L1837.5 320.3L1837.9 319.6L1839.5 315.5L1841.1 309.1L1844.3 299.3L1847.5 292.9L1849.1 290.9L1850.7 289.7L1852.3 287.4L1853.9 286.5L1855.0 284.6L1855.5 284.9L1857.1 283.3L1858.7 282.1L1860.3 280.3L1863.5 277.9L1865.1 277.4L1869.9 272.3L1870.0 272.0L1871.5 269.9L1873.1 267.3L1877.9 257.9L1884.3 244.0L1885.0 243.0L1887.5 237.4L1889.1 233.3L1890.7 229.8L1893.9 224.5L1895.5 222.4L1897.1 221.0L1897.5 221.0L1898.7 221.6L1900.3 224.9L1901.9 230.0L1903.5 236.2L1906.7 245.6L1907.5 247.1L1908.3 249.4L1909.9 251.1L1911.5 253.7L1913.1 255.9L1914.7 258.6L1917.9 262.4L1919.5 263.5L1921.1 266.0L1922.7 268.0L1924.3 269.6L1925.0 269.8L1925.9 270.7L1927.5 273.1L1929.1 274.6L1930.7 275.8L1932.3 276.6L1933.9 278.7L1937.1 282.0L1938.7 283.3L1940.0 284.7L1940.3 285.8L1941.9 287.6L1943.5 291.2L1945.1 293.6L1946.7 296.6L1948.8 299.7L1949.9 302.1L1951.5 303.5L1953.1 306.1L1954.7 307.5L1956.3 307.7L1957.9 307.0L1959.5 305.5L1961.1 303.0L1964.3 300.9L1965.9 300.9L1969.1 302.8L1973.8 306.3L1973.9 305.7L1975.5 305.0L1977.1 302.3L1978.7 298.7L1980.3 294.3L1981.9 286.4L1986.7 255.7L1989.9 238.2L1991.5 231.7L1993.1 228.7L1994.7 227.0L1996.3 226.6L1997.9 224.8L1999.5 224.5L2000.0 223.4L2001.1 223.2L2005.9 220.7L2007.5 219.1L2009.1 218.1L2010.7 217.8L2012.5 216.3L2013.9 214.4L2015.5 212.6L2017.1 210.4L2018.7 209.0L2025.0 200.3L2025.1 199.6L2026.7 198.0L2028.3 195.3L2029.9 191.8L2031.5 189.3L2034.7 186.8L2036.0 185.6L2037.9 186.2L2041.1 189.7L2042.7 190.7L2044.3 192.3L2045.9 193.5L2048.8 194.8L2049.1 195.3L2050.7 192.7L2052.3 189.4L2055.5 177.9L2057.1 173.7L2057.5 172.2L2060.3 164.7L2061.9 161.0L2066.7 148.4L2067.5 147.1L2068.3 146.5L2071.5 140.5L2073.1 137.2L2076.3 133.8L2077.9 132.9L2078.8 132.2L2079.5 132.4L2082.7 137.3L2084.3 141.0L2085.9 146.0L2087.5 150.0L2089.1 153.1L2090.0 155.4L2092.3 159.8L2093.9 162.0L2095.5 165.6L2097.1 168.4L2098.7 170.3L2100.3 170.5L2101.0 171.4L2101.9 170.5L2103.5 166.2L2105.1 159.3L2108.3 147.8L2108.8 147.8L2109.9 145.2L2111.5 142.5L2113.1 140.5L2115.0 139.5L2117.9 143.0L2119.5 145.7L2122.7 156.4L2124.3 163.0L2125.9 177.7L2129.1 214.2L2132.3 245.0L2135.5 280.9L2138.8 322.7L2141.9 377.8L2143.5 398.3L2145.1 414.2L2146.0 417.2L2146.7 416.0L2148.3 407.4L2151.5 380.2L2155.0 347.7L2156.3 336.5L2157.9 327.0L2158.8 324.5L2159.5 326.0L2161.1 331.7L2162.7 340.3L2164.3 353.5L2169.1 439.2L2170.7 459.6L2171.0 460.5L2173.9 462.2L2175.5 462.8L2177.1 464.8L2177.5 464.5L2178.7 472.2L2180.3 486.0L2181.0 487.0L2181.9 486.0L2183.5 477.3L2186.7 455.2L2191.5 426.6L2193.1 418.5L2194.7 409.3L2197.9 395.4L2199.5 389.1L2201.1 383.7L2202.5 382.0L2202.7 383.0L2204.3 386.4L2205.9 393.5L2207.0 399.7L2207.5 404.1L2209.1 425.8L2210.7 455.4L2219.0 664.9L2220.3 693.2L2222.0 721.9L2223.5 744.3L2224.5 750.1L2225.1 747.9L2227.0 722.2L2228.3 694.2L2231.5 607.1L2232.5 574.9L2234.2 490.1L2237.9 383.4L2239.5 350.5L2241.1 326.7L2244.3 287.6L2246.0 272.7L2247.5 262.2L2249.1 253.7L2250.7 249.0L2251.0 248.8L2252.3 248.3L2255.2 246.6L2255.9 248.0L2256.4 248.5L2257.4 247.8L2258.4 248.3L2259.4 245.0L2260.4 247.9L2261.2 245.0L2261.4 247.6L2262.4 246.2L2263.4 243.4L2264.4 237.5L2265.4 233.6L2266.4 231.3L2266.5 234.3L2267.4 228.6L2269.4 224.0L2270.4 224.6L2271.4 220.7L2271.9 219.6L2272.4 221.5L2274.4 217.9L2275.4 213.0L2276.4 212.6L2277.2 214.8L2277.4 214.3L2278.4 213.4L2279.4 209.8L2280.4 208.9L2281.4 212.0L2282.5 208.5L2283.4 209.0L2284.4 210.5L2285.4 214.8L2287.8 218.1L2288.4 217.8L2289.4 219.1L2290.4 218.5L2291.4 218.8L2292.4 216.9L2293.1 217.9L2293.4 220.9L2294.4 218.8L2295.4 220.4L2296.4 226.0L2297.4 224.8L2298.4 228.5L2298.4 226.7L2299.4 230.2L2300.4 231.6L2301.4 229.9L2302.4 231.7L2303.4 232.7L2303.7 232.3L2304.4 236.1L2305.4 234.7L2306.4 238.9L2307.4 239.8L2308.4 239.9L2309.0 240.4L2309.4 237.9L2310.4 237.9L2311.4 239.6L2312.4 237.0L2313.4 238.6L2314.4 235.2L2315.4 235.9L2316.4 235.5L2316.4 235.2L2317.4 238.4L2318.4 238.4L2319.4 236.2L2320.4 238.4L2321.4 236.5L2322.4 236.8L2323.4 236.1L2324.4 239.8L2324.9 236.4L2325.4 236.5L2326.4 237.1L2327.4 235.9L2328.4 239.6L2329.4 239.1L2330.4 236.3L2331.4 235.7L2332.4 236.1L2333.4 236.3L2334.4 238.9L2335.6 235.8L2336.4 235.2L2337.4 238.4L2338.4 234.8L2339.4 237.0L2340.4 237.3L2341.4 234.0L2342.4 236.8L2343.4 235.8L2344.4 236.3L2345.4 236.2L2346.2 235.3L2346.4 235.7L2347.4 232.0L2348.4 235.2L2349.4 231.9L2350.4 232.3L2351.4 231.6L2351.5 235.1L2353.4 234.2L2354.4 230.4L2355.4 229.5L2356.8 228.0L2357.4 228.0L2358.4 226.5L2359.4 227.8L2360.4 225.7L2361.4 221.8L2362.1 221.2L2362.4 223.1L2363.4 222.0L2364.4 218.1L2365.4 217.5L2366.4 220.0L2367.4 217.1L2367.4 218.9L2368.4 216.2L2369.4 216.4L2370.4 217.8L2371.4 214.7L2372.4 217.1L2372.7 216.9L2373.4 213.9L2374.4 213.1L2375.4 211.6L2376.4 213.5L2377.4 212.5L2378.0 209.5L2378.4 212.1L2379.4 209.4L2380.4 211.6L2381.4 210.9L2382.4 211.5L2383.3 208.2L2383.4 208.1L2384.4 210.8L2385.4 212.1L2386.4 210.4L2387.4 215.0L2388.7 213.1L2389.4 214.1L2391.4 219.9L2393.4 225.0L2394.0 229.7L2394.4 230.9L2395.4 231.1L2396.4 234.7L2397.4 237.4L2398.4 239.2L2399.4 242.4L2401.4 238.8L2402.4 232.8L2403.4 229.8L2404.4 229.8L2404.6 226.6L2405.4 224.9L2406.4 222.0L2407.4 220.7L2408.4 218.8L2409.4 221.1L2409.9 217.4L2410.4 218.1L2411.4 218.1L2412.4 217.0L2413.4 220.4L2414.4 220.8L2415.2 220.6L2415.4 217.8L2416.4 220.5L2417.4 221.1L2418.4 219.1L2419.4 219.8L2420.4 222.1L2420.5 219.9L2421.4 221.5L2422.4 217.6L2423.4 219.2L2424.4 217.7L2426.4 213.3L2427.4 212.9L2428.4 208.4L2429.4 209.5L2430.4 208.1L2431.1 206.6L2431.4 203.4L2436.4 191.1L2436.4 191.6L2437.4 188.9L2438.4 188.3L2439.4 183.3L2440.4 180.9L2441.7 176.7L2443.5 158.9"/>
</g>
<line class="d" x1="571" y1="111.2" x2="571" y2="1353.3"/>
<line class="d" x1="1614" y1="93.8" x2="1614" y2="1377.5"/>
<line class="d" x1="2048" y1="97" x2="2048" y2="1380.5"/>
<text x="872.5" y="208.3" font-size="103" clip-path="url(#h150)">THFI-150</text>
<text x="872.5" y="426.0" font-size="103" clip-path="url(#h120)">THFI-120</text>
<text x="903.0" y="646.0" font-size="103">THFI-90</text>
<text x="903.0" y="870.0" font-size="103">THFI-60</text>
<text x="903.0" y="1059.0" font-size="103">THFI-30</text>
<text x="933.0" y="1261.7" font-size="103">THFI-0</text>
<text x="469" y="1455" font-size="103">-OH</text>
<text x="1474.5" y="1475" font-size="103">&gt;C=O</text>
<text x="1867.5" y="1471" font-size="103">&gt;S=O</text>
<text x="207.5" y="1929.4" font-size="103" text-anchor="middle">4000</text>
<text x="828.5" y="1929.4" font-size="103" text-anchor="middle">3000</text>
<text x="1450.0" y="1929.4" font-size="103" text-anchor="middle">2000</text>
<text x="2070.0" y="1929.4" font-size="103" text-anchor="middle" clip-path="url(#h1000)">1000</text>
<text x="717.5" y="2084.2" font-size="131.8">Wavenumber (cm</text>
<text x="1813.5" y="2029.8" font-size="90" clip-path="url(#hsup)">-1</text>
<text x="1892" y="2084.2" font-size="131">)</text>
<text transform="translate(130 1535) rotate(-90)" font-size="131">Transmittance (a.u.)</text>
</svg></body></html>
